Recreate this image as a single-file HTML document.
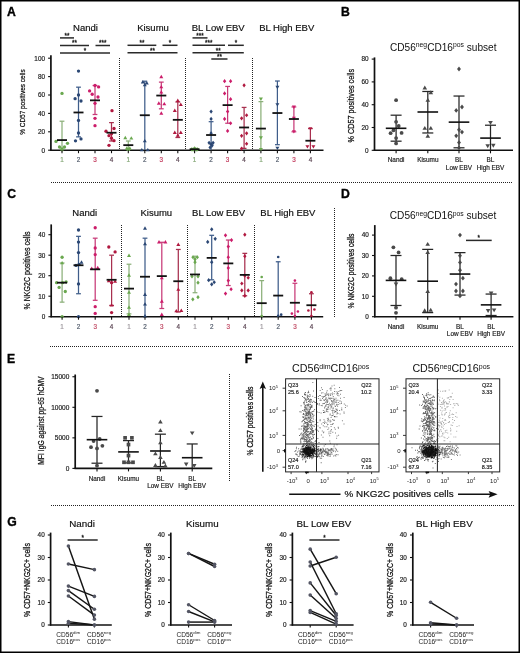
<!DOCTYPE html>
<html><head><meta charset="utf-8"><style>
html,body{margin:0;padding:0;background:#fff;}
svg{display:block;will-change:transform;}
</style></head><body>
<svg width="520" height="653" viewBox="0 0 520 653" font-family='"Liberation Sans", sans-serif'>
<rect x="0" y="0" width="520" height="653" fill="#fff"/>
<text x="7.00" y="15.70" font-size="12.2" text-anchor="start" font-weight="bold" fill="#000"  stroke="#000" stroke-width="0.35">A</text>
<text x="341.00" y="15.70" font-size="12.2" text-anchor="start" font-weight="bold" fill="#000"  stroke="#000" stroke-width="0.35">B</text>
<text x="7.20" y="197.80" font-size="12.2" text-anchor="start" font-weight="bold" fill="#000"  stroke="#000" stroke-width="0.35">C</text>
<text x="341.00" y="197.60" font-size="12.2" text-anchor="start" font-weight="bold" fill="#000"  stroke="#000" stroke-width="0.35">D</text>
<text x="7.10" y="362.60" font-size="12.2" text-anchor="start" font-weight="bold" fill="#000"  stroke="#000" stroke-width="0.35">E</text>
<text x="244.70" y="362.50" font-size="12.2" text-anchor="start" font-weight="bold" fill="#000"  stroke="#000" stroke-width="0.35">F</text>
<text x="7.20" y="526.00" font-size="12.2" text-anchor="start" font-weight="bold" fill="#000"  stroke="#000" stroke-width="0.35">G</text>
<line x1="50.90" y1="55.20" x2="50.90" y2="150.80" stroke="#111" stroke-width="1.7" />
<line x1="48.10" y1="150.20" x2="50.90" y2="150.20" stroke="#111" stroke-width="1.1" />
<text x="45.00" y="152.50" font-size="6.4" text-anchor="end" font-weight="normal" fill="#222" stroke="#222" stroke-width="0.18" >0</text>
<line x1="48.10" y1="131.80" x2="50.90" y2="131.80" stroke="#111" stroke-width="1.1" />
<text x="45.00" y="134.10" font-size="6.4" text-anchor="end" font-weight="normal" fill="#222" stroke="#222" stroke-width="0.18" >20</text>
<line x1="48.10" y1="113.40" x2="50.90" y2="113.40" stroke="#111" stroke-width="1.1" />
<text x="45.00" y="115.70" font-size="6.4" text-anchor="end" font-weight="normal" fill="#222" stroke="#222" stroke-width="0.18" >40</text>
<line x1="48.10" y1="95.00" x2="50.90" y2="95.00" stroke="#111" stroke-width="1.1" />
<text x="45.00" y="97.30" font-size="6.4" text-anchor="end" font-weight="normal" fill="#222" stroke="#222" stroke-width="0.18" >60</text>
<line x1="48.10" y1="76.60" x2="50.90" y2="76.60" stroke="#111" stroke-width="1.1" />
<text x="45.00" y="78.90" font-size="6.4" text-anchor="end" font-weight="normal" fill="#222" stroke="#222" stroke-width="0.18" >80</text>
<line x1="48.10" y1="58.20" x2="50.90" y2="58.20" stroke="#111" stroke-width="1.1" />
<text x="45.00" y="60.50" font-size="6.4" text-anchor="end" font-weight="normal" fill="#222" stroke="#222" stroke-width="0.18" >100</text>
<text x="25.10" y="102.00" font-size="7.9" text-anchor="middle" fill="#111" stroke="#111" stroke-width="0.25" transform="rotate(-90 25.10 102.00)" textLength="65.5" lengthAdjust="spacingAndGlyphs">% CD57 positives cells</text>
<line x1="50.20" y1="150.20" x2="323.50" y2="150.20" stroke="#111" stroke-width="1.6" />
<line x1="119.50" y1="57.50" x2="119.50" y2="150.20" stroke="#222" stroke-width="1" stroke-dasharray="1 1" shape-rendering="crispEdges"/>
<line x1="185.50" y1="57.50" x2="185.50" y2="150.20" stroke="#222" stroke-width="1" stroke-dasharray="1 1" shape-rendering="crispEdges"/>
<line x1="252.50" y1="57.50" x2="252.50" y2="150.20" stroke="#222" stroke-width="1" stroke-dasharray="1 1" shape-rendering="crispEdges"/>
<text x="85.50" y="30.70" font-size="9.5" text-anchor="middle" font-weight="normal" fill="#111" stroke="#111" stroke-width="0.18" >Nandi</text>
<text x="153.00" y="30.70" font-size="9.5" text-anchor="middle" font-weight="normal" fill="#111" stroke="#111" stroke-width="0.18" >Kisumu</text>
<text x="218.20" y="30.70" font-size="9.5" text-anchor="middle" font-weight="normal" fill="#111" stroke="#111" stroke-width="0.18" >BL Low EBV</text>
<text x="286.70" y="30.70" font-size="9.5" text-anchor="middle" font-weight="normal" fill="#111" stroke="#111" stroke-width="0.18" >BL High EBV</text>
<line x1="62.00" y1="121.22" x2="62.00" y2="150.20" stroke="#8cb07a" stroke-width="1.25" />
<line x1="59.60" y1="121.22" x2="64.40" y2="121.22" stroke="#8cb07a" stroke-width="1.25" />
<circle cx="62.00" cy="93.44" r="1.65" fill="#6aa84f"/>
<circle cx="56.00" cy="141.46" r="1.65" fill="#6aa84f"/>
<circle cx="67.50" cy="143.30" r="1.65" fill="#6aa84f"/>
<circle cx="59.50" cy="146.98" r="1.65" fill="#6aa84f"/>
<circle cx="62.00" cy="148.82" r="1.65" fill="#6aa84f"/>
<circle cx="64.50" cy="146.98" r="1.65" fill="#6aa84f"/>
<circle cx="62.00" cy="149.74" r="1.65" fill="#6aa84f"/>
<line x1="57.00" y1="140.08" x2="67.00" y2="140.08" stroke="#111" stroke-width="1.8" />
<line x1="62.00" y1="150.20" x2="62.00" y2="153.20" stroke="#111" stroke-width="1.1" />
<text x="62.00" y="161.80" font-size="6.3" text-anchor="middle" font-weight="normal" fill="#86a878" stroke="#86a878" stroke-width="0.18" >1</text>
<line x1="78.50" y1="87.18" x2="78.50" y2="136.86" stroke="#3f5d8a" stroke-width="1.25" />
<line x1="76.10" y1="87.18" x2="80.90" y2="87.18" stroke="#3f5d8a" stroke-width="1.25" />
<line x1="76.10" y1="136.86" x2="80.90" y2="136.86" stroke="#3f5d8a" stroke-width="1.25" />
<circle cx="78.50" cy="71.08" r="1.65" fill="#2b4774"/>
<circle cx="78.50" cy="95.00" r="1.65" fill="#2b4774"/>
<circle cx="75.10" cy="98.68" r="1.65" fill="#2b4774"/>
<circle cx="81.00" cy="100.98" r="1.65" fill="#2b4774"/>
<circle cx="78.50" cy="120.39" r="1.65" fill="#2b4774"/>
<circle cx="78.50" cy="133.00" r="1.65" fill="#2b4774"/>
<circle cx="75.50" cy="140.82" r="1.65" fill="#2b4774"/>
<circle cx="81.00" cy="138.88" r="1.65" fill="#2b4774"/>
<line x1="73.50" y1="112.48" x2="83.50" y2="112.48" stroke="#111" stroke-width="1.8" />
<line x1="78.50" y1="150.20" x2="78.50" y2="153.20" stroke="#111" stroke-width="1.1" />
<text x="78.50" y="161.80" font-size="6.3" text-anchor="middle" font-weight="normal" fill="#4e5868" stroke="#4e5868" stroke-width="0.18" >2</text>
<line x1="95.00" y1="85.52" x2="95.00" y2="114.50" stroke="#c83a78" stroke-width="1.25" />
<line x1="92.60" y1="85.52" x2="97.40" y2="85.52" stroke="#c83a78" stroke-width="1.25" />
<line x1="92.60" y1="114.50" x2="97.40" y2="114.50" stroke="#c83a78" stroke-width="1.25" />
<circle cx="89.60" cy="90.95" r="1.65" fill="#cc1d6a"/>
<circle cx="95.00" cy="85.52" r="1.65" fill="#cc1d6a"/>
<circle cx="98.60" cy="86.90" r="1.65" fill="#cc1d6a"/>
<circle cx="92.20" cy="94.26" r="1.65" fill="#cc1d6a"/>
<circle cx="98.00" cy="97.02" r="1.65" fill="#cc1d6a"/>
<circle cx="95.00" cy="103.28" r="1.65" fill="#cc1d6a"/>
<circle cx="95.00" cy="118.37" r="1.65" fill="#cc1d6a"/>
<circle cx="95.00" cy="125.64" r="1.65" fill="#cc1d6a"/>
<line x1="90.00" y1="100.34" x2="100.00" y2="100.34" stroke="#111" stroke-width="1.8" />
<line x1="95.00" y1="150.20" x2="95.00" y2="153.20" stroke="#111" stroke-width="1.1" />
<text x="95.00" y="161.80" font-size="6.3" text-anchor="middle" font-weight="normal" fill="#c23a5c" stroke="#c23a5c" stroke-width="0.18" >3</text>
<line x1="111.50" y1="122.60" x2="111.50" y2="141.00" stroke="#a8304f" stroke-width="1.25" />
<line x1="109.10" y1="122.60" x2="113.90" y2="122.60" stroke="#a8304f" stroke-width="1.25" />
<line x1="109.10" y1="141.00" x2="113.90" y2="141.00" stroke="#a8304f" stroke-width="1.25" />
<circle cx="112.00" cy="110.64" r="1.65" fill="#b0183f"/>
<circle cx="106.00" cy="131.25" r="1.65" fill="#b0183f"/>
<circle cx="114.00" cy="128.49" r="1.65" fill="#b0183f"/>
<circle cx="109.00" cy="135.66" r="1.65" fill="#b0183f"/>
<circle cx="111.50" cy="133.64" r="1.65" fill="#b0183f"/>
<circle cx="114.00" cy="140.72" r="1.65" fill="#b0183f"/>
<circle cx="109.00" cy="145.32" r="1.65" fill="#b0183f"/>
<circle cx="111.50" cy="138.24" r="1.65" fill="#b0183f"/>
<line x1="106.50" y1="132.72" x2="116.50" y2="132.72" stroke="#111" stroke-width="1.8" />
<line x1="111.50" y1="150.20" x2="111.50" y2="153.20" stroke="#111" stroke-width="1.1" />
<text x="111.50" y="161.80" font-size="6.3" text-anchor="middle" font-weight="normal" fill="#5a4452" stroke="#5a4452" stroke-width="0.18" >4</text>
<line x1="128.30" y1="141.00" x2="128.30" y2="150.20" stroke="#8cb07a" stroke-width="1.25" />
<line x1="125.90" y1="141.00" x2="130.70" y2="141.00" stroke="#8cb07a" stroke-width="1.25" />
<path d="M125.30 135.74L127.30 139.14L123.30 139.14Z" fill="#6aa84f"/>
<path d="M131.30 136.20L133.30 139.60L129.30 139.60Z" fill="#6aa84f"/>
<path d="M126.80 146.32L128.80 149.72L124.80 149.72Z" fill="#6aa84f"/>
<path d="M129.80 146.32L131.80 149.72L127.80 149.72Z" fill="#6aa84f"/>
<path d="M128.30 147.70L130.30 151.10L126.30 151.10Z" fill="#6aa84f"/>
<line x1="123.30" y1="145.14" x2="133.30" y2="145.14" stroke="#111" stroke-width="1.8" />
<line x1="128.30" y1="150.20" x2="128.30" y2="153.20" stroke="#111" stroke-width="1.1" />
<text x="128.30" y="161.80" font-size="6.3" text-anchor="middle" font-weight="normal" fill="#86a878" stroke="#86a878" stroke-width="0.18" >1</text>
<line x1="144.80" y1="81.20" x2="144.80" y2="150.20" stroke="#3f5d8a" stroke-width="1.25" />
<line x1="142.40" y1="81.20" x2="147.20" y2="81.20" stroke="#3f5d8a" stroke-width="1.25" />
<path d="M142.80 80.08L144.80 83.48L140.80 83.48Z" fill="#2b4774"/>
<path d="M146.80 81.00L148.80 84.40L144.80 84.40Z" fill="#2b4774"/>
<path d="M144.80 82.84L146.80 86.24L142.80 86.24Z" fill="#2b4774"/>
<path d="M144.80 138.96L146.80 142.36L142.80 142.36Z" fill="#2b4774"/>
<path d="M141.80 147.88L143.80 151.28L139.80 151.28Z" fill="#2b4774"/>
<path d="M147.80 147.88L149.80 151.28L145.80 151.28Z" fill="#2b4774"/>
<line x1="139.80" y1="115.24" x2="149.80" y2="115.24" stroke="#111" stroke-width="1.8" />
<line x1="144.80" y1="150.20" x2="144.80" y2="153.20" stroke="#111" stroke-width="1.1" />
<text x="144.80" y="161.80" font-size="6.3" text-anchor="middle" font-weight="normal" fill="#4e5868" stroke="#4e5868" stroke-width="0.18" >2</text>
<line x1="161.30" y1="82.12" x2="161.30" y2="108.80" stroke="#c83a78" stroke-width="1.25" />
<line x1="158.90" y1="82.12" x2="163.70" y2="82.12" stroke="#c83a78" stroke-width="1.25" />
<line x1="158.90" y1="108.80" x2="163.70" y2="108.80" stroke="#c83a78" stroke-width="1.25" />
<path d="M161.30 74.84L163.30 78.24L159.30 78.24Z" fill="#cc1d6a"/>
<path d="M161.30 84.96L163.30 88.36L159.30 88.36Z" fill="#cc1d6a"/>
<path d="M161.30 90.20L163.30 93.60L159.30 93.60Z" fill="#cc1d6a"/>
<path d="M158.80 101.24L160.80 104.64L156.80 104.64Z" fill="#cc1d6a"/>
<path d="M164.30 101.88L166.30 105.28L162.30 105.28Z" fill="#cc1d6a"/>
<path d="M161.30 111.36L163.30 114.76L159.30 114.76Z" fill="#cc1d6a"/>
<line x1="156.30" y1="95.55" x2="166.30" y2="95.55" stroke="#111" stroke-width="1.8" />
<line x1="161.30" y1="150.20" x2="161.30" y2="153.20" stroke="#111" stroke-width="1.1" />
<text x="161.30" y="161.80" font-size="6.3" text-anchor="middle" font-weight="normal" fill="#c23a5c" stroke="#c23a5c" stroke-width="0.18" >3</text>
<line x1="177.80" y1="101.99" x2="177.80" y2="137.50" stroke="#a8304f" stroke-width="1.25" />
<line x1="175.40" y1="101.99" x2="180.20" y2="101.99" stroke="#a8304f" stroke-width="1.25" />
<line x1="175.40" y1="137.50" x2="180.20" y2="137.50" stroke="#a8304f" stroke-width="1.25" />
<path d="M177.80 98.48L179.80 101.88L175.80 101.88Z" fill="#b0183f"/>
<path d="M180.80 102.62L182.80 106.02L178.80 106.02Z" fill="#b0183f"/>
<path d="M174.80 108.60L176.80 112.00L172.80 112.00Z" fill="#b0183f"/>
<path d="M174.80 130.50L176.80 133.90L172.80 133.90Z" fill="#b0183f"/>
<path d="M180.80 130.50L182.80 133.90L178.80 133.90Z" fill="#b0183f"/>
<path d="M177.80 133.44L179.80 136.84L175.80 136.84Z" fill="#b0183f"/>
<line x1="172.80" y1="119.84" x2="182.80" y2="119.84" stroke="#111" stroke-width="1.8" />
<line x1="177.80" y1="150.20" x2="177.80" y2="153.20" stroke="#111" stroke-width="1.1" />
<text x="177.80" y="161.80" font-size="6.3" text-anchor="middle" font-weight="normal" fill="#5a4452" stroke="#5a4452" stroke-width="0.18" >4</text>
<line x1="194.60" y1="148.36" x2="194.60" y2="150.20" stroke="#8cb07a" stroke-width="1.25" />
<line x1="192.20" y1="148.36" x2="197.00" y2="148.36" stroke="#8cb07a" stroke-width="1.25" />
<path d="M191.60 147.18L193.28 149.28L191.60 151.38L189.92 149.28Z" fill="#6aa84f"/>
<path d="M194.60 147.18L196.28 149.28L194.60 151.38L192.92 149.28Z" fill="#6aa84f"/>
<path d="M197.60 147.18L199.28 149.28L197.60 151.38L195.92 149.28Z" fill="#6aa84f"/>
<path d="M193.10 147.64L194.78 149.74L193.10 151.84L191.42 149.74Z" fill="#6aa84f"/>
<path d="M196.10 147.64L197.78 149.74L196.10 151.84L194.42 149.74Z" fill="#6aa84f"/>
<path d="M194.60 146.26L196.28 148.36L194.60 150.46L192.92 148.36Z" fill="#6aa84f"/>
<line x1="189.60" y1="149.28" x2="199.60" y2="149.28" stroke="#111" stroke-width="1.8" />
<line x1="194.60" y1="150.20" x2="194.60" y2="153.20" stroke="#111" stroke-width="1.1" />
<text x="194.60" y="161.80" font-size="6.3" text-anchor="middle" font-weight="normal" fill="#86a878" stroke="#86a878" stroke-width="0.18" >1</text>
<line x1="211.10" y1="121.68" x2="211.10" y2="150.20" stroke="#3f5d8a" stroke-width="1.25" />
<line x1="208.70" y1="121.68" x2="213.50" y2="121.68" stroke="#3f5d8a" stroke-width="1.25" />
<path d="M211.10 109.46L212.78 111.56L211.10 113.66L209.42 111.56Z" fill="#2b4774"/>
<path d="M211.10 116.82L212.78 118.92L211.10 121.02L209.42 118.92Z" fill="#2b4774"/>
<path d="M211.10 131.26L212.78 133.36L211.10 135.46L209.42 133.36Z" fill="#2b4774"/>
<path d="M209.10 140.74L210.78 142.84L209.10 144.94L207.42 142.84Z" fill="#2b4774"/>
<path d="M213.10 140.74L214.78 142.84L213.10 144.94L211.42 142.84Z" fill="#2b4774"/>
<path d="M211.10 142.12L212.78 144.22L211.10 146.32L209.42 144.22Z" fill="#2b4774"/>
<path d="M210.10 145.34L211.78 147.44L210.10 149.54L208.42 147.44Z" fill="#2b4774"/>
<path d="M212.10 143.50L213.78 145.60L212.10 147.70L210.42 145.60Z" fill="#2b4774"/>
<line x1="206.10" y1="135.02" x2="216.10" y2="135.02" stroke="#111" stroke-width="1.8" />
<line x1="211.10" y1="150.20" x2="211.10" y2="153.20" stroke="#111" stroke-width="1.1" />
<text x="211.10" y="161.80" font-size="6.3" text-anchor="middle" font-weight="normal" fill="#4e5868" stroke="#4e5868" stroke-width="0.18" >2</text>
<line x1="227.60" y1="86.44" x2="227.60" y2="123.24" stroke="#c83a78" stroke-width="1.25" />
<line x1="225.20" y1="86.44" x2="230.00" y2="86.44" stroke="#c83a78" stroke-width="1.25" />
<line x1="225.20" y1="123.24" x2="230.00" y2="123.24" stroke="#c83a78" stroke-width="1.25" />
<path d="M224.60 79.10L226.28 81.20L224.60 83.30L222.92 81.20Z" fill="#cc1d6a"/>
<path d="M230.60 79.10L232.28 81.20L230.60 83.30L228.92 81.20Z" fill="#cc1d6a"/>
<path d="M224.60 91.34L226.28 93.44L224.60 95.54L222.92 93.44Z" fill="#cc1d6a"/>
<path d="M230.60 97.04L232.28 99.14L230.60 101.24L228.92 99.14Z" fill="#cc1d6a"/>
<path d="M227.60 109.46L229.28 111.56L227.60 113.66L225.92 111.56Z" fill="#cc1d6a"/>
<path d="M224.60 116.82L226.28 118.92L224.60 121.02L222.92 118.92Z" fill="#cc1d6a"/>
<path d="M230.60 121.14L232.28 123.24L230.60 125.34L228.92 123.24Z" fill="#cc1d6a"/>
<path d="M227.60 128.78L229.28 130.88L227.60 132.98L225.92 130.88Z" fill="#cc1d6a"/>
<line x1="222.60" y1="105.12" x2="232.60" y2="105.12" stroke="#111" stroke-width="1.8" />
<line x1="227.60" y1="150.20" x2="227.60" y2="153.20" stroke="#111" stroke-width="1.1" />
<text x="227.60" y="161.80" font-size="6.3" text-anchor="middle" font-weight="normal" fill="#c23a5c" stroke="#c23a5c" stroke-width="0.18" >3</text>
<line x1="244.10" y1="107.42" x2="244.10" y2="148.36" stroke="#a8304f" stroke-width="1.25" />
<line x1="241.70" y1="107.42" x2="246.50" y2="107.42" stroke="#a8304f" stroke-width="1.25" />
<line x1="241.70" y1="148.36" x2="246.50" y2="148.36" stroke="#a8304f" stroke-width="1.25" />
<path d="M244.10 83.24L245.78 85.34L244.10 87.44L242.42 85.34Z" fill="#b0183f"/>
<path d="M241.60 116.27L243.28 118.37L241.60 120.47L239.92 118.37Z" fill="#b0183f"/>
<path d="M246.60 113.14L248.28 115.24L246.60 117.34L244.92 115.24Z" fill="#b0183f"/>
<path d="M241.60 133.75L243.28 135.85L241.60 137.95L239.92 135.85Z" fill="#b0183f"/>
<path d="M246.60 131.26L248.28 133.36L246.60 135.46L244.92 133.36Z" fill="#b0183f"/>
<path d="M246.60 141.66L248.28 143.76L246.60 145.86L244.92 143.76Z" fill="#b0183f"/>
<path d="M241.60 146.44L243.28 148.54L241.60 150.64L239.92 148.54Z" fill="#b0183f"/>
<line x1="239.10" y1="127.48" x2="249.10" y2="127.48" stroke="#111" stroke-width="1.8" />
<line x1="244.10" y1="150.20" x2="244.10" y2="153.20" stroke="#111" stroke-width="1.1" />
<text x="244.10" y="161.80" font-size="6.3" text-anchor="middle" font-weight="normal" fill="#5a4452" stroke="#5a4452" stroke-width="0.18" >4</text>
<line x1="260.90" y1="101.62" x2="260.90" y2="150.20" stroke="#8cb07a" stroke-width="1.25" />
<line x1="258.50" y1="101.62" x2="263.30" y2="101.62" stroke="#8cb07a" stroke-width="1.25" />
<path d="M260.90 101.00L262.90 97.60L258.90 97.60Z" fill="#6aa84f"/>
<path d="M260.90 139.64L262.90 136.24L258.90 136.24Z" fill="#6aa84f"/>
<path d="M260.90 151.50L262.90 148.10L258.90 148.10Z" fill="#6aa84f"/>
<line x1="255.90" y1="128.58" x2="265.90" y2="128.58" stroke="#111" stroke-width="1.8" />
<line x1="260.90" y1="150.20" x2="260.90" y2="153.20" stroke="#111" stroke-width="1.1" />
<text x="260.90" y="161.80" font-size="6.3" text-anchor="middle" font-weight="normal" fill="#86a878" stroke="#86a878" stroke-width="0.18" >1</text>
<line x1="277.40" y1="81.02" x2="277.40" y2="144.68" stroke="#3f5d8a" stroke-width="1.25" />
<line x1="275.00" y1="81.02" x2="279.80" y2="81.02" stroke="#3f5d8a" stroke-width="1.25" />
<line x1="275.00" y1="144.68" x2="279.80" y2="144.68" stroke="#3f5d8a" stroke-width="1.25" />
<path d="M277.40 89.13L279.40 85.73L275.40 85.73Z" fill="#2b4774"/>
<path d="M277.40 106.61L279.40 103.21L275.40 103.21Z" fill="#2b4774"/>
<path d="M277.40 150.03L279.40 146.63L275.40 146.63Z" fill="#2b4774"/>
<line x1="272.40" y1="113.03" x2="282.40" y2="113.03" stroke="#111" stroke-width="1.8" />
<line x1="277.40" y1="150.20" x2="277.40" y2="153.20" stroke="#111" stroke-width="1.1" />
<text x="277.40" y="161.80" font-size="6.3" text-anchor="middle" font-weight="normal" fill="#4e5868" stroke="#4e5868" stroke-width="0.18" >2</text>
<line x1="293.90" y1="106.96" x2="293.90" y2="131.80" stroke="#c83a78" stroke-width="1.25" />
<line x1="291.50" y1="106.96" x2="296.30" y2="106.96" stroke="#c83a78" stroke-width="1.25" />
<line x1="291.50" y1="131.80" x2="296.30" y2="131.80" stroke="#c83a78" stroke-width="1.25" />
<path d="M293.90 109.00L295.90 105.60L291.90 105.60Z" fill="#cc1d6a"/>
<path d="M293.90 120.04L295.90 116.64L291.90 116.64Z" fill="#cc1d6a"/>
<path d="M293.90 133.56L295.90 130.16L291.90 130.16Z" fill="#cc1d6a"/>
<line x1="288.90" y1="119.01" x2="298.90" y2="119.01" stroke="#111" stroke-width="1.8" />
<line x1="293.90" y1="150.20" x2="293.90" y2="153.20" stroke="#111" stroke-width="1.1" />
<text x="293.90" y="161.80" font-size="6.3" text-anchor="middle" font-weight="normal" fill="#c23a5c" stroke="#c23a5c" stroke-width="0.18" >3</text>
<line x1="310.40" y1="128.58" x2="310.40" y2="150.20" stroke="#a8304f" stroke-width="1.25" />
<line x1="308.00" y1="128.58" x2="312.80" y2="128.58" stroke="#a8304f" stroke-width="1.25" />
<path d="M310.40 130.62L312.40 127.22L308.40 127.22Z" fill="#b0183f"/>
<path d="M307.40 148.56L309.40 145.16L305.40 145.16Z" fill="#b0183f"/>
<path d="M313.40 148.56L315.40 145.16L311.40 145.16Z" fill="#b0183f"/>
<line x1="305.40" y1="140.72" x2="315.40" y2="140.72" stroke="#111" stroke-width="1.8" />
<line x1="310.40" y1="150.20" x2="310.40" y2="153.20" stroke="#111" stroke-width="1.1" />
<text x="310.40" y="161.80" font-size="6.3" text-anchor="middle" font-weight="normal" fill="#5a4452" stroke="#5a4452" stroke-width="0.18" >4</text>
<line x1="60.00" y1="37.90" x2="74.00" y2="37.90" stroke="#2a2a2a" stroke-width="1.5" />
<text x="67.00" y="37.80" font-size="6.3" text-anchor="middle" font-weight="normal" fill="#1a1a1a"  stroke="#1a1a1a" stroke-width="0.3">**</text>
<line x1="60.00" y1="45.50" x2="89.00" y2="45.50" stroke="#2a2a2a" stroke-width="1.5" />
<text x="74.50" y="45.40" font-size="6.3" text-anchor="middle" font-weight="normal" fill="#1a1a1a"  stroke="#1a1a1a" stroke-width="0.3">**</text>
<line x1="95.50" y1="45.50" x2="110.00" y2="45.50" stroke="#2a2a2a" stroke-width="1.5" />
<text x="102.75" y="45.40" font-size="6.3" text-anchor="middle" font-weight="normal" fill="#1a1a1a"  stroke="#1a1a1a" stroke-width="0.3">***</text>
<line x1="60.00" y1="53.00" x2="110.00" y2="53.00" stroke="#2a2a2a" stroke-width="1.5" />
<text x="85.00" y="52.90" font-size="6.3" text-anchor="middle" font-weight="normal" fill="#1a1a1a"  stroke="#1a1a1a" stroke-width="0.3">*</text>
<line x1="127.50" y1="45.30" x2="156.30" y2="45.30" stroke="#2a2a2a" stroke-width="1.5" />
<text x="141.90" y="45.20" font-size="6.3" text-anchor="middle" font-weight="normal" fill="#1a1a1a"  stroke="#1a1a1a" stroke-width="0.3">**</text>
<line x1="162.50" y1="45.30" x2="177.50" y2="45.30" stroke="#2a2a2a" stroke-width="1.5" />
<text x="170.00" y="45.20" font-size="6.3" text-anchor="middle" font-weight="normal" fill="#1a1a1a"  stroke="#1a1a1a" stroke-width="0.3">*</text>
<line x1="127.50" y1="52.80" x2="177.50" y2="52.80" stroke="#2a2a2a" stroke-width="1.5" />
<text x="152.50" y="52.70" font-size="6.3" text-anchor="middle" font-weight="normal" fill="#1a1a1a"  stroke="#1a1a1a" stroke-width="0.3">**</text>
<line x1="192.50" y1="37.90" x2="207.50" y2="37.90" stroke="#2a2a2a" stroke-width="1.5" />
<text x="200.00" y="37.80" font-size="6.3" text-anchor="middle" font-weight="normal" fill="#1a1a1a"  stroke="#1a1a1a" stroke-width="0.3">***</text>
<line x1="192.50" y1="45.30" x2="225.00" y2="45.30" stroke="#2a2a2a" stroke-width="1.5" />
<text x="208.75" y="45.20" font-size="6.3" text-anchor="middle" font-weight="normal" fill="#1a1a1a"  stroke="#1a1a1a" stroke-width="0.3">***</text>
<line x1="228.00" y1="45.30" x2="243.80" y2="45.30" stroke="#2a2a2a" stroke-width="1.5" />
<text x="235.90" y="45.20" font-size="6.3" text-anchor="middle" font-weight="normal" fill="#1a1a1a"  stroke="#1a1a1a" stroke-width="0.3">*</text>
<line x1="192.50" y1="52.80" x2="243.80" y2="52.80" stroke="#2a2a2a" stroke-width="1.5" />
<text x="218.15" y="52.70" font-size="6.3" text-anchor="middle" font-weight="normal" fill="#1a1a1a"  stroke="#1a1a1a" stroke-width="0.3">**</text>
<line x1="211.30" y1="59.00" x2="227.50" y2="59.00" stroke="#2a2a2a" stroke-width="1.5" />
<text x="219.40" y="58.90" font-size="6.3" text-anchor="middle" font-weight="normal" fill="#1a1a1a"  stroke="#1a1a1a" stroke-width="0.3">**</text>
<line x1="51.00" y1="182.50" x2="513.00" y2="182.50" stroke="#222" stroke-width="1" stroke-dasharray="1 1" shape-rendering="crispEdges"/>
<line x1="50.00" y1="346.50" x2="514.00" y2="346.50" stroke="#222" stroke-width="1" stroke-dasharray="1 1" shape-rendering="crispEdges"/>
<line x1="51.00" y1="505.50" x2="514.00" y2="505.50" stroke="#222" stroke-width="1" stroke-dasharray="1 1" shape-rendering="crispEdges"/>
<line x1="334.50" y1="208.00" x2="334.50" y2="317.50" stroke="#222" stroke-width="1" stroke-dasharray="1 1" shape-rendering="crispEdges"/>
<line x1="229.50" y1="374.00" x2="229.50" y2="482.00" stroke="#222" stroke-width="1" stroke-dasharray="1 1" shape-rendering="crispEdges"/>
<line x1="374.50" y1="57.40" x2="374.50" y2="150.90" stroke="#111" stroke-width="1.7" />
<line x1="371.70" y1="150.30" x2="374.50" y2="150.30" stroke="#111" stroke-width="1.1" />
<text x="368.60" y="152.60" font-size="6.4" text-anchor="end" font-weight="normal" fill="#222" stroke="#222" stroke-width="0.18" >0</text>
<line x1="371.70" y1="127.50" x2="374.50" y2="127.50" stroke="#111" stroke-width="1.1" />
<text x="368.60" y="129.80" font-size="6.4" text-anchor="end" font-weight="normal" fill="#222" stroke="#222" stroke-width="0.18" >20</text>
<line x1="371.70" y1="104.70" x2="374.50" y2="104.70" stroke="#111" stroke-width="1.1" />
<text x="368.60" y="107.00" font-size="6.4" text-anchor="end" font-weight="normal" fill="#222" stroke="#222" stroke-width="0.18" >40</text>
<line x1="371.70" y1="81.90" x2="374.50" y2="81.90" stroke="#111" stroke-width="1.1" />
<text x="368.60" y="84.20" font-size="6.4" text-anchor="end" font-weight="normal" fill="#222" stroke="#222" stroke-width="0.18" >60</text>
<line x1="371.70" y1="59.10" x2="374.50" y2="59.10" stroke="#111" stroke-width="1.1" />
<text x="368.60" y="61.40" font-size="6.4" text-anchor="end" font-weight="normal" fill="#222" stroke="#222" stroke-width="0.18" >80</text>
<text x="354.20" y="105.70" font-size="8.4" text-anchor="middle" fill="#111" stroke="#111" stroke-width="0.25" transform="rotate(-90 354.20 105.70)" textLength="73.4" lengthAdjust="spacingAndGlyphs">% CD57 positives cells</text>
<line x1="373.80" y1="150.30" x2="513.00" y2="150.30" stroke="#111" stroke-width="1.6" />
<text x="390.00" y="50.50" font-size="10.1" fill="#111">CD56<tspan font-size="6.8" dy="-3.2">neg</tspan><tspan dy="3.2">CD16</tspan><tspan font-size="6.8" dy="-3.2">pos</tspan><tspan dy="3.2"> subset</tspan></text>
<line x1="396.10" y1="115.19" x2="396.10" y2="141.18" stroke="#262626" stroke-width="1.25" />
<line x1="390.60" y1="115.19" x2="401.60" y2="115.19" stroke="#262626" stroke-width="1.25" />
<line x1="390.60" y1="141.18" x2="401.60" y2="141.18" stroke="#262626" stroke-width="1.25" />
<circle cx="396.10" cy="100.14" r="1.90" fill="#4a4a4a"/>
<circle cx="396.10" cy="121.80" r="1.90" fill="#4a4a4a"/>
<circle cx="398.70" cy="126.02" r="1.90" fill="#4a4a4a"/>
<circle cx="393.50" cy="130.24" r="1.90" fill="#4a4a4a"/>
<circle cx="390.60" cy="133.20" r="1.90" fill="#4a4a4a"/>
<circle cx="401.60" cy="132.97" r="1.90" fill="#4a4a4a"/>
<circle cx="396.10" cy="138.10" r="1.90" fill="#4a4a4a"/>
<circle cx="396.10" cy="143.46" r="1.90" fill="#4a4a4a"/>
<line x1="385.80" y1="128.30" x2="406.40" y2="128.30" stroke="#111" stroke-width="1.6" />
<line x1="396.10" y1="150.30" x2="396.10" y2="153.30" stroke="#111" stroke-width="1.1" />
<line x1="427.80" y1="91.48" x2="427.80" y2="132.97" stroke="#262626" stroke-width="1.25" />
<line x1="422.30" y1="91.48" x2="433.30" y2="91.48" stroke="#262626" stroke-width="1.25" />
<line x1="422.30" y1="132.97" x2="433.30" y2="132.97" stroke="#262626" stroke-width="1.25" />
<path d="M424.80 85.60L427.10 89.51L422.50 89.51Z" fill="#4a4a4a"/>
<path d="M430.80 90.27L433.10 94.18L428.50 94.18Z" fill="#4a4a4a"/>
<path d="M427.80 97.79L430.10 101.70L425.50 101.70Z" fill="#4a4a4a"/>
<path d="M424.80 125.95L427.10 129.86L422.50 129.86Z" fill="#4a4a4a"/>
<path d="M430.80 125.95L433.10 129.86L428.50 129.86Z" fill="#4a4a4a"/>
<path d="M427.80 133.82L430.10 137.73L425.50 137.73Z" fill="#4a4a4a"/>
<line x1="417.50" y1="112.00" x2="438.10" y2="112.00" stroke="#111" stroke-width="1.6" />
<line x1="427.80" y1="150.30" x2="427.80" y2="153.30" stroke="#111" stroke-width="1.1" />
<line x1="459.00" y1="96.04" x2="459.00" y2="147.79" stroke="#262626" stroke-width="1.25" />
<line x1="453.50" y1="96.04" x2="464.50" y2="96.04" stroke="#262626" stroke-width="1.25" />
<line x1="453.50" y1="147.79" x2="464.50" y2="147.79" stroke="#262626" stroke-width="1.25" />
<path d="M459.00 66.60L460.93 69.02L459.00 71.43L457.07 69.02Z" fill="#4a4a4a"/>
<path d="M462.00 104.57L463.93 106.98L462.00 109.40L460.07 106.98Z" fill="#4a4a4a"/>
<path d="M456.20 107.98L458.13 110.40L456.20 112.82L454.27 110.40Z" fill="#4a4a4a"/>
<path d="M459.00 127.36L460.93 129.78L459.00 132.19L457.07 129.78Z" fill="#4a4a4a"/>
<path d="M462.00 129.65L463.93 132.06L462.00 134.47L460.07 132.06Z" fill="#4a4a4a"/>
<path d="M456.20 133.41L458.13 135.82L456.20 138.24L454.27 135.82Z" fill="#4a4a4a"/>
<path d="M459.00 140.13L460.93 142.55L459.00 144.96L457.07 142.55Z" fill="#4a4a4a"/>
<path d="M459.00 145.38L460.93 147.79L459.00 150.21L457.07 147.79Z" fill="#4a4a4a"/>
<line x1="448.70" y1="122.14" x2="469.30" y2="122.14" stroke="#111" stroke-width="1.6" />
<line x1="459.00" y1="150.30" x2="459.00" y2="153.30" stroke="#111" stroke-width="1.1" />
<line x1="490.50" y1="125.22" x2="490.50" y2="150.30" stroke="#262626" stroke-width="1.25" />
<line x1="485.00" y1="125.22" x2="496.00" y2="125.22" stroke="#262626" stroke-width="1.25" />
<path d="M490.50 124.94L492.80 121.03L488.20 121.03Z" fill="#4a4a4a"/>
<path d="M487.70 148.20L490.00 144.29L485.40 144.29Z" fill="#4a4a4a"/>
<path d="M493.30 147.74L495.60 143.83L491.00 143.83Z" fill="#4a4a4a"/>
<line x1="480.20" y1="138.10" x2="500.80" y2="138.10" stroke="#111" stroke-width="1.6" />
<line x1="490.50" y1="150.30" x2="490.50" y2="153.30" stroke="#111" stroke-width="1.1" />
<text x="396.10" y="162.00" font-size="6.4" text-anchor="middle" font-weight="normal" fill="#222" stroke="#222" stroke-width="0.18" >Nandi</text>
<text x="427.80" y="162.00" font-size="6.4" text-anchor="middle" font-weight="normal" fill="#222" stroke="#222" stroke-width="0.18" >Kisumu</text>
<text x="459.00" y="162.00" font-size="6.4" text-anchor="middle" font-weight="normal" fill="#222" stroke="#222" stroke-width="0.18" >BL</text>
<text x="459.00" y="169.60" font-size="6.4" text-anchor="middle" font-weight="normal" fill="#222" stroke="#222" stroke-width="0.18" >Low EBV</text>
<text x="490.50" y="162.00" font-size="6.4" text-anchor="middle" font-weight="normal" fill="#222" stroke="#222" stroke-width="0.18" >BL</text>
<text x="490.50" y="169.60" font-size="6.4" text-anchor="middle" font-weight="normal" fill="#222" stroke="#222" stroke-width="0.18" >High EBV</text>
<line x1="51.20" y1="224.40" x2="51.20" y2="317.30" stroke="#111" stroke-width="1.7" />
<line x1="48.40" y1="316.70" x2="51.20" y2="316.70" stroke="#111" stroke-width="1.1" />
<text x="45.30" y="319.00" font-size="6.4" text-anchor="end" font-weight="normal" fill="#222" stroke="#222" stroke-width="0.18" >0</text>
<line x1="48.40" y1="296.20" x2="51.20" y2="296.20" stroke="#111" stroke-width="1.1" />
<text x="45.30" y="298.50" font-size="6.4" text-anchor="end" font-weight="normal" fill="#222" stroke="#222" stroke-width="0.18" >10</text>
<line x1="48.40" y1="275.70" x2="51.20" y2="275.70" stroke="#111" stroke-width="1.1" />
<text x="45.30" y="278.00" font-size="6.4" text-anchor="end" font-weight="normal" fill="#222" stroke="#222" stroke-width="0.18" >20</text>
<line x1="48.40" y1="255.20" x2="51.20" y2="255.20" stroke="#111" stroke-width="1.1" />
<text x="45.30" y="257.50" font-size="6.4" text-anchor="end" font-weight="normal" fill="#222" stroke="#222" stroke-width="0.18" >30</text>
<line x1="48.40" y1="234.70" x2="51.20" y2="234.70" stroke="#111" stroke-width="1.1" />
<text x="45.30" y="237.00" font-size="6.4" text-anchor="end" font-weight="normal" fill="#222" stroke="#222" stroke-width="0.18" >40</text>
<text x="29.60" y="270.50" font-size="8.4" text-anchor="middle" fill="#111" stroke="#111" stroke-width="0.25" transform="rotate(-90 29.60 270.50)" textLength="78" lengthAdjust="spacingAndGlyphs">% NKG2C positives cells</text>
<line x1="50.50" y1="316.70" x2="323.20" y2="316.70" stroke="#111" stroke-width="1.6" />
<line x1="121.50" y1="225.00" x2="121.50" y2="316.70" stroke="#222" stroke-width="1" stroke-dasharray="1 1" shape-rendering="crispEdges"/>
<line x1="187.50" y1="225.00" x2="187.50" y2="316.70" stroke="#222" stroke-width="1" stroke-dasharray="1 1" shape-rendering="crispEdges"/>
<line x1="254.50" y1="225.00" x2="254.50" y2="316.70" stroke="#222" stroke-width="1" stroke-dasharray="1 1" shape-rendering="crispEdges"/>
<text x="84.75" y="215.80" font-size="9.5" text-anchor="middle" font-weight="normal" fill="#111" stroke="#111" stroke-width="0.18" >Nandi</text>
<text x="156.30" y="215.80" font-size="9.5" text-anchor="middle" font-weight="normal" fill="#111" stroke="#111" stroke-width="0.18" >Kisumu</text>
<text x="218.60" y="215.80" font-size="9.5" text-anchor="middle" font-weight="normal" fill="#111" stroke="#111" stroke-width="0.18" >BL Low EBV</text>
<text x="287.90" y="215.80" font-size="9.5" text-anchor="middle" font-weight="normal" fill="#111" stroke="#111" stroke-width="0.18" >BL High EBV</text>
<line x1="62.10" y1="262.99" x2="62.10" y2="302.14" stroke="#8cb07a" stroke-width="1.25" />
<line x1="59.70" y1="262.99" x2="64.50" y2="262.99" stroke="#8cb07a" stroke-width="1.25" />
<line x1="59.70" y1="302.14" x2="64.50" y2="302.14" stroke="#8cb07a" stroke-width="1.25" />
<circle cx="62.10" cy="257.25" r="1.65" fill="#6aa84f"/>
<path d="M62.10 260.95L64.10 264.35L60.10 264.35Z" fill="#6aa84f"/>
<circle cx="56.60" cy="282.67" r="1.65" fill="#6aa84f"/>
<circle cx="62.60" cy="282.67" r="1.65" fill="#6aa84f"/>
<circle cx="66.10" cy="281.85" r="1.65" fill="#6aa84f"/>
<circle cx="59.10" cy="287.38" r="1.65" fill="#6aa84f"/>
<circle cx="65.30" cy="291.49" r="1.65" fill="#6aa84f"/>
<circle cx="62.10" cy="316.70" r="1.65" fill="#6aa84f"/>
<line x1="57.10" y1="282.67" x2="67.10" y2="282.67" stroke="#111" stroke-width="1.8" />
<line x1="62.10" y1="316.70" x2="62.10" y2="319.70" stroke="#111" stroke-width="1.1" />
<text x="62.10" y="328.80" font-size="6.3" text-anchor="middle" font-weight="normal" fill="#a09aa0" stroke="#a09aa0" stroke-width="0.18" >1</text>
<line x1="78.50" y1="236.34" x2="78.50" y2="293.74" stroke="#3f5d8a" stroke-width="1.25" />
<line x1="76.10" y1="236.34" x2="80.90" y2="236.34" stroke="#3f5d8a" stroke-width="1.25" />
<line x1="76.10" y1="293.74" x2="80.90" y2="293.74" stroke="#3f5d8a" stroke-width="1.25" />
<circle cx="78.50" cy="229.99" r="1.65" fill="#2b4774"/>
<circle cx="78.50" cy="242.08" r="1.65" fill="#2b4774"/>
<circle cx="78.50" cy="252.53" r="1.65" fill="#2b4774"/>
<circle cx="76.00" cy="265.45" r="1.65" fill="#2b4774"/>
<path d="M81.50 260.33L83.50 263.74L79.50 263.74Z" fill="#2b4774"/>
<circle cx="79.00" cy="264.43" r="1.65" fill="#2b4774"/>
<circle cx="78.50" cy="283.90" r="1.65" fill="#2b4774"/>
<circle cx="78.50" cy="316.70" r="1.65" fill="#2b4774"/>
<line x1="73.50" y1="265.25" x2="83.50" y2="265.25" stroke="#111" stroke-width="1.8" />
<line x1="78.50" y1="316.70" x2="78.50" y2="319.70" stroke="#111" stroke-width="1.1" />
<text x="78.50" y="328.80" font-size="6.3" text-anchor="middle" font-weight="normal" fill="#4e5868" stroke="#4e5868" stroke-width="0.18" >2</text>
<line x1="95.20" y1="238.19" x2="95.20" y2="300.30" stroke="#c83a78" stroke-width="1.25" />
<line x1="92.80" y1="238.19" x2="97.60" y2="238.19" stroke="#c83a78" stroke-width="1.25" />
<line x1="92.80" y1="300.30" x2="97.60" y2="300.30" stroke="#c83a78" stroke-width="1.25" />
<circle cx="95.20" cy="227.73" r="1.65" fill="#cc1d6a"/>
<circle cx="95.20" cy="248.02" r="1.65" fill="#cc1d6a"/>
<circle cx="95.20" cy="254.58" r="1.65" fill="#cc1d6a"/>
<path d="M91.70 266.48L93.70 269.88L89.70 269.88Z" fill="#cc1d6a"/>
<path d="M97.70 265.87L99.70 269.27L95.70 269.27Z" fill="#cc1d6a"/>
<circle cx="95.20" cy="306.65" r="1.65" fill="#cc1d6a"/>
<circle cx="95.20" cy="313.42" r="1.65" fill="#cc1d6a"/>
<line x1="90.20" y1="269.34" x2="100.20" y2="269.34" stroke="#111" stroke-width="1.8" />
<line x1="95.20" y1="316.70" x2="95.20" y2="319.70" stroke="#111" stroke-width="1.1" />
<text x="95.20" y="328.80" font-size="6.3" text-anchor="middle" font-weight="normal" fill="#c04a64" stroke="#c04a64" stroke-width="0.18" >3</text>
<line x1="111.60" y1="255.20" x2="111.60" y2="305.43" stroke="#a8304f" stroke-width="1.25" />
<line x1="109.20" y1="255.20" x2="114.00" y2="255.20" stroke="#a8304f" stroke-width="1.25" />
<line x1="109.20" y1="305.43" x2="114.00" y2="305.43" stroke="#a8304f" stroke-width="1.25" />
<circle cx="108.80" cy="247.00" r="1.65" fill="#b0183f"/>
<circle cx="115.10" cy="251.92" r="1.65" fill="#b0183f"/>
<path d="M108.80 278.78L110.80 282.19L106.80 282.19Z" fill="#b0183f"/>
<path d="M115.10 279.40L117.10 282.80L113.10 282.80Z" fill="#b0183f"/>
<circle cx="111.60" cy="282.67" r="1.65" fill="#b0183f"/>
<path d="M111.60 303.18L113.60 306.58L109.60 306.58Z" fill="#b0183f"/>
<circle cx="111.60" cy="312.60" r="1.65" fill="#b0183f"/>
<line x1="106.60" y1="279.80" x2="116.60" y2="279.80" stroke="#111" stroke-width="1.8" />
<line x1="111.60" y1="316.70" x2="111.60" y2="319.70" stroke="#111" stroke-width="1.1" />
<text x="111.60" y="328.80" font-size="6.3" text-anchor="middle" font-weight="normal" fill="#5a4452" stroke="#5a4452" stroke-width="0.18" >4</text>
<line x1="129.00" y1="264.22" x2="129.00" y2="313.83" stroke="#8cb07a" stroke-width="1.25" />
<line x1="126.60" y1="264.22" x2="131.40" y2="264.22" stroke="#8cb07a" stroke-width="1.25" />
<line x1="126.60" y1="313.83" x2="131.40" y2="313.83" stroke="#8cb07a" stroke-width="1.25" />
<path d="M129.00 253.57L131.00 256.97L127.00 256.97Z" fill="#6aa84f"/>
<path d="M129.00 273.25L131.00 276.65L127.00 276.65Z" fill="#6aa84f"/>
<path d="M129.00 290.47L131.00 293.87L127.00 293.87Z" fill="#6aa84f"/>
<path d="M129.00 305.43L131.00 308.83L127.00 308.83Z" fill="#6aa84f"/>
<path d="M129.00 312.61L131.00 316.01L127.00 316.01Z" fill="#6aa84f"/>
<line x1="124.00" y1="288.62" x2="134.00" y2="288.62" stroke="#111" stroke-width="1.8" />
<line x1="129.00" y1="316.70" x2="129.00" y2="319.70" stroke="#111" stroke-width="1.1" />
<text x="129.00" y="328.80" font-size="6.3" text-anchor="middle" font-weight="normal" fill="#a09aa0" stroke="#a09aa0" stroke-width="0.18" >1</text>
<line x1="145.00" y1="238.19" x2="145.00" y2="316.70" stroke="#3f5d8a" stroke-width="1.25" />
<line x1="142.60" y1="238.19" x2="147.40" y2="238.19" stroke="#3f5d8a" stroke-width="1.25" />
<path d="M145.00 226.31L147.00 229.71L143.00 229.71Z" fill="#2b4774"/>
<path d="M145.00 241.89L147.00 245.29L143.00 245.29Z" fill="#2b4774"/>
<path d="M145.00 292.52L147.00 295.92L143.00 295.92Z" fill="#2b4774"/>
<path d="M145.00 302.15L147.00 305.56L143.00 305.56Z" fill="#2b4774"/>
<path d="M145.00 314.04L147.00 317.44L143.00 317.44Z" fill="#2b4774"/>
<line x1="140.00" y1="276.73" x2="150.00" y2="276.73" stroke="#111" stroke-width="1.8" />
<line x1="145.00" y1="316.70" x2="145.00" y2="319.70" stroke="#111" stroke-width="1.1" />
<text x="145.00" y="328.80" font-size="6.3" text-anchor="middle" font-weight="normal" fill="#4e5868" stroke="#4e5868" stroke-width="0.18" >2</text>
<line x1="161.80" y1="242.28" x2="161.80" y2="308.50" stroke="#c83a78" stroke-width="1.25" />
<line x1="159.40" y1="242.28" x2="164.20" y2="242.28" stroke="#c83a78" stroke-width="1.25" />
<line x1="159.40" y1="308.50" x2="164.20" y2="308.50" stroke="#c83a78" stroke-width="1.25" />
<path d="M159.00 240.04L161.00 243.44L157.00 243.44Z" fill="#cc1d6a"/>
<path d="M165.40 240.04L167.40 243.44L163.40 243.44Z" fill="#cc1d6a"/>
<path d="M161.80 275.91L163.80 279.31L159.80 279.31Z" fill="#cc1d6a"/>
<path d="M161.80 299.28L163.80 302.69L159.80 302.69Z" fill="#cc1d6a"/>
<path d="M161.80 312.61L163.80 316.01L159.80 316.01Z" fill="#cc1d6a"/>
<line x1="156.80" y1="276.11" x2="166.80" y2="276.11" stroke="#111" stroke-width="1.8" />
<line x1="161.80" y1="316.70" x2="161.80" y2="319.70" stroke="#111" stroke-width="1.1" />
<text x="161.80" y="328.80" font-size="6.3" text-anchor="middle" font-weight="normal" fill="#c04a64" stroke="#c04a64" stroke-width="0.18" >3</text>
<line x1="178.30" y1="249.46" x2="178.30" y2="311.99" stroke="#a8304f" stroke-width="1.25" />
<line x1="175.90" y1="249.46" x2="180.70" y2="249.46" stroke="#a8304f" stroke-width="1.25" />
<line x1="175.90" y1="311.99" x2="180.70" y2="311.99" stroke="#a8304f" stroke-width="1.25" />
<path d="M178.30 242.50L180.30 245.90L176.30 245.90Z" fill="#b0183f"/>
<path d="M178.30 287.39L180.30 290.80L176.30 290.80Z" fill="#b0183f"/>
<path d="M176.30 308.92L178.30 312.32L174.30 312.32Z" fill="#b0183f"/>
<path d="M181.30 308.51L183.30 311.91L179.30 311.91Z" fill="#b0183f"/>
<line x1="173.30" y1="281.24" x2="183.30" y2="281.24" stroke="#111" stroke-width="1.8" />
<line x1="178.30" y1="316.70" x2="178.30" y2="319.70" stroke="#111" stroke-width="1.1" />
<text x="178.30" y="328.80" font-size="6.3" text-anchor="middle" font-weight="normal" fill="#5a4452" stroke="#5a4452" stroke-width="0.18" >4</text>
<line x1="195.00" y1="256.23" x2="195.00" y2="292.71" stroke="#8cb07a" stroke-width="1.25" />
<line x1="192.60" y1="256.23" x2="197.40" y2="256.23" stroke="#8cb07a" stroke-width="1.25" />
<line x1="192.60" y1="292.71" x2="197.40" y2="292.71" stroke="#8cb07a" stroke-width="1.25" />
<path d="M193.00 255.15L194.68 257.25L193.00 259.35L191.32 257.25Z" fill="#6aa84f"/>
<path d="M197.30 255.15L198.98 257.25L197.30 259.35L195.62 257.25Z" fill="#6aa84f"/>
<path d="M195.00 257.20L196.68 259.30L195.00 261.40L193.32 259.30Z" fill="#6aa84f"/>
<path d="M195.00 260.07L196.68 262.17L195.00 264.27L193.32 262.17Z" fill="#6aa84f"/>
<path d="M192.00 274.42L193.68 276.52L192.00 278.62L190.32 276.52Z" fill="#6aa84f"/>
<path d="M198.00 274.42L199.68 276.52L198.00 278.62L196.32 276.52Z" fill="#6aa84f"/>
<path d="M198.00 280.57L199.68 282.67L198.00 284.77L196.32 282.67Z" fill="#6aa84f"/>
<path d="M192.80 297.17L194.48 299.27L192.80 301.38L191.12 299.27Z" fill="#6aa84f"/>
<path d="M198.00 295.12L199.68 297.22L198.00 299.32L196.32 297.22Z" fill="#6aa84f"/>
<line x1="190.00" y1="274.47" x2="200.00" y2="274.47" stroke="#111" stroke-width="1.8" />
<line x1="195.00" y1="316.70" x2="195.00" y2="319.70" stroke="#111" stroke-width="1.1" />
<text x="195.00" y="328.80" font-size="6.3" text-anchor="middle" font-weight="normal" fill="#a09aa0" stroke="#a09aa0" stroke-width="0.18" >1</text>
<line x1="211.70" y1="235.31" x2="211.70" y2="279.80" stroke="#3f5d8a" stroke-width="1.25" />
<line x1="209.30" y1="235.31" x2="214.10" y2="235.31" stroke="#3f5d8a" stroke-width="1.25" />
<line x1="209.30" y1="279.80" x2="214.10" y2="279.80" stroke="#3f5d8a" stroke-width="1.25" />
<path d="M211.70 227.27L213.38 229.37L211.70 231.47L210.02 229.37Z" fill="#2b4774"/>
<path d="M207.70 239.78L209.38 241.88L207.70 243.97L206.02 241.88Z" fill="#2b4774"/>
<path d="M215.20 236.70L216.88 238.80L215.20 240.90L213.52 238.80Z" fill="#2b4774"/>
<path d="M211.70 260.07L213.38 262.17L211.70 264.27L210.02 262.17Z" fill="#2b4774"/>
<path d="M208.70 278.11L210.38 280.21L208.70 282.31L207.02 280.21Z" fill="#2b4774"/>
<path d="M214.20 280.16L215.88 282.26L214.20 284.36L212.52 282.26Z" fill="#2b4774"/>
<path d="M211.70 282.21L213.38 284.31L211.70 286.41L210.02 284.31Z" fill="#2b4774"/>
<line x1="206.70" y1="257.87" x2="216.70" y2="257.87" stroke="#111" stroke-width="1.8" />
<line x1="211.70" y1="316.70" x2="211.70" y2="319.70" stroke="#111" stroke-width="1.1" />
<text x="211.70" y="328.80" font-size="6.3" text-anchor="middle" font-weight="normal" fill="#4e5868" stroke="#4e5868" stroke-width="0.18" >2</text>
<line x1="228.30" y1="240.03" x2="228.30" y2="285.54" stroke="#c83a78" stroke-width="1.25" />
<line x1="225.90" y1="240.03" x2="230.70" y2="240.03" stroke="#c83a78" stroke-width="1.25" />
<line x1="225.90" y1="285.54" x2="230.70" y2="285.54" stroke="#c83a78" stroke-width="1.25" />
<path d="M225.50 233.22L227.18 235.31L225.50 237.41L223.82 235.31Z" fill="#cc1d6a"/>
<path d="M231.50 237.93L233.18 240.03L231.50 242.13L229.82 240.03Z" fill="#cc1d6a"/>
<path d="M228.30 244.49L229.98 246.59L228.30 248.69L226.62 246.59Z" fill="#cc1d6a"/>
<path d="M228.30 255.15L229.98 257.25L228.30 259.35L226.62 257.25Z" fill="#cc1d6a"/>
<path d="M228.30 265.81L229.98 267.91L228.30 270.01L226.62 267.91Z" fill="#cc1d6a"/>
<path d="M228.30 278.52L229.98 280.62L228.30 282.72L226.62 280.62Z" fill="#cc1d6a"/>
<path d="M231.10 287.13L232.78 289.23L231.10 291.33L229.42 289.23Z" fill="#cc1d6a"/>
<path d="M225.50 291.43L227.18 293.53L225.50 295.63L223.82 293.53Z" fill="#cc1d6a"/>
<line x1="223.30" y1="263.40" x2="233.30" y2="263.40" stroke="#111" stroke-width="1.8" />
<line x1="228.30" y1="316.70" x2="228.30" y2="319.70" stroke="#111" stroke-width="1.1" />
<text x="228.30" y="328.80" font-size="6.3" text-anchor="middle" font-weight="normal" fill="#c04a64" stroke="#c04a64" stroke-width="0.18" >3</text>
<line x1="244.80" y1="253.35" x2="244.80" y2="295.79" stroke="#a8304f" stroke-width="1.25" />
<line x1="242.40" y1="253.35" x2="247.20" y2="253.35" stroke="#a8304f" stroke-width="1.25" />
<line x1="242.40" y1="295.79" x2="247.20" y2="295.79" stroke="#a8304f" stroke-width="1.25" />
<path d="M244.80 232.60L246.48 234.70L244.80 236.80L243.12 234.70Z" fill="#b0183f"/>
<path d="M244.80 254.13L246.48 256.23L244.80 258.33L243.12 256.23Z" fill="#b0183f"/>
<path d="M244.80 273.60L246.48 275.70L244.80 277.80L243.12 275.70Z" fill="#b0183f"/>
<path d="M248.20 275.65L249.88 277.75L248.20 279.85L246.52 277.75Z" fill="#b0183f"/>
<path d="M241.80 281.39L243.48 283.49L241.80 285.59L240.12 283.49Z" fill="#b0183f"/>
<path d="M241.80 288.36L243.48 290.46L241.80 292.56L240.12 290.46Z" fill="#b0183f"/>
<path d="M248.20 288.36L249.88 290.46L248.20 292.56L246.52 290.46Z" fill="#b0183f"/>
<path d="M244.80 293.69L246.48 295.79L244.80 297.89L243.12 295.79Z" fill="#b0183f"/>
<line x1="239.80" y1="274.88" x2="249.80" y2="274.88" stroke="#111" stroke-width="1.8" />
<line x1="244.80" y1="316.70" x2="244.80" y2="319.70" stroke="#111" stroke-width="1.1" />
<text x="244.80" y="328.80" font-size="6.3" text-anchor="middle" font-weight="normal" fill="#5a4452" stroke="#5a4452" stroke-width="0.18" >4</text>
<line x1="261.70" y1="280.62" x2="261.70" y2="316.70" stroke="#8cb07a" stroke-width="1.25" />
<line x1="259.30" y1="280.62" x2="264.10" y2="280.62" stroke="#8cb07a" stroke-width="1.25" />
<circle cx="261.70" cy="276.93" r="1.30" fill="#6aa84f"/>
<circle cx="261.70" cy="316.08" r="1.30" fill="#6aa84f"/>
<line x1="256.70" y1="303.17" x2="266.70" y2="303.17" stroke="#111" stroke-width="1.8" />
<line x1="261.70" y1="316.70" x2="261.70" y2="319.70" stroke="#111" stroke-width="1.1" />
<text x="261.70" y="328.80" font-size="6.3" text-anchor="middle" font-weight="normal" fill="#a09aa0" stroke="#a09aa0" stroke-width="0.18" >1</text>
<line x1="278.20" y1="261.76" x2="278.20" y2="316.70" stroke="#3f5d8a" stroke-width="1.25" />
<line x1="275.80" y1="261.76" x2="280.60" y2="261.76" stroke="#3f5d8a" stroke-width="1.25" />
<circle cx="278.20" cy="257.04" r="1.30" fill="#2b4774"/>
<circle cx="278.20" cy="315.68" r="1.30" fill="#2b4774"/>
<circle cx="281.20" cy="314.65" r="1.30" fill="#2b4774"/>
<line x1="273.20" y1="295.58" x2="283.20" y2="295.58" stroke="#111" stroke-width="1.8" />
<line x1="278.20" y1="316.70" x2="278.20" y2="319.70" stroke="#111" stroke-width="1.1" />
<text x="278.20" y="328.80" font-size="6.3" text-anchor="middle" font-weight="normal" fill="#4e5868" stroke="#4e5868" stroke-width="0.18" >2</text>
<line x1="294.90" y1="283.28" x2="294.90" y2="316.70" stroke="#c83a78" stroke-width="1.25" />
<line x1="292.50" y1="283.28" x2="297.30" y2="283.28" stroke="#c83a78" stroke-width="1.25" />
<circle cx="294.90" cy="280.62" r="1.30" fill="#cc1d6a"/>
<circle cx="291.90" cy="313.62" r="1.30" fill="#cc1d6a"/>
<circle cx="297.90" cy="311.57" r="1.30" fill="#cc1d6a"/>
<circle cx="294.90" cy="316.08" r="1.30" fill="#cc1d6a"/>
<line x1="289.90" y1="302.76" x2="299.90" y2="302.76" stroke="#111" stroke-width="1.8" />
<line x1="294.90" y1="316.70" x2="294.90" y2="319.70" stroke="#111" stroke-width="1.1" />
<text x="294.90" y="328.80" font-size="6.3" text-anchor="middle" font-weight="normal" fill="#c04a64" stroke="#c04a64" stroke-width="0.18" >3</text>
<line x1="311.40" y1="293.74" x2="311.40" y2="316.70" stroke="#a8304f" stroke-width="1.25" />
<line x1="309.00" y1="293.74" x2="313.80" y2="293.74" stroke="#a8304f" stroke-width="1.25" />
<circle cx="311.40" cy="292.31" r="1.30" fill="#b0183f"/>
<circle cx="308.40" cy="310.55" r="1.30" fill="#b0183f"/>
<circle cx="314.40" cy="309.52" r="1.30" fill="#b0183f"/>
<circle cx="311.40" cy="316.08" r="1.30" fill="#b0183f"/>
<line x1="306.40" y1="305.22" x2="316.40" y2="305.22" stroke="#111" stroke-width="1.8" />
<line x1="311.40" y1="316.70" x2="311.40" y2="319.70" stroke="#111" stroke-width="1.1" />
<text x="311.40" y="328.80" font-size="6.3" text-anchor="middle" font-weight="normal" fill="#5a4452" stroke="#5a4452" stroke-width="0.18" >4</text>
<line x1="374.80" y1="225.10" x2="374.80" y2="317.30" stroke="#111" stroke-width="1.7" />
<line x1="372.00" y1="316.70" x2="374.80" y2="316.70" stroke="#111" stroke-width="1.1" />
<text x="368.90" y="319.00" font-size="6.4" text-anchor="end" font-weight="normal" fill="#222" stroke="#222" stroke-width="0.18" >0</text>
<line x1="372.00" y1="296.30" x2="374.80" y2="296.30" stroke="#111" stroke-width="1.1" />
<text x="368.90" y="298.60" font-size="6.4" text-anchor="end" font-weight="normal" fill="#222" stroke="#222" stroke-width="0.18" >10</text>
<line x1="372.00" y1="275.90" x2="374.80" y2="275.90" stroke="#111" stroke-width="1.1" />
<text x="368.90" y="278.20" font-size="6.4" text-anchor="end" font-weight="normal" fill="#222" stroke="#222" stroke-width="0.18" >20</text>
<line x1="372.00" y1="255.50" x2="374.80" y2="255.50" stroke="#111" stroke-width="1.1" />
<text x="368.90" y="257.80" font-size="6.4" text-anchor="end" font-weight="normal" fill="#222" stroke="#222" stroke-width="0.18" >30</text>
<line x1="372.00" y1="235.10" x2="374.80" y2="235.10" stroke="#111" stroke-width="1.1" />
<text x="368.90" y="237.40" font-size="6.4" text-anchor="end" font-weight="normal" fill="#222" stroke="#222" stroke-width="0.18" >40</text>
<text x="353.80" y="271.00" font-size="8.4" text-anchor="middle" fill="#111" stroke="#111" stroke-width="0.25" transform="rotate(-90 353.80 271.00)" textLength="75" lengthAdjust="spacingAndGlyphs">% NKG2C positives cells</text>
<line x1="374.00" y1="316.70" x2="513.40" y2="316.70" stroke="#111" stroke-width="1.6" />
<text x="389.80" y="218.80" font-size="10.1" fill="#111">CD56<tspan font-size="6.8" dy="-3.2">neg</tspan><tspan dy="3.2">CD16</tspan><tspan font-size="6.8" dy="-3.2">pos</tspan><tspan dy="3.2"> subset</tspan></text>
<line x1="396.00" y1="255.50" x2="396.00" y2="305.48" stroke="#262626" stroke-width="1.25" />
<line x1="390.50" y1="255.50" x2="401.50" y2="255.50" stroke="#262626" stroke-width="1.25" />
<line x1="390.50" y1="305.48" x2="401.50" y2="305.48" stroke="#262626" stroke-width="1.25" />
<circle cx="393.40" cy="247.34" r="1.90" fill="#4a4a4a"/>
<circle cx="398.60" cy="252.44" r="1.90" fill="#4a4a4a"/>
<circle cx="390.40" cy="278.14" r="1.90" fill="#4a4a4a"/>
<circle cx="401.70" cy="279.16" r="1.90" fill="#4a4a4a"/>
<path d="M396.00 286.41L398.30 282.50L393.70 282.50Z" fill="#4a4a4a"/>
<circle cx="396.00" cy="307.72" r="1.90" fill="#4a4a4a"/>
<circle cx="396.00" cy="312.82" r="1.90" fill="#4a4a4a"/>
<line x1="385.70" y1="280.39" x2="406.30" y2="280.39" stroke="#111" stroke-width="1.6" />
<line x1="396.00" y1="316.70" x2="396.00" y2="319.70" stroke="#111" stroke-width="1.1" />
<line x1="427.70" y1="249.38" x2="427.70" y2="312.62" stroke="#262626" stroke-width="1.25" />
<line x1="422.20" y1="249.38" x2="433.20" y2="249.38" stroke="#262626" stroke-width="1.25" />
<line x1="422.20" y1="312.62" x2="433.20" y2="312.62" stroke="#262626" stroke-width="1.25" />
<path d="M427.70 241.93L430.00 245.84L425.40 245.84Z" fill="#4a4a4a"/>
<path d="M427.70 250.09L430.00 254.00L425.40 254.00Z" fill="#4a4a4a"/>
<path d="M427.70 289.06L430.00 292.97L425.40 292.97Z" fill="#4a4a4a"/>
<path d="M424.70 308.23L427.00 312.14L422.40 312.14Z" fill="#4a4a4a"/>
<path d="M430.70 307.83L433.00 311.74L428.40 311.74Z" fill="#4a4a4a"/>
<line x1="417.40" y1="281.20" x2="438.00" y2="281.20" stroke="#111" stroke-width="1.6" />
<line x1="427.70" y1="316.70" x2="427.70" y2="319.70" stroke="#111" stroke-width="1.1" />
<line x1="460.00" y1="252.64" x2="460.00" y2="295.08" stroke="#262626" stroke-width="1.25" />
<line x1="454.50" y1="252.64" x2="465.50" y2="252.64" stroke="#262626" stroke-width="1.25" />
<line x1="454.50" y1="295.08" x2="465.50" y2="295.08" stroke="#262626" stroke-width="1.25" />
<path d="M460.00 232.69L461.93 235.10L460.00 237.51L458.07 235.10Z" fill="#4a4a4a"/>
<path d="M460.00 253.29L461.93 255.70L460.00 258.12L458.07 255.70Z" fill="#4a4a4a"/>
<path d="M460.00 260.02L461.93 262.44L460.00 264.85L458.07 262.44Z" fill="#4a4a4a"/>
<path d="M460.00 267.77L461.93 270.19L460.00 272.60L458.07 270.19Z" fill="#4a4a4a"/>
<path d="M462.90 275.73L464.83 278.14L462.90 280.56L460.97 278.14Z" fill="#4a4a4a"/>
<path d="M456.00 281.64L457.93 284.06L456.00 286.48L454.07 284.06Z" fill="#4a4a4a"/>
<path d="M456.00 288.58L457.93 291.00L456.00 293.41L454.07 291.00Z" fill="#4a4a4a"/>
<path d="M462.90 288.58L464.83 291.00L462.90 293.41L460.97 291.00Z" fill="#4a4a4a"/>
<path d="M460.00 293.48L461.93 295.89L460.00 298.31L458.07 295.89Z" fill="#4a4a4a"/>
<line x1="449.70" y1="274.06" x2="470.30" y2="274.06" stroke="#111" stroke-width="1.6" />
<line x1="460.00" y1="316.70" x2="460.00" y2="319.70" stroke="#111" stroke-width="1.1" />
<line x1="491.10" y1="294.06" x2="491.10" y2="315.48" stroke="#262626" stroke-width="1.25" />
<line x1="485.60" y1="294.06" x2="496.60" y2="294.06" stroke="#262626" stroke-width="1.25" />
<line x1="485.60" y1="315.48" x2="496.60" y2="315.48" stroke="#262626" stroke-width="1.25" />
<path d="M491.10 295.38L493.40 291.47L488.80 291.47Z" fill="#4a4a4a"/>
<path d="M488.10 312.93L490.40 309.02L485.80 309.02Z" fill="#4a4a4a"/>
<path d="M494.10 312.31L496.40 308.40L491.80 308.40Z" fill="#4a4a4a"/>
<line x1="480.80" y1="304.87" x2="501.40" y2="304.87" stroke="#111" stroke-width="1.6" />
<line x1="491.10" y1="316.70" x2="491.10" y2="319.70" stroke="#111" stroke-width="1.1" />
<line x1="466.00" y1="240.40" x2="491.70" y2="240.40" stroke="#2a2a2a" stroke-width="1.5" />
<text x="478.85" y="240.30" font-size="6.3" text-anchor="middle" font-weight="normal" fill="#1a1a1a"  stroke="#1a1a1a" stroke-width="0.3">*</text>
<text x="396.00" y="328.50" font-size="6.4" text-anchor="middle" font-weight="normal" fill="#222" stroke="#222" stroke-width="0.18" >Nandi</text>
<text x="427.70" y="328.50" font-size="6.4" text-anchor="middle" font-weight="normal" fill="#222" stroke="#222" stroke-width="0.18" >Kisumu</text>
<text x="460.00" y="328.50" font-size="6.4" text-anchor="middle" font-weight="normal" fill="#222" stroke="#222" stroke-width="0.18" >BL</text>
<text x="460.00" y="336.10" font-size="6.4" text-anchor="middle" font-weight="normal" fill="#222" stroke="#222" stroke-width="0.18" >Low EBV</text>
<text x="491.10" y="328.50" font-size="6.4" text-anchor="middle" font-weight="normal" fill="#222" stroke="#222" stroke-width="0.18" >BL</text>
<text x="491.10" y="336.10" font-size="6.4" text-anchor="middle" font-weight="normal" fill="#222" stroke="#222" stroke-width="0.18" >High EBV</text>
<line x1="75.20" y1="374.50" x2="75.20" y2="469.00" stroke="#111" stroke-width="1.7" />
<line x1="72.40" y1="468.40" x2="75.20" y2="468.40" stroke="#111" stroke-width="1.1" />
<text x="69.30" y="470.74" font-size="6.5" text-anchor="end" font-weight="normal" fill="#222" stroke="#222" stroke-width="0.18" >0</text>
<line x1="72.40" y1="437.85" x2="75.20" y2="437.85" stroke="#111" stroke-width="1.1" />
<text x="69.30" y="440.19" font-size="6.5" text-anchor="end" font-weight="normal" fill="#222" stroke="#222" stroke-width="0.18" >5000</text>
<line x1="72.40" y1="407.30" x2="75.20" y2="407.30" stroke="#111" stroke-width="1.1" />
<text x="69.30" y="409.64" font-size="6.5" text-anchor="end" font-weight="normal" fill="#222" stroke="#222" stroke-width="0.18" >10000</text>
<line x1="72.40" y1="376.75" x2="75.20" y2="376.75" stroke="#111" stroke-width="1.1" />
<text x="69.30" y="379.09" font-size="6.5" text-anchor="end" font-weight="normal" fill="#222" stroke="#222" stroke-width="0.18" >15000</text>
<text x="44.40" y="420.60" font-size="8.4" text-anchor="middle" fill="#111" stroke="#111" stroke-width="0.25" transform="rotate(-90 44.40 420.60)" textLength="88.5" lengthAdjust="spacingAndGlyphs">MFI IgG against pp-65 hCMV</text>
<line x1="74.50" y1="468.40" x2="212.30" y2="468.40" stroke="#111" stroke-width="1.6" />
<line x1="97.00" y1="416.46" x2="97.00" y2="463.21" stroke="#262626" stroke-width="1.25" />
<line x1="91.50" y1="416.46" x2="102.50" y2="416.46" stroke="#262626" stroke-width="1.25" />
<line x1="91.50" y1="463.21" x2="102.50" y2="463.21" stroke="#262626" stroke-width="1.25" />
<circle cx="97.00" cy="390.80" r="1.90" fill="#4a4a4a"/>
<circle cx="93.60" cy="441.09" r="1.90" fill="#4a4a4a"/>
<circle cx="99.70" cy="439.01" r="1.90" fill="#4a4a4a"/>
<circle cx="91.00" cy="447.20" r="1.90" fill="#4a4a4a"/>
<circle cx="97.00" cy="448.42" r="1.90" fill="#4a4a4a"/>
<circle cx="102.40" cy="445.79" r="1.90" fill="#4a4a4a"/>
<circle cx="97.00" cy="465.65" r="1.90" fill="#4a4a4a"/>
<line x1="86.70" y1="439.68" x2="107.30" y2="439.68" stroke="#111" stroke-width="1.6" />
<line x1="97.00" y1="468.40" x2="97.00" y2="471.40" stroke="#111" stroke-width="1.1" />
<line x1="128.50" y1="440.60" x2="128.50" y2="462.90" stroke="#262626" stroke-width="1.25" />
<line x1="123.00" y1="440.60" x2="134.00" y2="440.60" stroke="#262626" stroke-width="1.25" />
<line x1="123.00" y1="462.90" x2="134.00" y2="462.90" stroke="#262626" stroke-width="1.25" />
<rect x="123.26" y="436.01" width="3.68" height="3.68" fill="#4a4a4a"/>
<rect x="130.06" y="436.01" width="3.68" height="3.68" fill="#4a4a4a"/>
<rect x="126.66" y="442.73" width="3.68" height="3.68" fill="#4a4a4a"/>
<rect x="126.66" y="453.73" width="3.68" height="3.68" fill="#4a4a4a"/>
<rect x="122.16" y="460.45" width="3.68" height="3.68" fill="#4a4a4a"/>
<rect x="126.66" y="460.45" width="3.68" height="3.68" fill="#4a4a4a"/>
<rect x="131.16" y="460.45" width="3.68" height="3.68" fill="#4a4a4a"/>
<line x1="118.20" y1="451.90" x2="138.80" y2="451.90" stroke="#111" stroke-width="1.6" />
<line x1="128.50" y1="468.40" x2="128.50" y2="471.40" stroke="#111" stroke-width="1.1" />
<line x1="160.40" y1="434.18" x2="160.40" y2="466.57" stroke="#262626" stroke-width="1.25" />
<line x1="154.90" y1="434.18" x2="165.90" y2="434.18" stroke="#262626" stroke-width="1.25" />
<line x1="154.90" y1="466.57" x2="165.90" y2="466.57" stroke="#262626" stroke-width="1.25" />
<path d="M160.40 419.62L162.70 423.53L158.10 423.53Z" fill="#4a4a4a"/>
<path d="M160.40 428.17L162.70 432.08L158.10 432.08Z" fill="#4a4a4a"/>
<path d="M160.40 440.39L162.70 444.30L158.10 444.30Z" fill="#4a4a4a"/>
<path d="M155.40 451.39L157.70 455.30L153.10 455.30Z" fill="#4a4a4a"/>
<path d="M160.40 455.06L162.70 458.97L158.10 458.97Z" fill="#4a4a4a"/>
<path d="M163.90 459.94L166.20 463.85L161.60 463.85Z" fill="#4a4a4a"/>
<path d="M155.40 463.00L157.70 466.91L153.10 466.91Z" fill="#4a4a4a"/>
<path d="M165.40 463.61L167.70 467.52L163.10 467.52Z" fill="#4a4a4a"/>
<line x1="150.10" y1="450.99" x2="170.70" y2="450.99" stroke="#111" stroke-width="1.6" />
<line x1="160.40" y1="468.40" x2="160.40" y2="471.40" stroke="#111" stroke-width="1.1" />
<line x1="192.20" y1="443.96" x2="192.20" y2="468.40" stroke="#262626" stroke-width="1.25" />
<line x1="186.70" y1="443.96" x2="197.70" y2="443.96" stroke="#262626" stroke-width="1.25" />
<path d="M192.20 435.31L194.50 431.40L189.90 431.40Z" fill="#4a4a4a"/>
<path d="M186.20 466.47L188.50 462.56L183.90 462.56Z" fill="#4a4a4a"/>
<path d="M194.20 468.00L196.50 464.09L191.90 464.09Z" fill="#4a4a4a"/>
<line x1="181.90" y1="457.71" x2="202.50" y2="457.71" stroke="#111" stroke-width="1.6" />
<line x1="192.20" y1="468.40" x2="192.20" y2="471.40" stroke="#111" stroke-width="1.1" />
<text x="97.00" y="480.50" font-size="6.4" text-anchor="middle" font-weight="normal" fill="#222" stroke="#222" stroke-width="0.18" >Nandi</text>
<text x="128.50" y="480.50" font-size="6.4" text-anchor="middle" font-weight="normal" fill="#222" stroke="#222" stroke-width="0.18" >Kisumu</text>
<text x="160.40" y="480.50" font-size="6.4" text-anchor="middle" font-weight="normal" fill="#222" stroke="#222" stroke-width="0.18" >BL</text>
<text x="160.40" y="488.10" font-size="6.4" text-anchor="middle" font-weight="normal" fill="#222" stroke="#222" stroke-width="0.18" >Low EBV</text>
<text x="192.20" y="480.50" font-size="6.4" text-anchor="middle" font-weight="normal" fill="#222" stroke="#222" stroke-width="0.18" >BL</text>
<text x="192.20" y="488.10" font-size="6.4" text-anchor="middle" font-weight="normal" fill="#222" stroke="#222" stroke-width="0.18" >High EBV</text>
<text x="292.00" y="372.30" font-size="10.7" fill="#111">CD56<tspan font-size="7" dy="-3.4">dim</tspan><tspan dy="3.4">CD16</tspan><tspan font-size="7" dy="-3.4">pos</tspan></text>
<text x="412.40" y="372.30" font-size="10.7" fill="#111">CD56<tspan font-size="7" dy="-3.4">neg</tspan><tspan dy="3.4">CD16</tspan><tspan font-size="7" dy="-3.4">pos</tspan></text>
<clipPath id="cp1"><rect x="285.6" y="378.8" width="93.39999999999998" height="93.09999999999997"/></clipPath>
<path clip-path="url(#cp1)" fill="#000" fill-opacity="0.85" d="M308.0 450.8h1.0v1.0h-1.0zM308.9 452.4h1.0v1.0h-1.0zM307.2 451.0h1.0v1.0h-1.0zM305.4 448.7h1.0v1.0h-1.0zM306.7 450.9h1.0v1.0h-1.0zM305.1 451.2h1.0v1.0h-1.0zM308.2 453.2h1.0v1.0h-1.0zM311.9 449.1h1.0v1.0h-1.0zM306.6 451.0h1.0v1.0h-1.0zM306.2 447.3h1.0v1.0h-1.0zM309.4 452.5h1.0v1.0h-1.0zM309.0 448.7h1.0v1.0h-1.0zM308.3 447.1h1.0v1.0h-1.0zM305.3 451.0h1.0v1.0h-1.0zM307.9 453.5h1.0v1.0h-1.0zM310.0 447.7h1.0v1.0h-1.0zM304.1 448.7h1.0v1.0h-1.0zM306.7 449.5h1.0v1.0h-1.0zM302.5 448.6h1.0v1.0h-1.0zM304.3 451.9h1.0v1.0h-1.0zM302.7 449.3h1.0v1.0h-1.0zM307.3 449.5h1.0v1.0h-1.0zM304.3 452.4h1.0v1.0h-1.0zM308.8 449.4h1.0v1.0h-1.0zM308.5 452.1h1.0v1.0h-1.0zM307.5 449.0h1.0v1.0h-1.0zM300.7 448.4h1.0v1.0h-1.0zM306.4 447.1h1.0v1.0h-1.0zM307.9 455.2h1.0v1.0h-1.0zM308.3 450.4h1.0v1.0h-1.0zM303.6 451.6h1.0v1.0h-1.0zM306.6 451.0h1.0v1.0h-1.0zM305.2 451.5h1.0v1.0h-1.0zM305.7 451.2h1.0v1.0h-1.0zM311.1 455.3h1.0v1.0h-1.0zM305.7 448.8h1.0v1.0h-1.0zM307.9 447.7h1.0v1.0h-1.0zM310.6 448.9h1.0v1.0h-1.0zM306.3 448.2h1.0v1.0h-1.0zM307.7 452.7h1.0v1.0h-1.0zM308.3 452.9h1.0v1.0h-1.0zM308.2 449.0h1.0v1.0h-1.0zM304.4 448.0h1.0v1.0h-1.0zM308.2 450.3h1.0v1.0h-1.0zM311.9 454.2h1.0v1.0h-1.0zM303.5 444.9h1.0v1.0h-1.0zM310.5 452.3h1.0v1.0h-1.0zM308.3 448.7h1.0v1.0h-1.0zM306.1 453.4h1.0v1.0h-1.0zM313.8 448.7h1.0v1.0h-1.0zM310.2 450.5h1.0v1.0h-1.0zM304.5 447.8h1.0v1.0h-1.0zM308.2 449.0h1.0v1.0h-1.0zM309.7 454.1h1.0v1.0h-1.0zM307.5 452.9h1.0v1.0h-1.0zM310.0 450.2h1.0v1.0h-1.0zM307.8 449.2h1.0v1.0h-1.0zM309.9 446.9h1.0v1.0h-1.0zM312.2 450.2h1.0v1.0h-1.0zM306.0 451.0h1.0v1.0h-1.0zM308.6 450.9h1.0v1.0h-1.0zM306.7 450.9h1.0v1.0h-1.0zM308.4 448.6h1.0v1.0h-1.0zM304.6 451.0h1.0v1.0h-1.0zM306.3 451.0h1.0v1.0h-1.0zM307.4 453.9h1.0v1.0h-1.0zM310.6 455.2h1.0v1.0h-1.0zM311.3 450.8h1.0v1.0h-1.0zM304.2 449.4h1.0v1.0h-1.0zM305.7 451.0h1.0v1.0h-1.0zM309.9 449.8h1.0v1.0h-1.0zM302.2 449.5h1.0v1.0h-1.0zM306.7 451.0h1.0v1.0h-1.0zM307.7 448.8h1.0v1.0h-1.0zM311.6 452.4h1.0v1.0h-1.0zM310.0 450.9h1.0v1.0h-1.0zM307.1 451.7h1.0v1.0h-1.0zM306.9 450.7h1.0v1.0h-1.0zM307.3 449.5h1.0v1.0h-1.0zM312.4 449.0h1.0v1.0h-1.0zM306.8 450.6h1.0v1.0h-1.0zM307.1 449.9h1.0v1.0h-1.0zM309.0 451.6h1.0v1.0h-1.0zM307.6 451.1h1.0v1.0h-1.0zM307.4 448.1h1.0v1.0h-1.0zM304.8 451.2h1.0v1.0h-1.0zM308.0 448.1h1.0v1.0h-1.0zM306.7 449.7h1.0v1.0h-1.0zM311.4 450.5h1.0v1.0h-1.0zM309.9 446.5h1.0v1.0h-1.0zM307.9 451.3h1.0v1.0h-1.0zM309.9 451.4h1.0v1.0h-1.0zM307.0 450.8h1.0v1.0h-1.0zM311.1 450.2h1.0v1.0h-1.0zM308.0 450.3h1.0v1.0h-1.0zM309.7 449.0h1.0v1.0h-1.0zM304.3 450.5h1.0v1.0h-1.0zM309.0 449.9h1.0v1.0h-1.0zM303.1 451.3h1.0v1.0h-1.0zM302.1 448.5h1.0v1.0h-1.0zM307.1 451.6h1.0v1.0h-1.0zM305.4 451.4h1.0v1.0h-1.0zM308.5 450.8h1.0v1.0h-1.0zM314.5 450.1h1.0v1.0h-1.0zM305.6 452.3h1.0v1.0h-1.0zM306.2 447.4h1.0v1.0h-1.0zM308.6 452.1h1.0v1.0h-1.0zM309.4 451.6h1.0v1.0h-1.0zM307.5 451.7h1.0v1.0h-1.0zM307.4 451.9h1.0v1.0h-1.0zM310.0 449.7h1.0v1.0h-1.0zM309.5 450.5h1.0v1.0h-1.0zM305.0 452.5h1.0v1.0h-1.0zM307.8 452.0h1.0v1.0h-1.0zM308.1 451.6h1.0v1.0h-1.0zM304.9 447.8h1.0v1.0h-1.0zM308.8 452.3h1.0v1.0h-1.0zM305.5 453.7h1.0v1.0h-1.0zM310.8 453.3h1.0v1.0h-1.0zM308.6 451.6h1.0v1.0h-1.0zM308.3 447.7h1.0v1.0h-1.0zM306.3 453.2h1.0v1.0h-1.0zM307.7 450.8h1.0v1.0h-1.0zM302.2 445.5h1.0v1.0h-1.0zM304.7 451.9h1.0v1.0h-1.0zM309.1 447.8h1.0v1.0h-1.0zM301.8 448.2h1.0v1.0h-1.0zM310.5 449.7h1.0v1.0h-1.0zM302.9 453.9h1.0v1.0h-1.0zM310.2 450.3h1.0v1.0h-1.0zM305.5 451.7h1.0v1.0h-1.0zM310.3 454.9h1.0v1.0h-1.0zM308.4 454.6h1.0v1.0h-1.0zM303.5 450.9h1.0v1.0h-1.0zM311.6 450.6h1.0v1.0h-1.0zM312.2 448.3h1.0v1.0h-1.0zM307.8 449.6h1.0v1.0h-1.0zM307.2 452.0h1.0v1.0h-1.0zM307.5 452.0h1.0v1.0h-1.0zM305.2 451.3h1.0v1.0h-1.0zM311.2 453.3h1.0v1.0h-1.0zM306.4 449.4h1.0v1.0h-1.0zM307.9 451.0h1.0v1.0h-1.0zM305.7 452.7h1.0v1.0h-1.0zM306.2 452.4h1.0v1.0h-1.0zM304.3 453.5h1.0v1.0h-1.0zM311.6 452.0h1.0v1.0h-1.0zM307.6 450.4h1.0v1.0h-1.0zM310.8 451.9h1.0v1.0h-1.0zM308.0 448.9h1.0v1.0h-1.0zM306.0 447.5h1.0v1.0h-1.0zM307.1 452.4h1.0v1.0h-1.0zM306.4 451.0h1.0v1.0h-1.0zM308.0 451.8h1.0v1.0h-1.0zM306.9 447.4h1.0v1.0h-1.0zM307.1 450.3h1.0v1.0h-1.0zM304.0 449.8h1.0v1.0h-1.0zM305.7 449.2h1.0v1.0h-1.0zM312.8 446.1h1.0v1.0h-1.0zM306.1 450.4h1.0v1.0h-1.0zM304.9 453.1h1.0v1.0h-1.0zM309.0 451.9h1.0v1.0h-1.0zM312.1 449.8h1.0v1.0h-1.0zM303.8 451.1h1.0v1.0h-1.0zM307.4 452.8h1.0v1.0h-1.0zM306.2 445.0h1.0v1.0h-1.0zM302.9 450.8h1.0v1.0h-1.0zM310.1 452.3h1.0v1.0h-1.0zM307.9 452.6h1.0v1.0h-1.0zM308.2 454.8h1.0v1.0h-1.0zM305.8 453.6h1.0v1.0h-1.0zM309.3 451.8h1.0v1.0h-1.0zM306.4 451.8h1.0v1.0h-1.0zM307.6 452.8h1.0v1.0h-1.0zM304.8 449.9h1.0v1.0h-1.0zM304.5 451.0h1.0v1.0h-1.0zM311.9 453.1h1.0v1.0h-1.0zM306.5 455.4h1.0v1.0h-1.0zM308.8 450.7h1.0v1.0h-1.0zM307.9 451.0h1.0v1.0h-1.0zM306.7 451.5h1.0v1.0h-1.0zM306.5 454.1h1.0v1.0h-1.0zM309.8 451.0h1.0v1.0h-1.0zM307.1 454.3h1.0v1.0h-1.0zM307.6 449.0h1.0v1.0h-1.0zM308.1 450.7h1.0v1.0h-1.0zM311.4 450.7h1.0v1.0h-1.0zM310.0 452.8h1.0v1.0h-1.0zM309.1 453.4h1.0v1.0h-1.0zM306.4 447.8h1.0v1.0h-1.0zM304.0 449.1h1.0v1.0h-1.0zM310.8 451.8h1.0v1.0h-1.0zM310.8 449.7h1.0v1.0h-1.0zM307.6 447.8h1.0v1.0h-1.0zM309.6 453.4h1.0v1.0h-1.0zM310.3 452.2h1.0v1.0h-1.0zM310.4 452.2h1.0v1.0h-1.0zM310.7 450.1h1.0v1.0h-1.0zM306.7 453.4h1.0v1.0h-1.0zM312.4 450.6h1.0v1.0h-1.0zM304.4 453.5h1.0v1.0h-1.0zM310.5 449.1h1.0v1.0h-1.0zM309.4 449.2h1.0v1.0h-1.0zM310.5 451.6h1.0v1.0h-1.0zM313.4 449.6h1.0v1.0h-1.0zM312.3 452.6h1.0v1.0h-1.0zM304.7 451.7h1.0v1.0h-1.0zM303.1 449.1h1.0v1.0h-1.0zM310.4 451.3h1.0v1.0h-1.0zM305.1 450.3h1.0v1.0h-1.0zM308.0 453.1h1.0v1.0h-1.0zM310.4 449.7h1.0v1.0h-1.0zM303.2 450.1h1.0v1.0h-1.0zM301.9 453.8h1.0v1.0h-1.0zM308.8 456.0h1.0v1.0h-1.0zM308.1 455.5h1.0v1.0h-1.0zM307.3 451.2h1.0v1.0h-1.0zM308.1 451.6h1.0v1.0h-1.0zM305.5 454.5h1.0v1.0h-1.0zM303.6 450.8h1.0v1.0h-1.0zM307.5 449.0h1.0v1.0h-1.0zM305.2 451.4h1.0v1.0h-1.0zM303.2 452.1h1.0v1.0h-1.0zM309.5 449.3h1.0v1.0h-1.0zM307.8 447.5h1.0v1.0h-1.0zM309.2 447.9h1.0v1.0h-1.0zM305.1 452.6h1.0v1.0h-1.0zM306.1 449.4h1.0v1.0h-1.0zM305.1 450.8h1.0v1.0h-1.0zM305.4 451.6h1.0v1.0h-1.0zM308.6 452.5h1.0v1.0h-1.0zM305.7 450.4h1.0v1.0h-1.0zM309.0 452.2h1.0v1.0h-1.0zM309.0 449.1h1.0v1.0h-1.0zM313.9 450.3h1.0v1.0h-1.0zM304.0 448.8h1.0v1.0h-1.0zM310.6 453.6h1.0v1.0h-1.0zM307.7 451.0h1.0v1.0h-1.0zM308.0 449.5h1.0v1.0h-1.0zM303.8 450.3h1.0v1.0h-1.0zM306.7 450.6h1.0v1.0h-1.0zM310.2 452.6h1.0v1.0h-1.0zM307.8 447.6h1.0v1.0h-1.0zM308.2 448.8h1.0v1.0h-1.0zM307.2 450.3h1.0v1.0h-1.0zM311.3 456.7h1.0v1.0h-1.0zM307.9 453.2h1.0v1.0h-1.0zM301.6 450.9h1.0v1.0h-1.0zM306.0 452.7h1.0v1.0h-1.0zM302.3 455.6h1.0v1.0h-1.0zM298.6 450.6h1.0v1.0h-1.0zM306.5 450.3h1.0v1.0h-1.0zM311.9 453.8h1.0v1.0h-1.0zM308.1 452.2h1.0v1.0h-1.0zM304.6 452.6h1.0v1.0h-1.0zM305.3 450.0h1.0v1.0h-1.0zM311.3 455.3h1.0v1.0h-1.0zM308.5 454.9h1.0v1.0h-1.0zM308.1 452.3h1.0v1.0h-1.0zM307.8 452.6h1.0v1.0h-1.0zM308.1 446.6h1.0v1.0h-1.0zM310.3 452.5h1.0v1.0h-1.0zM309.6 450.7h1.0v1.0h-1.0zM308.6 452.1h1.0v1.0h-1.0zM305.0 452.6h1.0v1.0h-1.0zM309.5 450.3h1.0v1.0h-1.0zM306.0 447.4h1.0v1.0h-1.0zM311.2 451.9h1.0v1.0h-1.0zM304.3 449.5h1.0v1.0h-1.0zM307.6 450.4h1.0v1.0h-1.0zM308.0 449.8h1.0v1.0h-1.0zM304.2 450.3h1.0v1.0h-1.0zM313.0 446.0h1.0v1.0h-1.0zM312.2 453.8h1.0v1.0h-1.0zM306.7 451.7h1.0v1.0h-1.0zM310.2 453.5h1.0v1.0h-1.0zM309.1 455.5h1.0v1.0h-1.0zM300.4 451.1h1.0v1.0h-1.0zM308.7 447.1h1.0v1.0h-1.0zM307.8 449.1h1.0v1.0h-1.0zM308.2 448.4h1.0v1.0h-1.0zM304.9 450.0h1.0v1.0h-1.0zM307.2 451.3h1.0v1.0h-1.0zM307.5 446.7h1.0v1.0h-1.0zM311.4 451.9h1.0v1.0h-1.0zM309.0 447.8h1.0v1.0h-1.0zM308.0 451.8h1.0v1.0h-1.0zM312.4 450.9h1.0v1.0h-1.0zM306.4 450.4h1.0v1.0h-1.0zM306.9 450.9h1.0v1.0h-1.0zM302.7 449.9h1.0v1.0h-1.0zM312.6 449.8h1.0v1.0h-1.0zM310.8 447.4h1.0v1.0h-1.0zM310.7 451.0h1.0v1.0h-1.0zM309.9 455.2h1.0v1.0h-1.0zM308.3 455.5h1.0v1.0h-1.0zM308.6 454.0h1.0v1.0h-1.0zM307.3 452.7h1.0v1.0h-1.0zM307.4 449.6h1.0v1.0h-1.0zM308.2 454.3h1.0v1.0h-1.0zM312.4 451.0h1.0v1.0h-1.0zM309.6 450.9h1.0v1.0h-1.0zM307.8 450.5h1.0v1.0h-1.0zM306.3 451.3h1.0v1.0h-1.0zM306.2 450.1h1.0v1.0h-1.0zM312.6 450.9h1.0v1.0h-1.0zM309.5 448.7h1.0v1.0h-1.0zM308.2 450.3h1.0v1.0h-1.0zM307.0 456.1h1.0v1.0h-1.0zM304.8 450.9h1.0v1.0h-1.0zM307.8 450.6h1.0v1.0h-1.0zM310.5 452.3h1.0v1.0h-1.0zM306.9 452.7h1.0v1.0h-1.0zM307.3 448.6h1.0v1.0h-1.0zM307.4 450.6h1.0v1.0h-1.0zM308.3 453.1h1.0v1.0h-1.0zM303.4 451.7h1.0v1.0h-1.0zM307.3 451.4h1.0v1.0h-1.0zM305.5 454.5h1.0v1.0h-1.0zM310.6 449.6h1.0v1.0h-1.0zM305.8 451.3h1.0v1.0h-1.0zM309.7 450.0h1.0v1.0h-1.0zM312.4 454.4h1.0v1.0h-1.0zM307.1 446.8h1.0v1.0h-1.0zM306.3 449.6h1.0v1.0h-1.0zM308.6 449.9h1.0v1.0h-1.0zM308.0 452.6h1.0v1.0h-1.0zM305.1 452.4h1.0v1.0h-1.0zM309.3 454.2h1.0v1.0h-1.0zM313.8 447.6h1.0v1.0h-1.0zM307.3 452.8h1.0v1.0h-1.0zM307.4 450.5h1.0v1.0h-1.0zM305.0 449.6h1.0v1.0h-1.0zM308.9 452.3h1.0v1.0h-1.0zM304.4 449.1h1.0v1.0h-1.0zM304.8 446.5h1.0v1.0h-1.0zM311.7 450.3h1.0v1.0h-1.0zM305.4 447.8h1.0v1.0h-1.0zM311.1 449.7h1.0v1.0h-1.0zM312.4 451.9h1.0v1.0h-1.0zM308.8 451.8h1.0v1.0h-1.0zM309.6 454.6h1.0v1.0h-1.0zM313.7 450.7h1.0v1.0h-1.0zM307.4 447.7h1.0v1.0h-1.0zM306.3 449.4h1.0v1.0h-1.0zM304.1 449.1h1.0v1.0h-1.0zM308.1 448.4h1.0v1.0h-1.0zM312.3 452.1h1.0v1.0h-1.0zM310.8 449.7h1.0v1.0h-1.0zM305.3 446.7h1.0v1.0h-1.0zM305.5 452.6h1.0v1.0h-1.0zM306.5 450.9h1.0v1.0h-1.0zM308.8 451.9h1.0v1.0h-1.0zM307.4 451.3h1.0v1.0h-1.0zM308.6 452.5h1.0v1.0h-1.0zM308.9 451.2h1.0v1.0h-1.0zM307.1 453.8h1.0v1.0h-1.0zM307.9 452.0h1.0v1.0h-1.0zM308.6 452.0h1.0v1.0h-1.0zM307.8 452.0h1.0v1.0h-1.0zM309.5 447.9h1.0v1.0h-1.0zM313.4 450.7h1.0v1.0h-1.0zM309.7 450.5h1.0v1.0h-1.0zM308.2 451.6h1.0v1.0h-1.0zM303.1 448.1h1.0v1.0h-1.0zM309.1 454.7h1.0v1.0h-1.0zM302.4 451.3h1.0v1.0h-1.0zM303.9 448.4h1.0v1.0h-1.0zM310.5 447.3h1.0v1.0h-1.0zM310.0 450.5h1.0v1.0h-1.0zM307.6 450.9h1.0v1.0h-1.0zM303.0 449.5h1.0v1.0h-1.0zM306.9 451.3h1.0v1.0h-1.0zM306.0 449.7h1.0v1.0h-1.0zM309.8 452.3h1.0v1.0h-1.0zM314.5 449.5h1.0v1.0h-1.0zM308.6 451.0h1.0v1.0h-1.0zM305.7 453.3h1.0v1.0h-1.0zM304.6 456.8h1.0v1.0h-1.0zM307.8 448.9h1.0v1.0h-1.0zM307.5 450.1h1.0v1.0h-1.0zM304.7 449.3h1.0v1.0h-1.0zM308.3 452.8h1.0v1.0h-1.0zM304.7 448.6h1.0v1.0h-1.0zM311.2 450.0h1.0v1.0h-1.0zM311.1 451.0h1.0v1.0h-1.0zM311.1 448.9h1.0v1.0h-1.0zM306.6 449.0h1.0v1.0h-1.0zM309.5 450.1h1.0v1.0h-1.0zM307.6 446.5h1.0v1.0h-1.0zM306.9 447.9h1.0v1.0h-1.0zM307.0 450.2h1.0v1.0h-1.0zM304.2 451.4h1.0v1.0h-1.0zM303.8 450.7h1.0v1.0h-1.0zM310.3 447.2h1.0v1.0h-1.0zM307.4 450.1h1.0v1.0h-1.0zM308.6 452.9h1.0v1.0h-1.0zM310.9 452.3h1.0v1.0h-1.0zM303.0 450.9h1.0v1.0h-1.0zM305.7 449.1h1.0v1.0h-1.0zM308.5 452.5h1.0v1.0h-1.0zM309.1 449.8h1.0v1.0h-1.0zM306.9 448.5h1.0v1.0h-1.0zM311.0 449.3h1.0v1.0h-1.0zM308.6 454.3h1.0v1.0h-1.0zM304.5 451.6h1.0v1.0h-1.0zM305.3 453.7h1.0v1.0h-1.0zM310.3 450.0h1.0v1.0h-1.0zM309.3 453.2h1.0v1.0h-1.0zM302.5 449.8h1.0v1.0h-1.0zM311.9 450.8h1.0v1.0h-1.0zM309.7 456.6h1.0v1.0h-1.0zM311.9 452.8h1.0v1.0h-1.0zM306.9 450.0h1.0v1.0h-1.0zM307.1 450.9h1.0v1.0h-1.0zM304.7 451.8h1.0v1.0h-1.0zM315.4 453.8h1.0v1.0h-1.0zM307.5 450.0h1.0v1.0h-1.0zM312.6 447.3h1.0v1.0h-1.0zM306.1 450.5h1.0v1.0h-1.0zM308.5 451.1h1.0v1.0h-1.0zM303.2 451.3h1.0v1.0h-1.0zM306.9 454.0h1.0v1.0h-1.0zM310.9 451.8h1.0v1.0h-1.0zM304.4 452.9h1.0v1.0h-1.0zM311.1 448.7h1.0v1.0h-1.0zM309.0 453.0h1.0v1.0h-1.0zM305.0 455.7h1.0v1.0h-1.0zM306.5 452.8h1.0v1.0h-1.0zM306.7 451.7h1.0v1.0h-1.0zM307.9 451.4h1.0v1.0h-1.0zM306.4 455.0h1.0v1.0h-1.0zM305.6 449.1h1.0v1.0h-1.0zM307.1 450.9h1.0v1.0h-1.0zM305.0 452.1h1.0v1.0h-1.0zM304.3 452.7h1.0v1.0h-1.0zM307.9 450.1h1.0v1.0h-1.0zM310.6 451.8h1.0v1.0h-1.0zM303.6 450.5h1.0v1.0h-1.0zM308.0 451.4h1.0v1.0h-1.0zM306.1 450.8h1.0v1.0h-1.0zM305.2 448.6h1.0v1.0h-1.0zM310.5 451.1h1.0v1.0h-1.0zM306.5 453.0h1.0v1.0h-1.0zM312.3 449.0h1.0v1.0h-1.0zM305.7 450.6h1.0v1.0h-1.0zM309.1 452.6h1.0v1.0h-1.0zM307.3 448.7h1.0v1.0h-1.0zM305.8 451.5h1.0v1.0h-1.0zM309.7 448.8h1.0v1.0h-1.0z"/>
<path clip-path="url(#cp1)" fill="#000" fill-opacity="0.6" d="M313.6 451.2h1.0v1.0h-1.0zM320.0 450.6h1.0v1.0h-1.0zM318.4 454.5h1.0v1.0h-1.0zM306.3 447.7h1.0v1.0h-1.0zM311.5 456.7h1.0v1.0h-1.0zM308.2 451.8h1.0v1.0h-1.0zM308.1 448.9h1.0v1.0h-1.0zM315.9 449.9h1.0v1.0h-1.0zM300.4 449.2h1.0v1.0h-1.0zM313.2 452.3h1.0v1.0h-1.0zM307.2 449.0h1.0v1.0h-1.0zM315.1 455.9h1.0v1.0h-1.0zM308.5 448.8h1.0v1.0h-1.0zM303.9 443.3h1.0v1.0h-1.0zM309.0 449.0h1.0v1.0h-1.0zM311.5 444.3h1.0v1.0h-1.0zM307.7 451.6h1.0v1.0h-1.0zM310.1 455.6h1.0v1.0h-1.0zM304.7 454.1h1.0v1.0h-1.0zM296.0 446.8h1.0v1.0h-1.0zM312.4 448.9h1.0v1.0h-1.0zM311.3 458.3h1.0v1.0h-1.0zM308.3 452.9h1.0v1.0h-1.0zM307.9 451.7h1.0v1.0h-1.0zM313.1 455.6h1.0v1.0h-1.0zM305.0 460.8h1.0v1.0h-1.0zM303.7 456.5h1.0v1.0h-1.0zM306.5 452.2h1.0v1.0h-1.0zM313.9 453.0h1.0v1.0h-1.0zM300.0 454.0h1.0v1.0h-1.0zM313.9 449.4h1.0v1.0h-1.0zM304.0 447.8h1.0v1.0h-1.0zM301.6 451.9h1.0v1.0h-1.0zM314.3 448.2h1.0v1.0h-1.0zM307.0 451.5h1.0v1.0h-1.0zM300.5 452.1h1.0v1.0h-1.0zM305.6 460.4h1.0v1.0h-1.0zM312.5 448.6h1.0v1.0h-1.0zM313.9 451.2h1.0v1.0h-1.0zM305.2 451.1h1.0v1.0h-1.0zM309.7 453.3h1.0v1.0h-1.0zM311.4 455.6h1.0v1.0h-1.0zM304.0 449.9h1.0v1.0h-1.0zM309.4 448.7h1.0v1.0h-1.0zM307.3 445.6h1.0v1.0h-1.0zM304.6 448.3h1.0v1.0h-1.0zM304.8 453.7h1.0v1.0h-1.0zM307.9 451.9h1.0v1.0h-1.0zM307.7 447.9h1.0v1.0h-1.0zM304.4 450.3h1.0v1.0h-1.0zM305.2 451.8h1.0v1.0h-1.0zM313.5 453.6h1.0v1.0h-1.0zM308.7 449.5h1.0v1.0h-1.0zM312.3 450.8h1.0v1.0h-1.0zM314.0 445.0h1.0v1.0h-1.0zM310.7 447.4h1.0v1.0h-1.0zM319.8 457.7h1.0v1.0h-1.0zM303.0 443.6h1.0v1.0h-1.0zM311.9 450.5h1.0v1.0h-1.0zM305.8 452.5h1.0v1.0h-1.0zM317.5 450.3h1.0v1.0h-1.0zM316.7 448.7h1.0v1.0h-1.0zM296.9 451.5h1.0v1.0h-1.0zM302.3 451.7h1.0v1.0h-1.0zM311.1 451.4h1.0v1.0h-1.0zM311.8 444.8h1.0v1.0h-1.0zM311.5 451.2h1.0v1.0h-1.0zM307.1 448.5h1.0v1.0h-1.0zM310.0 449.7h1.0v1.0h-1.0zM311.0 452.5h1.0v1.0h-1.0zM307.1 454.1h1.0v1.0h-1.0zM313.0 455.0h1.0v1.0h-1.0zM295.3 449.9h1.0v1.0h-1.0zM310.9 455.1h1.0v1.0h-1.0zM301.9 456.0h1.0v1.0h-1.0zM312.7 455.9h1.0v1.0h-1.0zM306.3 456.8h1.0v1.0h-1.0zM302.7 451.2h1.0v1.0h-1.0zM309.5 451.1h1.0v1.0h-1.0zM302.6 454.8h1.0v1.0h-1.0zM302.6 446.6h1.0v1.0h-1.0zM299.0 452.5h1.0v1.0h-1.0zM307.4 449.7h1.0v1.0h-1.0zM310.2 450.3h1.0v1.0h-1.0zM313.0 445.3h1.0v1.0h-1.0zM306.7 448.4h1.0v1.0h-1.0zM313.2 451.6h1.0v1.0h-1.0zM307.6 455.0h1.0v1.0h-1.0zM307.0 455.4h1.0v1.0h-1.0zM310.6 451.4h1.0v1.0h-1.0zM313.2 451.0h1.0v1.0h-1.0zM305.7 448.6h1.0v1.0h-1.0zM306.2 453.2h1.0v1.0h-1.0zM306.6 450.8h1.0v1.0h-1.0zM307.9 453.9h1.0v1.0h-1.0zM302.6 458.2h1.0v1.0h-1.0zM313.1 451.6h1.0v1.0h-1.0zM305.3 446.2h1.0v1.0h-1.0zM310.0 448.5h1.0v1.0h-1.0zM303.0 446.3h1.0v1.0h-1.0zM309.4 447.3h1.0v1.0h-1.0zM309.6 456.5h1.0v1.0h-1.0zM305.2 452.5h1.0v1.0h-1.0zM318.4 446.1h1.0v1.0h-1.0zM309.5 454.1h1.0v1.0h-1.0zM317.1 456.4h1.0v1.0h-1.0zM312.7 450.4h1.0v1.0h-1.0zM303.9 449.2h1.0v1.0h-1.0zM305.4 450.5h1.0v1.0h-1.0zM309.9 452.8h1.0v1.0h-1.0zM307.8 454.1h1.0v1.0h-1.0zM307.8 456.1h1.0v1.0h-1.0zM306.0 456.2h1.0v1.0h-1.0zM297.7 456.1h1.0v1.0h-1.0zM306.3 456.7h1.0v1.0h-1.0zM295.5 454.1h1.0v1.0h-1.0zM309.5 446.0h1.0v1.0h-1.0zM303.6 451.2h1.0v1.0h-1.0zM303.6 452.9h1.0v1.0h-1.0zM306.3 450.3h1.0v1.0h-1.0zM309.0 455.1h1.0v1.0h-1.0zM299.8 450.4h1.0v1.0h-1.0zM298.1 448.3h1.0v1.0h-1.0zM301.7 457.0h1.0v1.0h-1.0zM296.5 454.2h1.0v1.0h-1.0zM302.3 452.5h1.0v1.0h-1.0zM316.1 455.1h1.0v1.0h-1.0zM301.8 455.6h1.0v1.0h-1.0zM311.0 453.0h1.0v1.0h-1.0zM300.1 442.6h1.0v1.0h-1.0zM309.1 449.2h1.0v1.0h-1.0zM305.8 450.0h1.0v1.0h-1.0zM307.2 448.1h1.0v1.0h-1.0zM310.6 452.4h1.0v1.0h-1.0zM317.0 456.1h1.0v1.0h-1.0zM308.6 449.9h1.0v1.0h-1.0zM308.2 447.5h1.0v1.0h-1.0zM302.2 459.2h1.0v1.0h-1.0zM310.7 450.0h1.0v1.0h-1.0zM306.2 447.1h1.0v1.0h-1.0zM312.0 452.6h1.0v1.0h-1.0zM307.3 453.3h1.0v1.0h-1.0zM316.9 449.1h1.0v1.0h-1.0zM296.8 454.6h1.0v1.0h-1.0zM305.9 449.9h1.0v1.0h-1.0zM312.3 448.3h1.0v1.0h-1.0zM305.6 452.4h1.0v1.0h-1.0zM303.2 454.6h1.0v1.0h-1.0zM306.1 449.4h1.0v1.0h-1.0zM300.0 452.9h1.0v1.0h-1.0zM308.1 451.4h1.0v1.0h-1.0zM320.7 462.2h1.0v1.0h-1.0zM313.7 449.1h1.0v1.0h-1.0zM301.5 456.8h1.0v1.0h-1.0zM302.8 451.5h1.0v1.0h-1.0zM305.3 451.2h1.0v1.0h-1.0zM312.9 454.4h1.0v1.0h-1.0zM303.1 455.0h1.0v1.0h-1.0zM303.8 456.4h1.0v1.0h-1.0zM312.3 452.9h1.0v1.0h-1.0zM312.2 449.5h1.0v1.0h-1.0zM305.5 449.7h1.0v1.0h-1.0zM301.5 453.6h1.0v1.0h-1.0zM299.1 453.8h1.0v1.0h-1.0zM303.7 456.9h1.0v1.0h-1.0zM295.5 453.2h1.0v1.0h-1.0zM311.5 455.6h1.0v1.0h-1.0zM304.1 457.3h1.0v1.0h-1.0zM310.1 452.3h1.0v1.0h-1.0zM317.6 446.2h1.0v1.0h-1.0zM313.8 447.3h1.0v1.0h-1.0zM301.3 446.4h1.0v1.0h-1.0zM312.2 457.6h1.0v1.0h-1.0zM313.8 448.6h1.0v1.0h-1.0zM303.5 456.3h1.0v1.0h-1.0zM302.4 453.9h1.0v1.0h-1.0zM306.9 458.0h1.0v1.0h-1.0zM298.9 455.4h1.0v1.0h-1.0zM315.4 451.3h1.0v1.0h-1.0zM294.5 451.0h1.0v1.0h-1.0zM301.5 452.0h1.0v1.0h-1.0zM306.0 452.3h1.0v1.0h-1.0zM306.3 449.7h1.0v1.0h-1.0zM308.4 451.6h1.0v1.0h-1.0zM309.0 457.7h1.0v1.0h-1.0zM306.3 445.4h1.0v1.0h-1.0zM313.6 452.7h1.0v1.0h-1.0zM295.9 448.3h1.0v1.0h-1.0zM307.5 452.4h1.0v1.0h-1.0zM303.6 454.8h1.0v1.0h-1.0zM308.2 451.5h1.0v1.0h-1.0zM308.7 454.6h1.0v1.0h-1.0zM302.6 445.8h1.0v1.0h-1.0zM304.0 455.8h1.0v1.0h-1.0zM311.8 449.5h1.0v1.0h-1.0zM309.4 454.0h1.0v1.0h-1.0zM303.8 452.4h1.0v1.0h-1.0zM318.5 442.1h1.0v1.0h-1.0zM320.0 448.9h1.0v1.0h-1.0zM299.6 452.5h1.0v1.0h-1.0zM309.1 457.4h1.0v1.0h-1.0zM321.0 452.8h1.0v1.0h-1.0zM311.7 452.7h1.0v1.0h-1.0zM308.7 446.5h1.0v1.0h-1.0zM306.4 457.0h1.0v1.0h-1.0zM304.6 458.4h1.0v1.0h-1.0zM306.4 451.8h1.0v1.0h-1.0zM304.5 450.9h1.0v1.0h-1.0zM311.5 445.7h1.0v1.0h-1.0zM305.3 455.0h1.0v1.0h-1.0zM305.1 461.7h1.0v1.0h-1.0zM301.0 454.4h1.0v1.0h-1.0zM307.2 456.4h1.0v1.0h-1.0zM302.7 453.7h1.0v1.0h-1.0zM306.5 448.1h1.0v1.0h-1.0zM313.1 456.6h1.0v1.0h-1.0zM309.5 447.1h1.0v1.0h-1.0zM310.2 450.9h1.0v1.0h-1.0zM309.4 452.7h1.0v1.0h-1.0zM307.8 455.0h1.0v1.0h-1.0z"/>
<path clip-path="url(#cp1)" fill="#000" fill-opacity="0.6" d="M308.8 444.1h1.0v1.0h-1.0zM308.7 409.2h1.0v1.0h-1.0zM305.1 429.5h1.0v1.0h-1.0zM303.4 396.9h1.0v1.0h-1.0zM307.7 428.3h1.0v1.0h-1.0zM305.2 418.0h1.0v1.0h-1.0zM303.3 438.8h1.0v1.0h-1.0zM303.4 438.0h1.0v1.0h-1.0zM305.9 414.1h1.0v1.0h-1.0zM301.6 436.9h1.0v1.0h-1.0zM303.2 423.5h1.0v1.0h-1.0zM302.3 416.2h1.0v1.0h-1.0zM308.1 404.7h1.0v1.0h-1.0zM308.8 412.7h1.0v1.0h-1.0zM313.9 425.7h1.0v1.0h-1.0zM302.7 413.9h1.0v1.0h-1.0zM305.3 394.6h1.0v1.0h-1.0zM310.4 425.1h1.0v1.0h-1.0zM306.8 396.1h1.0v1.0h-1.0zM306.5 428.1h1.0v1.0h-1.0zM313.0 431.6h1.0v1.0h-1.0zM306.4 413.3h1.0v1.0h-1.0zM303.8 434.6h1.0v1.0h-1.0zM303.3 425.3h1.0v1.0h-1.0zM308.6 420.5h1.0v1.0h-1.0zM308.5 408.8h1.0v1.0h-1.0zM303.1 416.9h1.0v1.0h-1.0zM304.3 426.1h1.0v1.0h-1.0zM309.2 401.4h1.0v1.0h-1.0zM309.3 418.4h1.0v1.0h-1.0zM305.4 410.2h1.0v1.0h-1.0zM309.5 432.6h1.0v1.0h-1.0zM309.3 437.5h1.0v1.0h-1.0zM301.8 437.4h1.0v1.0h-1.0zM306.5 429.8h1.0v1.0h-1.0zM308.8 411.6h1.0v1.0h-1.0zM305.7 400.0h1.0v1.0h-1.0zM300.7 428.6h1.0v1.0h-1.0zM306.6 419.6h1.0v1.0h-1.0zM309.9 398.8h1.0v1.0h-1.0zM312.6 442.2h1.0v1.0h-1.0zM300.5 441.4h1.0v1.0h-1.0zM315.9 440.4h1.0v1.0h-1.0zM303.9 397.5h1.0v1.0h-1.0zM310.6 412.2h1.0v1.0h-1.0zM311.4 404.8h1.0v1.0h-1.0zM310.6 400.7h1.0v1.0h-1.0zM308.0 440.9h1.0v1.0h-1.0zM303.8 403.7h1.0v1.0h-1.0zM309.5 433.8h1.0v1.0h-1.0zM305.2 411.0h1.0v1.0h-1.0zM299.4 411.3h1.0v1.0h-1.0zM316.6 429.8h1.0v1.0h-1.0zM309.8 395.4h1.0v1.0h-1.0zM313.3 410.5h1.0v1.0h-1.0zM304.6 439.1h1.0v1.0h-1.0zM312.2 424.8h1.0v1.0h-1.0zM312.6 415.4h1.0v1.0h-1.0zM312.5 442.4h1.0v1.0h-1.0zM307.4 446.3h1.0v1.0h-1.0zM303.7 403.2h1.0v1.0h-1.0zM306.9 431.2h1.0v1.0h-1.0zM300.5 433.3h1.0v1.0h-1.0zM302.1 425.4h1.0v1.0h-1.0zM307.8 417.0h1.0v1.0h-1.0zM304.3 425.6h1.0v1.0h-1.0zM307.0 435.2h1.0v1.0h-1.0zM307.2 412.8h1.0v1.0h-1.0zM313.7 433.7h1.0v1.0h-1.0zM311.7 428.5h1.0v1.0h-1.0zM307.4 441.5h1.0v1.0h-1.0zM311.4 439.0h1.0v1.0h-1.0zM305.0 434.3h1.0v1.0h-1.0zM306.4 398.5h1.0v1.0h-1.0zM310.4 415.7h1.0v1.0h-1.0zM303.5 437.5h1.0v1.0h-1.0zM306.6 425.9h1.0v1.0h-1.0zM303.3 419.4h1.0v1.0h-1.0zM307.9 397.9h1.0v1.0h-1.0zM312.7 434.6h1.0v1.0h-1.0zM305.1 411.1h1.0v1.0h-1.0zM308.2 440.1h1.0v1.0h-1.0zM304.6 416.3h1.0v1.0h-1.0zM303.8 409.3h1.0v1.0h-1.0zM303.5 410.7h1.0v1.0h-1.0zM312.2 420.7h1.0v1.0h-1.0zM315.1 440.3h1.0v1.0h-1.0zM309.0 399.4h1.0v1.0h-1.0zM305.2 418.0h1.0v1.0h-1.0zM309.8 428.5h1.0v1.0h-1.0zM306.4 411.8h1.0v1.0h-1.0zM310.1 412.2h1.0v1.0h-1.0zM308.4 436.9h1.0v1.0h-1.0zM308.4 404.6h1.0v1.0h-1.0zM309.4 399.9h1.0v1.0h-1.0zM305.6 433.2h1.0v1.0h-1.0zM306.2 441.6h1.0v1.0h-1.0zM302.0 396.1h1.0v1.0h-1.0zM306.1 440.2h1.0v1.0h-1.0zM302.9 429.7h1.0v1.0h-1.0zM307.0 433.9h1.0v1.0h-1.0zM304.4 430.3h1.0v1.0h-1.0zM307.8 399.3h1.0v1.0h-1.0zM309.0 406.6h1.0v1.0h-1.0zM303.0 430.7h1.0v1.0h-1.0zM304.9 394.6h1.0v1.0h-1.0zM304.5 423.0h1.0v1.0h-1.0zM309.9 413.5h1.0v1.0h-1.0zM313.0 444.0h1.0v1.0h-1.0zM310.2 399.1h1.0v1.0h-1.0zM306.4 433.7h1.0v1.0h-1.0zM312.2 432.0h1.0v1.0h-1.0zM302.7 443.7h1.0v1.0h-1.0zM312.3 430.4h1.0v1.0h-1.0zM305.4 432.5h1.0v1.0h-1.0zM298.6 428.6h1.0v1.0h-1.0zM316.0 424.3h1.0v1.0h-1.0zM312.5 416.5h1.0v1.0h-1.0zM304.2 392.8h1.0v1.0h-1.0zM308.0 435.8h1.0v1.0h-1.0zM306.8 438.7h1.0v1.0h-1.0zM307.8 414.2h1.0v1.0h-1.0zM302.8 435.8h1.0v1.0h-1.0zM305.3 427.4h1.0v1.0h-1.0zM309.0 444.7h1.0v1.0h-1.0zM308.2 425.3h1.0v1.0h-1.0zM311.3 442.1h1.0v1.0h-1.0zM307.8 423.2h1.0v1.0h-1.0zM315.0 440.6h1.0v1.0h-1.0zM305.2 410.9h1.0v1.0h-1.0zM308.3 424.0h1.0v1.0h-1.0zM301.4 421.2h1.0v1.0h-1.0zM303.5 428.8h1.0v1.0h-1.0zM311.8 431.5h1.0v1.0h-1.0zM304.5 426.9h1.0v1.0h-1.0zM309.2 410.8h1.0v1.0h-1.0zM307.3 398.8h1.0v1.0h-1.0zM304.2 406.8h1.0v1.0h-1.0zM306.4 413.1h1.0v1.0h-1.0zM305.9 440.1h1.0v1.0h-1.0zM305.9 440.9h1.0v1.0h-1.0zM309.9 408.2h1.0v1.0h-1.0zM309.6 443.2h1.0v1.0h-1.0zM305.7 413.2h1.0v1.0h-1.0zM304.6 408.9h1.0v1.0h-1.0zM308.4 400.9h1.0v1.0h-1.0zM307.2 428.6h1.0v1.0h-1.0zM310.8 417.4h1.0v1.0h-1.0zM316.0 434.7h1.0v1.0h-1.0zM310.2 422.1h1.0v1.0h-1.0zM307.4 407.4h1.0v1.0h-1.0zM306.9 444.6h1.0v1.0h-1.0zM304.8 435.9h1.0v1.0h-1.0zM304.6 427.1h1.0v1.0h-1.0zM304.3 406.3h1.0v1.0h-1.0zM306.2 415.3h1.0v1.0h-1.0zM306.1 412.5h1.0v1.0h-1.0zM309.9 432.6h1.0v1.0h-1.0zM306.2 425.8h1.0v1.0h-1.0zM306.9 441.2h1.0v1.0h-1.0zM303.6 426.0h1.0v1.0h-1.0zM312.8 400.8h1.0v1.0h-1.0zM309.1 413.8h1.0v1.0h-1.0zM313.2 430.3h1.0v1.0h-1.0zM310.1 436.6h1.0v1.0h-1.0zM312.3 413.7h1.0v1.0h-1.0zM306.7 413.4h1.0v1.0h-1.0zM309.8 401.8h1.0v1.0h-1.0zM316.2 438.1h1.0v1.0h-1.0zM303.6 437.9h1.0v1.0h-1.0zM311.3 430.1h1.0v1.0h-1.0zM312.9 437.1h1.0v1.0h-1.0zM308.8 412.0h1.0v1.0h-1.0zM309.9 414.4h1.0v1.0h-1.0zM311.6 431.7h1.0v1.0h-1.0zM305.4 417.3h1.0v1.0h-1.0zM308.8 417.6h1.0v1.0h-1.0zM304.7 427.4h1.0v1.0h-1.0zM305.3 437.1h1.0v1.0h-1.0zM305.5 408.2h1.0v1.0h-1.0zM307.0 394.8h1.0v1.0h-1.0zM308.0 390.7h1.0v1.0h-1.0zM309.0 440.2h1.0v1.0h-1.0zM302.9 420.0h1.0v1.0h-1.0zM314.0 401.5h1.0v1.0h-1.0zM311.3 442.2h1.0v1.0h-1.0zM309.9 403.9h1.0v1.0h-1.0zM306.3 440.6h1.0v1.0h-1.0zM307.2 405.1h1.0v1.0h-1.0zM309.3 416.6h1.0v1.0h-1.0zM308.8 410.4h1.0v1.0h-1.0zM302.0 420.4h1.0v1.0h-1.0zM309.9 430.9h1.0v1.0h-1.0zM317.1 403.7h1.0v1.0h-1.0zM301.4 432.6h1.0v1.0h-1.0zM310.8 423.4h1.0v1.0h-1.0zM308.7 437.3h1.0v1.0h-1.0zM307.1 423.6h1.0v1.0h-1.0zM312.0 427.7h1.0v1.0h-1.0zM303.6 413.7h1.0v1.0h-1.0zM308.0 437.4h1.0v1.0h-1.0zM312.3 435.8h1.0v1.0h-1.0zM306.9 397.0h1.0v1.0h-1.0zM306.1 404.6h1.0v1.0h-1.0zM307.9 403.6h1.0v1.0h-1.0zM306.0 422.1h1.0v1.0h-1.0zM312.6 430.0h1.0v1.0h-1.0zM304.5 407.6h1.0v1.0h-1.0zM310.4 428.3h1.0v1.0h-1.0zM303.4 440.8h1.0v1.0h-1.0zM309.7 403.9h1.0v1.0h-1.0zM307.2 426.0h1.0v1.0h-1.0zM299.0 434.9h1.0v1.0h-1.0zM307.5 425.9h1.0v1.0h-1.0zM304.0 394.0h1.0v1.0h-1.0zM306.0 435.0h1.0v1.0h-1.0zM312.6 425.4h1.0v1.0h-1.0zM303.8 441.3h1.0v1.0h-1.0zM304.0 439.4h1.0v1.0h-1.0zM312.2 444.8h1.0v1.0h-1.0zM307.9 401.1h1.0v1.0h-1.0zM312.6 438.0h1.0v1.0h-1.0zM308.6 437.5h1.0v1.0h-1.0zM304.6 427.3h1.0v1.0h-1.0zM307.3 434.2h1.0v1.0h-1.0zM311.5 411.2h1.0v1.0h-1.0zM310.6 406.5h1.0v1.0h-1.0zM307.5 415.6h1.0v1.0h-1.0zM307.7 412.0h1.0v1.0h-1.0zM307.1 429.0h1.0v1.0h-1.0zM305.6 429.1h1.0v1.0h-1.0zM313.9 433.9h1.0v1.0h-1.0zM307.5 404.8h1.0v1.0h-1.0zM303.8 418.5h1.0v1.0h-1.0zM305.9 444.9h1.0v1.0h-1.0zM309.9 440.3h1.0v1.0h-1.0zM309.6 408.7h1.0v1.0h-1.0zM307.0 421.9h1.0v1.0h-1.0zM305.3 434.3h1.0v1.0h-1.0zM307.6 412.5h1.0v1.0h-1.0zM302.0 438.6h1.0v1.0h-1.0zM303.2 427.3h1.0v1.0h-1.0zM310.1 407.3h1.0v1.0h-1.0zM305.9 418.2h1.0v1.0h-1.0zM308.7 433.4h1.0v1.0h-1.0zM311.5 433.7h1.0v1.0h-1.0zM309.6 419.9h1.0v1.0h-1.0zM307.6 442.6h1.0v1.0h-1.0zM314.5 441.2h1.0v1.0h-1.0zM309.7 441.9h1.0v1.0h-1.0zM306.3 431.0h1.0v1.0h-1.0zM309.9 406.8h1.0v1.0h-1.0zM308.8 433.0h1.0v1.0h-1.0zM304.7 405.0h1.0v1.0h-1.0zM307.7 434.1h1.0v1.0h-1.0zM307.0 424.0h1.0v1.0h-1.0zM301.0 425.8h1.0v1.0h-1.0zM306.9 443.9h1.0v1.0h-1.0zM306.6 429.6h1.0v1.0h-1.0zM306.1 439.6h1.0v1.0h-1.0zM302.1 410.0h1.0v1.0h-1.0zM306.3 411.7h1.0v1.0h-1.0zM307.4 392.3h1.0v1.0h-1.0zM307.8 431.2h1.0v1.0h-1.0zM303.8 410.2h1.0v1.0h-1.0zM309.6 414.9h1.0v1.0h-1.0zM303.5 436.5h1.0v1.0h-1.0zM306.8 426.7h1.0v1.0h-1.0zM311.8 401.9h1.0v1.0h-1.0zM305.2 440.4h1.0v1.0h-1.0zM305.8 406.7h1.0v1.0h-1.0zM311.0 423.5h1.0v1.0h-1.0zM306.2 418.5h1.0v1.0h-1.0zM306.5 436.7h1.0v1.0h-1.0zM308.2 392.0h1.0v1.0h-1.0zM311.0 399.2h1.0v1.0h-1.0zM300.3 434.2h1.0v1.0h-1.0zM304.8 398.6h1.0v1.0h-1.0zM304.2 439.1h1.0v1.0h-1.0zM303.9 427.7h1.0v1.0h-1.0zM304.7 426.5h1.0v1.0h-1.0zM304.7 414.8h1.0v1.0h-1.0zM308.5 435.2h1.0v1.0h-1.0zM304.6 417.7h1.0v1.0h-1.0zM307.9 421.3h1.0v1.0h-1.0zM308.8 439.0h1.0v1.0h-1.0zM305.1 412.4h1.0v1.0h-1.0zM307.9 444.7h1.0v1.0h-1.0zM312.9 418.6h1.0v1.0h-1.0zM308.6 443.4h1.0v1.0h-1.0zM305.4 399.1h1.0v1.0h-1.0zM307.3 431.7h1.0v1.0h-1.0zM304.5 421.7h1.0v1.0h-1.0zM308.4 443.1h1.0v1.0h-1.0zM310.3 445.0h1.0v1.0h-1.0zM304.8 415.1h1.0v1.0h-1.0zM306.8 412.4h1.0v1.0h-1.0zM311.1 438.1h1.0v1.0h-1.0zM305.9 401.4h1.0v1.0h-1.0zM308.1 395.4h1.0v1.0h-1.0zM304.2 421.0h1.0v1.0h-1.0zM304.8 406.7h1.0v1.0h-1.0zM305.8 422.1h1.0v1.0h-1.0zM314.5 397.1h1.0v1.0h-1.0zM306.2 427.2h1.0v1.0h-1.0zM305.8 426.0h1.0v1.0h-1.0zM305.7 414.3h1.0v1.0h-1.0zM307.0 409.4h1.0v1.0h-1.0zM309.6 431.0h1.0v1.0h-1.0zM308.1 416.8h1.0v1.0h-1.0zM314.1 408.9h1.0v1.0h-1.0zM308.2 427.7h1.0v1.0h-1.0zM312.1 433.8h1.0v1.0h-1.0zM308.4 437.4h1.0v1.0h-1.0zM309.4 394.0h1.0v1.0h-1.0zM302.9 437.5h1.0v1.0h-1.0zM307.1 424.4h1.0v1.0h-1.0zM307.3 415.0h1.0v1.0h-1.0zM306.7 425.3h1.0v1.0h-1.0zM300.6 405.2h1.0v1.0h-1.0zM310.3 424.6h1.0v1.0h-1.0zM306.3 437.6h1.0v1.0h-1.0zM306.1 415.1h1.0v1.0h-1.0zM306.7 420.3h1.0v1.0h-1.0zM306.8 428.8h1.0v1.0h-1.0zM308.8 421.8h1.0v1.0h-1.0zM303.4 432.8h1.0v1.0h-1.0zM304.5 397.7h1.0v1.0h-1.0zM308.4 417.6h1.0v1.0h-1.0zM308.0 411.1h1.0v1.0h-1.0zM306.3 408.8h1.0v1.0h-1.0zM305.7 433.0h1.0v1.0h-1.0zM304.8 404.8h1.0v1.0h-1.0zM307.3 425.4h1.0v1.0h-1.0zM311.3 406.2h1.0v1.0h-1.0zM304.1 429.0h1.0v1.0h-1.0zM312.4 410.9h1.0v1.0h-1.0zM310.2 428.7h1.0v1.0h-1.0zM306.1 404.4h1.0v1.0h-1.0zM310.0 408.4h1.0v1.0h-1.0zM302.8 413.7h1.0v1.0h-1.0zM302.0 434.3h1.0v1.0h-1.0zM303.4 423.5h1.0v1.0h-1.0zM306.2 409.1h1.0v1.0h-1.0zM306.5 443.1h1.0v1.0h-1.0zM305.9 412.5h1.0v1.0h-1.0zM307.8 427.8h1.0v1.0h-1.0zM300.7 437.8h1.0v1.0h-1.0zM309.1 441.3h1.0v1.0h-1.0zM303.0 402.2h1.0v1.0h-1.0zM305.4 442.9h1.0v1.0h-1.0zM306.2 423.8h1.0v1.0h-1.0zM303.8 432.8h1.0v1.0h-1.0zM303.1 428.0h1.0v1.0h-1.0zM304.3 438.5h1.0v1.0h-1.0zM307.5 405.8h1.0v1.0h-1.0zM309.4 421.3h1.0v1.0h-1.0zM309.3 443.6h1.0v1.0h-1.0zM304.3 409.1h1.0v1.0h-1.0zM305.0 422.0h1.0v1.0h-1.0zM304.6 394.4h1.0v1.0h-1.0zM308.9 443.2h1.0v1.0h-1.0zM301.0 437.9h1.0v1.0h-1.0zM311.5 412.9h1.0v1.0h-1.0zM305.9 440.5h1.0v1.0h-1.0zM305.0 427.3h1.0v1.0h-1.0zM308.6 441.0h1.0v1.0h-1.0zM310.8 445.5h1.0v1.0h-1.0zM308.6 421.3h1.0v1.0h-1.0zM310.9 423.9h1.0v1.0h-1.0zM307.9 412.3h1.0v1.0h-1.0zM311.4 431.0h1.0v1.0h-1.0zM311.5 405.4h1.0v1.0h-1.0zM307.2 440.8h1.0v1.0h-1.0zM312.1 430.0h1.0v1.0h-1.0zM308.0 413.7h1.0v1.0h-1.0zM307.8 418.4h1.0v1.0h-1.0zM304.6 427.4h1.0v1.0h-1.0zM306.6 417.6h1.0v1.0h-1.0zM310.0 421.6h1.0v1.0h-1.0zM303.3 434.7h1.0v1.0h-1.0zM309.6 439.0h1.0v1.0h-1.0zM308.6 409.9h1.0v1.0h-1.0zM308.4 421.2h1.0v1.0h-1.0zM300.4 439.2h1.0v1.0h-1.0zM307.2 404.1h1.0v1.0h-1.0zM309.6 403.7h1.0v1.0h-1.0zM305.1 405.3h1.0v1.0h-1.0zM307.8 412.7h1.0v1.0h-1.0zM299.9 440.4h1.0v1.0h-1.0zM309.6 424.5h1.0v1.0h-1.0zM305.4 438.9h1.0v1.0h-1.0zM310.3 414.7h1.0v1.0h-1.0zM301.6 435.6h1.0v1.0h-1.0zM309.7 412.2h1.0v1.0h-1.0zM306.7 436.2h1.0v1.0h-1.0zM310.1 419.7h1.0v1.0h-1.0zM304.5 419.0h1.0v1.0h-1.0zM305.5 425.7h1.0v1.0h-1.0zM314.7 424.1h1.0v1.0h-1.0zM304.8 394.1h1.0v1.0h-1.0zM305.2 432.0h1.0v1.0h-1.0zM306.6 422.4h1.0v1.0h-1.0zM304.2 400.4h1.0v1.0h-1.0zM311.3 417.7h1.0v1.0h-1.0zM313.0 390.4h1.0v1.0h-1.0zM305.2 399.2h1.0v1.0h-1.0zM302.0 446.3h1.0v1.0h-1.0zM311.3 421.7h1.0v1.0h-1.0zM311.0 432.7h1.0v1.0h-1.0zM310.1 418.8h1.0v1.0h-1.0zM311.2 426.8h1.0v1.0h-1.0zM304.7 430.8h1.0v1.0h-1.0zM307.0 441.2h1.0v1.0h-1.0zM303.1 416.6h1.0v1.0h-1.0zM303.0 412.9h1.0v1.0h-1.0zM310.6 405.4h1.0v1.0h-1.0zM305.3 444.3h1.0v1.0h-1.0zM314.8 442.9h1.0v1.0h-1.0zM307.7 411.0h1.0v1.0h-1.0zM305.5 430.9h1.0v1.0h-1.0zM310.1 416.7h1.0v1.0h-1.0zM313.3 421.3h1.0v1.0h-1.0zM309.1 426.8h1.0v1.0h-1.0zM303.6 401.7h1.0v1.0h-1.0zM308.7 433.2h1.0v1.0h-1.0zM311.9 413.9h1.0v1.0h-1.0zM305.9 430.1h1.0v1.0h-1.0zM305.0 392.1h1.0v1.0h-1.0zM310.8 441.2h1.0v1.0h-1.0zM307.9 423.3h1.0v1.0h-1.0zM304.0 421.3h1.0v1.0h-1.0zM306.3 441.9h1.0v1.0h-1.0zM305.1 422.6h1.0v1.0h-1.0zM308.4 445.8h1.0v1.0h-1.0zM307.9 431.1h1.0v1.0h-1.0zM311.2 428.9h1.0v1.0h-1.0zM309.8 432.1h1.0v1.0h-1.0zM302.5 416.7h1.0v1.0h-1.0zM308.8 440.8h1.0v1.0h-1.0zM310.4 427.9h1.0v1.0h-1.0zM309.0 421.7h1.0v1.0h-1.0zM310.8 426.2h1.0v1.0h-1.0zM305.7 407.9h1.0v1.0h-1.0zM304.5 426.0h1.0v1.0h-1.0zM310.5 425.5h1.0v1.0h-1.0zM304.1 397.6h1.0v1.0h-1.0zM300.6 411.4h1.0v1.0h-1.0zM310.8 443.7h1.0v1.0h-1.0zM305.2 441.0h1.0v1.0h-1.0zM306.5 438.2h1.0v1.0h-1.0zM303.0 433.4h1.0v1.0h-1.0zM303.3 435.5h1.0v1.0h-1.0zM303.8 428.0h1.0v1.0h-1.0zM306.3 402.1h1.0v1.0h-1.0zM308.7 396.2h1.0v1.0h-1.0zM300.1 438.7h1.0v1.0h-1.0zM309.9 433.1h1.0v1.0h-1.0zM303.7 401.9h1.0v1.0h-1.0zM304.1 432.1h1.0v1.0h-1.0z"/>
<path clip-path="url(#cp1)" fill="#000" fill-opacity="0.5" d="M328.2 393.6h1.0v1.0h-1.0zM321.0 387.3h1.0v1.0h-1.0zM326.5 393.4h1.0v1.0h-1.0zM334.3 388.2h1.0v1.0h-1.0zM339.2 390.5h1.0v1.0h-1.0zM326.0 410.6h1.0v1.0h-1.0zM324.1 399.9h1.0v1.0h-1.0zM339.4 403.2h1.0v1.0h-1.0zM324.3 410.8h1.0v1.0h-1.0zM343.5 411.6h1.0v1.0h-1.0zM330.3 397.5h1.0v1.0h-1.0zM324.3 412.1h1.0v1.0h-1.0zM336.4 404.6h1.0v1.0h-1.0zM341.0 401.5h1.0v1.0h-1.0zM320.7 405.0h1.0v1.0h-1.0zM340.1 390.1h1.0v1.0h-1.0zM328.2 395.2h1.0v1.0h-1.0zM339.7 400.6h1.0v1.0h-1.0zM327.5 406.4h1.0v1.0h-1.0zM319.7 398.5h1.0v1.0h-1.0zM333.3 400.5h1.0v1.0h-1.0zM336.0 409.3h1.0v1.0h-1.0zM343.6 412.8h1.0v1.0h-1.0zM341.2 407.6h1.0v1.0h-1.0zM334.5 411.6h1.0v1.0h-1.0zM328.5 398.3h1.0v1.0h-1.0zM326.6 399.0h1.0v1.0h-1.0zM328.1 404.0h1.0v1.0h-1.0zM324.6 399.1h1.0v1.0h-1.0zM328.2 397.4h1.0v1.0h-1.0zM313.5 414.7h1.0v1.0h-1.0zM331.2 399.9h1.0v1.0h-1.0zM329.8 393.8h1.0v1.0h-1.0zM346.7 405.4h1.0v1.0h-1.0zM334.9 416.2h1.0v1.0h-1.0zM326.9 402.1h1.0v1.0h-1.0zM333.7 411.4h1.0v1.0h-1.0zM322.0 398.0h1.0v1.0h-1.0zM326.1 397.6h1.0v1.0h-1.0zM317.9 396.0h1.0v1.0h-1.0zM339.3 400.4h1.0v1.0h-1.0zM333.9 416.2h1.0v1.0h-1.0zM322.4 392.3h1.0v1.0h-1.0zM329.6 414.6h1.0v1.0h-1.0zM336.2 393.4h1.0v1.0h-1.0zM333.2 399.6h1.0v1.0h-1.0zM332.5 408.2h1.0v1.0h-1.0zM324.4 406.5h1.0v1.0h-1.0zM325.9 403.8h1.0v1.0h-1.0zM330.6 388.3h1.0v1.0h-1.0zM336.0 404.4h1.0v1.0h-1.0zM324.6 393.3h1.0v1.0h-1.0zM322.7 422.1h1.0v1.0h-1.0zM337.4 399.8h1.0v1.0h-1.0zM324.0 403.0h1.0v1.0h-1.0zM337.0 392.3h1.0v1.0h-1.0zM331.6 397.7h1.0v1.0h-1.0zM335.7 391.2h1.0v1.0h-1.0zM341.3 409.4h1.0v1.0h-1.0zM334.5 399.4h1.0v1.0h-1.0zM335.0 406.0h1.0v1.0h-1.0zM324.0 396.0h1.0v1.0h-1.0zM325.5 397.5h1.0v1.0h-1.0zM334.2 411.8h1.0v1.0h-1.0zM340.0 393.7h1.0v1.0h-1.0zM339.0 387.1h1.0v1.0h-1.0zM345.1 404.7h1.0v1.0h-1.0zM332.0 392.4h1.0v1.0h-1.0zM331.3 398.0h1.0v1.0h-1.0zM336.5 408.8h1.0v1.0h-1.0zM330.1 395.0h1.0v1.0h-1.0zM329.6 408.5h1.0v1.0h-1.0zM323.2 396.1h1.0v1.0h-1.0zM336.4 413.4h1.0v1.0h-1.0zM323.0 412.1h1.0v1.0h-1.0zM333.3 397.7h1.0v1.0h-1.0zM320.8 399.8h1.0v1.0h-1.0zM337.1 394.8h1.0v1.0h-1.0zM323.3 403.1h1.0v1.0h-1.0zM335.5 410.7h1.0v1.0h-1.0zM319.7 389.9h1.0v1.0h-1.0zM327.1 408.8h1.0v1.0h-1.0zM337.7 390.9h1.0v1.0h-1.0zM324.8 394.6h1.0v1.0h-1.0zM330.4 387.2h1.0v1.0h-1.0zM326.9 418.3h1.0v1.0h-1.0zM315.0 402.0h1.0v1.0h-1.0zM332.0 403.5h1.0v1.0h-1.0zM332.8 396.1h1.0v1.0h-1.0zM322.8 410.0h1.0v1.0h-1.0zM333.7 384.7h1.0v1.0h-1.0zM324.8 401.7h1.0v1.0h-1.0zM323.5 419.2h1.0v1.0h-1.0zM330.0 398.4h1.0v1.0h-1.0zM325.6 401.6h1.0v1.0h-1.0zM344.9 406.9h1.0v1.0h-1.0zM319.9 395.0h1.0v1.0h-1.0zM334.8 401.7h1.0v1.0h-1.0zM336.4 409.2h1.0v1.0h-1.0zM317.1 403.1h1.0v1.0h-1.0zM318.7 404.5h1.0v1.0h-1.0zM333.7 398.7h1.0v1.0h-1.0zM326.9 404.0h1.0v1.0h-1.0zM332.5 401.9h1.0v1.0h-1.0zM337.4 413.1h1.0v1.0h-1.0zM327.6 407.3h1.0v1.0h-1.0zM323.1 399.6h1.0v1.0h-1.0zM312.3 381.9h1.0v1.0h-1.0zM331.3 407.2h1.0v1.0h-1.0zM324.0 407.5h1.0v1.0h-1.0zM332.0 394.2h1.0v1.0h-1.0zM331.5 385.5h1.0v1.0h-1.0zM321.0 392.4h1.0v1.0h-1.0zM341.2 408.9h1.0v1.0h-1.0zM337.0 393.0h1.0v1.0h-1.0zM335.5 397.8h1.0v1.0h-1.0zM322.3 403.3h1.0v1.0h-1.0zM327.4 411.3h1.0v1.0h-1.0zM326.4 401.4h1.0v1.0h-1.0zM327.3 400.7h1.0v1.0h-1.0zM322.7 397.1h1.0v1.0h-1.0zM332.8 414.5h1.0v1.0h-1.0zM331.5 410.0h1.0v1.0h-1.0zM332.4 400.7h1.0v1.0h-1.0zM326.7 390.3h1.0v1.0h-1.0zM338.4 395.2h1.0v1.0h-1.0zM331.2 406.1h1.0v1.0h-1.0zM312.2 395.7h1.0v1.0h-1.0zM325.8 408.6h1.0v1.0h-1.0zM329.6 404.4h1.0v1.0h-1.0zM336.3 403.8h1.0v1.0h-1.0zM328.0 406.7h1.0v1.0h-1.0zM328.4 405.5h1.0v1.0h-1.0zM325.7 394.7h1.0v1.0h-1.0zM334.3 398.9h1.0v1.0h-1.0zM327.1 420.2h1.0v1.0h-1.0zM326.1 391.8h1.0v1.0h-1.0zM325.2 397.7h1.0v1.0h-1.0zM333.6 410.0h1.0v1.0h-1.0zM326.5 400.2h1.0v1.0h-1.0zM319.1 395.0h1.0v1.0h-1.0zM334.0 390.9h1.0v1.0h-1.0zM325.4 405.8h1.0v1.0h-1.0zM332.3 409.7h1.0v1.0h-1.0zM332.4 412.7h1.0v1.0h-1.0zM337.8 401.9h1.0v1.0h-1.0zM336.8 409.9h1.0v1.0h-1.0zM326.3 393.2h1.0v1.0h-1.0zM328.9 402.8h1.0v1.0h-1.0zM321.6 396.1h1.0v1.0h-1.0zM340.9 402.9h1.0v1.0h-1.0zM332.9 407.5h1.0v1.0h-1.0zM339.1 410.1h1.0v1.0h-1.0zM327.9 393.6h1.0v1.0h-1.0zM316.7 411.6h1.0v1.0h-1.0zM340.0 397.7h1.0v1.0h-1.0zM330.6 393.3h1.0v1.0h-1.0zM330.9 400.1h1.0v1.0h-1.0zM330.4 389.8h1.0v1.0h-1.0zM334.2 401.5h1.0v1.0h-1.0zM333.5 403.8h1.0v1.0h-1.0zM319.7 399.9h1.0v1.0h-1.0zM337.1 405.8h1.0v1.0h-1.0zM326.6 399.0h1.0v1.0h-1.0zM327.0 401.5h1.0v1.0h-1.0zM341.2 390.0h1.0v1.0h-1.0zM336.0 401.8h1.0v1.0h-1.0zM327.8 394.7h1.0v1.0h-1.0zM317.9 397.9h1.0v1.0h-1.0zM331.1 400.8h1.0v1.0h-1.0zM333.5 403.0h1.0v1.0h-1.0zM329.5 388.3h1.0v1.0h-1.0zM321.9 389.0h1.0v1.0h-1.0zM324.9 399.1h1.0v1.0h-1.0zM321.8 405.3h1.0v1.0h-1.0zM331.4 404.4h1.0v1.0h-1.0zM335.3 408.6h1.0v1.0h-1.0zM336.7 411.9h1.0v1.0h-1.0zM325.2 405.5h1.0v1.0h-1.0zM331.5 401.3h1.0v1.0h-1.0zM333.6 393.2h1.0v1.0h-1.0zM326.7 393.9h1.0v1.0h-1.0zM329.0 397.8h1.0v1.0h-1.0zM343.8 403.6h1.0v1.0h-1.0zM331.3 403.3h1.0v1.0h-1.0zM335.7 401.5h1.0v1.0h-1.0zM327.2 400.3h1.0v1.0h-1.0zM330.3 406.5h1.0v1.0h-1.0zM318.9 403.2h1.0v1.0h-1.0zM329.8 403.9h1.0v1.0h-1.0zM337.7 404.0h1.0v1.0h-1.0zM343.6 397.1h1.0v1.0h-1.0zM337.8 393.3h1.0v1.0h-1.0zM334.5 405.4h1.0v1.0h-1.0zM330.3 404.8h1.0v1.0h-1.0zM326.1 399.7h1.0v1.0h-1.0zM329.0 398.2h1.0v1.0h-1.0zM334.0 419.7h1.0v1.0h-1.0zM324.9 395.4h1.0v1.0h-1.0zM336.1 399.8h1.0v1.0h-1.0z"/>
<path clip-path="url(#cp1)" fill="#000" fill-opacity="0.5" d="M327.4 428.9h1.0v1.0h-1.0zM317.4 438.1h1.0v1.0h-1.0zM326.3 426.2h1.0v1.0h-1.0zM338.1 434.7h1.0v1.0h-1.0zM332.0 411.6h1.0v1.0h-1.0zM329.9 430.5h1.0v1.0h-1.0zM329.6 421.6h1.0v1.0h-1.0zM326.3 422.4h1.0v1.0h-1.0zM332.2 423.6h1.0v1.0h-1.0zM324.4 426.3h1.0v1.0h-1.0zM322.5 436.8h1.0v1.0h-1.0zM326.2 408.7h1.0v1.0h-1.0zM331.8 423.9h1.0v1.0h-1.0zM327.8 417.8h1.0v1.0h-1.0zM330.2 432.8h1.0v1.0h-1.0zM311.3 420.1h1.0v1.0h-1.0zM333.9 427.2h1.0v1.0h-1.0zM341.9 420.3h1.0v1.0h-1.0zM334.8 428.8h1.0v1.0h-1.0zM323.3 431.6h1.0v1.0h-1.0zM319.6 420.3h1.0v1.0h-1.0zM327.4 423.9h1.0v1.0h-1.0zM318.6 412.1h1.0v1.0h-1.0zM330.6 425.9h1.0v1.0h-1.0zM321.8 430.4h1.0v1.0h-1.0zM332.2 419.1h1.0v1.0h-1.0zM335.0 432.5h1.0v1.0h-1.0zM311.3 406.9h1.0v1.0h-1.0zM327.5 408.7h1.0v1.0h-1.0zM320.6 412.4h1.0v1.0h-1.0zM315.6 419.6h1.0v1.0h-1.0zM321.2 423.6h1.0v1.0h-1.0zM324.0 422.9h1.0v1.0h-1.0zM332.7 423.0h1.0v1.0h-1.0zM314.9 429.3h1.0v1.0h-1.0zM332.9 419.7h1.0v1.0h-1.0zM339.6 413.4h1.0v1.0h-1.0zM329.7 413.5h1.0v1.0h-1.0zM329.3 440.4h1.0v1.0h-1.0zM325.4 404.7h1.0v1.0h-1.0zM317.3 422.1h1.0v1.0h-1.0zM329.2 435.2h1.0v1.0h-1.0zM328.2 427.4h1.0v1.0h-1.0zM330.6 416.9h1.0v1.0h-1.0zM343.5 423.5h1.0v1.0h-1.0zM330.6 430.4h1.0v1.0h-1.0zM328.5 433.2h1.0v1.0h-1.0zM336.4 416.3h1.0v1.0h-1.0zM316.1 429.6h1.0v1.0h-1.0zM317.5 425.5h1.0v1.0h-1.0zM322.9 432.3h1.0v1.0h-1.0zM320.9 434.6h1.0v1.0h-1.0zM330.4 420.8h1.0v1.0h-1.0zM323.3 411.9h1.0v1.0h-1.0zM337.7 426.7h1.0v1.0h-1.0zM336.1 437.7h1.0v1.0h-1.0zM330.9 429.0h1.0v1.0h-1.0zM322.8 425.3h1.0v1.0h-1.0zM329.8 442.7h1.0v1.0h-1.0zM331.2 415.2h1.0v1.0h-1.0zM318.0 430.7h1.0v1.0h-1.0zM327.9 418.9h1.0v1.0h-1.0zM330.4 423.9h1.0v1.0h-1.0zM327.0 424.2h1.0v1.0h-1.0zM336.5 435.6h1.0v1.0h-1.0zM334.0 416.0h1.0v1.0h-1.0zM319.7 419.2h1.0v1.0h-1.0zM326.4 410.8h1.0v1.0h-1.0zM319.7 427.4h1.0v1.0h-1.0zM329.6 419.8h1.0v1.0h-1.0zM319.4 426.9h1.0v1.0h-1.0zM332.0 414.9h1.0v1.0h-1.0zM328.2 420.6h1.0v1.0h-1.0zM332.3 431.8h1.0v1.0h-1.0zM324.5 422.1h1.0v1.0h-1.0zM315.3 428.5h1.0v1.0h-1.0zM337.9 427.7h1.0v1.0h-1.0zM324.3 420.7h1.0v1.0h-1.0zM335.1 411.0h1.0v1.0h-1.0zM328.5 431.4h1.0v1.0h-1.0z"/>
<path clip-path="url(#cp1)" fill="#000" fill-opacity="0.55" d="M337.2 450.7h1.0v1.0h-1.0zM329.5 454.0h1.0v1.0h-1.0zM325.7 452.4h1.0v1.0h-1.0zM331.8 450.2h1.0v1.0h-1.0zM320.6 453.6h1.0v1.0h-1.0zM330.9 452.3h1.0v1.0h-1.0zM323.3 451.3h1.0v1.0h-1.0zM327.0 451.9h1.0v1.0h-1.0zM313.6 451.7h1.0v1.0h-1.0zM315.3 450.0h1.0v1.0h-1.0zM335.8 449.7h1.0v1.0h-1.0zM321.7 451.1h1.0v1.0h-1.0zM315.6 448.2h1.0v1.0h-1.0zM316.2 447.3h1.0v1.0h-1.0zM317.4 454.8h1.0v1.0h-1.0zM314.4 450.3h1.0v1.0h-1.0zM323.5 450.9h1.0v1.0h-1.0zM320.5 450.6h1.0v1.0h-1.0zM325.7 451.1h1.0v1.0h-1.0zM325.8 451.1h1.0v1.0h-1.0zM314.1 451.2h1.0v1.0h-1.0zM320.3 448.7h1.0v1.0h-1.0zM326.7 453.7h1.0v1.0h-1.0zM323.0 449.0h1.0v1.0h-1.0zM335.8 454.0h1.0v1.0h-1.0zM323.7 445.4h1.0v1.0h-1.0zM318.2 447.9h1.0v1.0h-1.0zM328.4 453.9h1.0v1.0h-1.0zM330.3 450.6h1.0v1.0h-1.0zM325.2 449.1h1.0v1.0h-1.0zM321.1 452.1h1.0v1.0h-1.0zM331.2 448.0h1.0v1.0h-1.0zM316.4 451.2h1.0v1.0h-1.0zM333.7 444.6h1.0v1.0h-1.0zM323.7 449.7h1.0v1.0h-1.0zM331.1 449.1h1.0v1.0h-1.0zM322.4 452.6h1.0v1.0h-1.0zM328.4 453.5h1.0v1.0h-1.0zM323.0 448.5h1.0v1.0h-1.0zM321.1 455.7h1.0v1.0h-1.0zM329.4 449.3h1.0v1.0h-1.0zM315.7 445.0h1.0v1.0h-1.0zM324.9 444.1h1.0v1.0h-1.0zM333.2 455.5h1.0v1.0h-1.0zM324.1 450.7h1.0v1.0h-1.0zM317.8 449.1h1.0v1.0h-1.0zM316.7 448.8h1.0v1.0h-1.0zM322.3 447.8h1.0v1.0h-1.0zM326.4 454.9h1.0v1.0h-1.0zM333.0 450.8h1.0v1.0h-1.0zM317.0 456.2h1.0v1.0h-1.0zM325.1 450.4h1.0v1.0h-1.0zM336.5 444.2h1.0v1.0h-1.0zM318.7 453.4h1.0v1.0h-1.0zM323.8 449.9h1.0v1.0h-1.0zM333.3 450.3h1.0v1.0h-1.0zM335.3 455.5h1.0v1.0h-1.0zM319.0 450.2h1.0v1.0h-1.0zM321.5 454.4h1.0v1.0h-1.0zM324.5 451.0h1.0v1.0h-1.0zM327.6 448.8h1.0v1.0h-1.0zM326.3 452.5h1.0v1.0h-1.0zM327.7 449.3h1.0v1.0h-1.0zM327.6 454.6h1.0v1.0h-1.0zM316.9 453.8h1.0v1.0h-1.0zM317.2 451.2h1.0v1.0h-1.0zM328.1 452.8h1.0v1.0h-1.0zM326.3 452.6h1.0v1.0h-1.0zM315.9 450.2h1.0v1.0h-1.0zM330.1 453.6h1.0v1.0h-1.0zM327.8 450.3h1.0v1.0h-1.0zM314.2 452.8h1.0v1.0h-1.0zM316.1 448.2h1.0v1.0h-1.0zM324.7 451.3h1.0v1.0h-1.0zM318.8 452.2h1.0v1.0h-1.0zM313.5 448.7h1.0v1.0h-1.0zM328.5 449.8h1.0v1.0h-1.0zM321.3 449.5h1.0v1.0h-1.0zM315.9 453.1h1.0v1.0h-1.0zM330.5 448.9h1.0v1.0h-1.0zM330.9 452.3h1.0v1.0h-1.0zM329.9 455.4h1.0v1.0h-1.0zM313.0 452.0h1.0v1.0h-1.0zM316.4 446.3h1.0v1.0h-1.0zM317.0 451.4h1.0v1.0h-1.0zM318.4 454.0h1.0v1.0h-1.0zM329.6 450.2h1.0v1.0h-1.0zM326.8 454.2h1.0v1.0h-1.0zM315.4 452.8h1.0v1.0h-1.0zM328.2 452.2h1.0v1.0h-1.0zM329.2 450.3h1.0v1.0h-1.0zM320.3 449.5h1.0v1.0h-1.0zM313.7 450.3h1.0v1.0h-1.0zM316.8 451.2h1.0v1.0h-1.0zM312.8 452.5h1.0v1.0h-1.0zM331.3 452.2h1.0v1.0h-1.0zM325.3 450.2h1.0v1.0h-1.0zM327.4 451.2h1.0v1.0h-1.0zM313.0 452.2h1.0v1.0h-1.0zM313.4 446.3h1.0v1.0h-1.0zM335.8 448.8h1.0v1.0h-1.0zM321.0 448.7h1.0v1.0h-1.0zM319.9 450.4h1.0v1.0h-1.0zM315.2 450.2h1.0v1.0h-1.0zM323.6 450.3h1.0v1.0h-1.0zM325.3 448.5h1.0v1.0h-1.0zM327.1 453.0h1.0v1.0h-1.0zM330.6 451.8h1.0v1.0h-1.0zM333.5 446.3h1.0v1.0h-1.0zM313.4 451.1h1.0v1.0h-1.0zM334.8 447.8h1.0v1.0h-1.0zM314.2 456.0h1.0v1.0h-1.0zM328.4 449.7h1.0v1.0h-1.0zM313.2 449.9h1.0v1.0h-1.0zM315.8 451.3h1.0v1.0h-1.0zM313.9 450.5h1.0v1.0h-1.0zM318.1 450.9h1.0v1.0h-1.0zM327.5 455.5h1.0v1.0h-1.0zM326.0 451.7h1.0v1.0h-1.0zM324.6 453.5h1.0v1.0h-1.0zM314.9 454.3h1.0v1.0h-1.0zM327.1 448.2h1.0v1.0h-1.0zM322.8 455.9h1.0v1.0h-1.0zM314.2 453.0h1.0v1.0h-1.0zM323.9 453.8h1.0v1.0h-1.0zM332.6 448.5h1.0v1.0h-1.0zM327.3 453.4h1.0v1.0h-1.0zM313.9 452.3h1.0v1.0h-1.0zM318.9 449.5h1.0v1.0h-1.0zM321.1 457.7h1.0v1.0h-1.0zM319.0 452.7h1.0v1.0h-1.0zM324.5 450.4h1.0v1.0h-1.0zM322.0 451.6h1.0v1.0h-1.0zM331.5 453.7h1.0v1.0h-1.0zM337.5 454.3h1.0v1.0h-1.0zM317.3 452.7h1.0v1.0h-1.0zM313.1 454.6h1.0v1.0h-1.0zM321.4 455.3h1.0v1.0h-1.0zM314.6 447.5h1.0v1.0h-1.0zM322.7 449.6h1.0v1.0h-1.0zM320.1 448.3h1.0v1.0h-1.0zM335.1 451.3h1.0v1.0h-1.0zM313.3 455.2h1.0v1.0h-1.0zM314.7 453.0h1.0v1.0h-1.0zM330.6 448.0h1.0v1.0h-1.0zM319.9 450.2h1.0v1.0h-1.0zM324.2 454.0h1.0v1.0h-1.0zM328.2 449.5h1.0v1.0h-1.0zM322.1 450.8h1.0v1.0h-1.0zM320.5 451.9h1.0v1.0h-1.0zM314.8 445.8h1.0v1.0h-1.0zM319.8 453.3h1.0v1.0h-1.0zM325.0 452.1h1.0v1.0h-1.0zM314.7 452.7h1.0v1.0h-1.0zM325.5 448.2h1.0v1.0h-1.0zM331.5 448.8h1.0v1.0h-1.0zM331.4 449.3h1.0v1.0h-1.0zM321.7 451.8h1.0v1.0h-1.0zM315.5 451.3h1.0v1.0h-1.0zM316.9 451.4h1.0v1.0h-1.0zM319.2 456.3h1.0v1.0h-1.0zM334.6 454.8h1.0v1.0h-1.0zM318.0 449.0h1.0v1.0h-1.0zM316.7 449.2h1.0v1.0h-1.0zM318.2 456.0h1.0v1.0h-1.0zM317.8 450.1h1.0v1.0h-1.0zM317.7 455.1h1.0v1.0h-1.0zM329.4 455.7h1.0v1.0h-1.0zM331.4 449.5h1.0v1.0h-1.0zM323.2 450.3h1.0v1.0h-1.0z"/>
<rect x="285.6" y="378.8" width="93.39999999999998" height="93.09999999999997" fill="none" stroke="#222" stroke-width="1"/>
<line x1="316.50" y1="378.80" x2="316.50" y2="471.90" stroke="#222" stroke-width="1" />
<line x1="285.60" y1="444.00" x2="379.00" y2="444.00" stroke="#222" stroke-width="1" />
<text x="288.00" y="387.00" font-size="5.5" text-anchor="start" font-weight="normal" fill="#222" stroke="#222" stroke-width="0.18" >Q23</text>
<text x="288.00" y="393.80" font-size="5.5" text-anchor="start" font-weight="normal" fill="#222" stroke="#222" stroke-width="0.18" >25.6</text>
<text x="371.70" y="387.00" font-size="5.5" text-anchor="end" font-weight="normal" fill="#222" stroke="#222" stroke-width="0.18" >Q22</text>
<text x="371.70" y="393.80" font-size="5.5" text-anchor="end" font-weight="normal" fill="#222" stroke="#222" stroke-width="0.18" >10.2</text>
<text x="288.00" y="462.00" font-size="5.5" text-anchor="start" font-weight="normal" fill="#222" stroke="#222" stroke-width="0.18" >Q24</text>
<text x="288.00" y="468.90" font-size="5.5" text-anchor="start" font-weight="normal" fill="#222" stroke="#222" stroke-width="0.18" >57.0</text>
<text x="371.70" y="462.00" font-size="5.5" text-anchor="end" font-weight="normal" fill="#222" stroke="#222" stroke-width="0.18" >Q21</text>
<text x="371.70" y="468.90" font-size="5.5" text-anchor="end" font-weight="normal" fill="#222" stroke="#222" stroke-width="0.18" >7.16</text>
<line x1="282.60" y1="388.20" x2="285.60" y2="388.20" stroke="#222" stroke-width="0.9" />
<text x="275.70" y="390.40" font-size="6" text-anchor="end" fill="#222">10</text>
<text x="275.80" y="387.60" font-size="3.9" text-anchor="start" fill="#222">5</text>
<line x1="282.60" y1="410.80" x2="285.60" y2="410.80" stroke="#222" stroke-width="0.9" />
<text x="275.70" y="413.00" font-size="6" text-anchor="end" fill="#222">10</text>
<text x="275.80" y="410.20" font-size="3.9" text-anchor="start" fill="#222">4</text>
<line x1="282.60" y1="435.40" x2="285.60" y2="435.40" stroke="#222" stroke-width="0.9" />
<text x="275.70" y="437.60" font-size="6" text-anchor="end" fill="#222">10</text>
<text x="275.80" y="434.80" font-size="3.9" text-anchor="start" fill="#222">3</text>
<line x1="282.60" y1="450.60" x2="285.60" y2="450.60" stroke="#222" stroke-width="0.9" />
<text x="280.10" y="452.80" font-size="6" text-anchor="end" fill="#222">0</text>
<line x1="282.60" y1="467.20" x2="285.60" y2="467.20" stroke="#222" stroke-width="0.9" />
<text x="275.70" y="469.40" font-size="6" text-anchor="end" fill="#222">-10</text>
<text x="275.80" y="466.60" font-size="3.9" text-anchor="start" fill="#222">3</text>
<line x1="291.10" y1="471.90" x2="291.10" y2="474.10" stroke="#222" stroke-width="0.9" />
<text x="286.70" y="482.9" font-size="6" fill="#222">-10<tspan font-size="3.9" dy="-3">3</tspan></text>
<line x1="306.40" y1="471.90" x2="306.40" y2="474.10" stroke="#222" stroke-width="0.9" />
<text x="308.20" y="482.9" font-size="6" text-anchor="middle" fill="#222">0</text>
<line x1="321.90" y1="471.90" x2="321.90" y2="474.10" stroke="#222" stroke-width="0.9" />
<text x="320.00" y="482.9" font-size="6" fill="#222">10<tspan font-size="3.9" dy="-3">3</tspan></text>
<line x1="348.00" y1="471.90" x2="348.00" y2="474.10" stroke="#222" stroke-width="0.9" />
<text x="346.10" y="482.9" font-size="6" fill="#222">10<tspan font-size="3.9" dy="-3">4</tspan></text>
<line x1="371.60" y1="471.90" x2="371.60" y2="474.10" stroke="#222" stroke-width="0.9" />
<text x="369.70" y="482.9" font-size="6" fill="#222">10<tspan font-size="3.9" dy="-3">5</tspan></text>
<rect x="305.10" y="471.60" width="3.6" height="1.6" fill="#111"/>
<rect x="284.00" y="449.2" width="1.6" height="3.2" fill="#111"/>
<clipPath id="cp2"><rect x="406.0" y="378.8" width="93.69999999999999" height="93.09999999999997"/></clipPath>
<path clip-path="url(#cp2)" fill="#000" fill-opacity="0.85" d="M429.3 448.9h1.0v1.0h-1.0zM426.2 453.9h1.0v1.0h-1.0zM425.8 451.9h1.0v1.0h-1.0zM427.7 452.1h1.0v1.0h-1.0zM431.9 451.5h1.0v1.0h-1.0zM427.6 454.5h1.0v1.0h-1.0zM428.4 452.5h1.0v1.0h-1.0zM427.5 449.4h1.0v1.0h-1.0zM424.6 452.3h1.0v1.0h-1.0zM434.0 452.9h1.0v1.0h-1.0zM421.3 449.3h1.0v1.0h-1.0zM426.9 450.0h1.0v1.0h-1.0zM430.9 450.1h1.0v1.0h-1.0zM424.5 449.6h1.0v1.0h-1.0zM431.1 452.0h1.0v1.0h-1.0zM433.2 453.6h1.0v1.0h-1.0zM426.2 455.8h1.0v1.0h-1.0zM429.8 454.1h1.0v1.0h-1.0zM425.4 453.7h1.0v1.0h-1.0zM430.7 454.0h1.0v1.0h-1.0zM429.4 454.4h1.0v1.0h-1.0zM429.8 450.2h1.0v1.0h-1.0zM433.6 452.8h1.0v1.0h-1.0zM430.6 451.9h1.0v1.0h-1.0zM433.5 450.8h1.0v1.0h-1.0zM431.2 450.0h1.0v1.0h-1.0zM425.1 449.8h1.0v1.0h-1.0zM429.9 450.4h1.0v1.0h-1.0zM430.7 448.0h1.0v1.0h-1.0zM424.3 452.4h1.0v1.0h-1.0zM433.5 451.0h1.0v1.0h-1.0zM429.3 451.4h1.0v1.0h-1.0zM430.3 451.9h1.0v1.0h-1.0zM426.1 452.9h1.0v1.0h-1.0zM429.3 449.6h1.0v1.0h-1.0zM430.1 450.8h1.0v1.0h-1.0zM428.0 447.1h1.0v1.0h-1.0zM429.3 445.6h1.0v1.0h-1.0zM422.1 446.2h1.0v1.0h-1.0zM433.6 454.9h1.0v1.0h-1.0zM425.4 446.5h1.0v1.0h-1.0zM421.9 452.3h1.0v1.0h-1.0zM425.9 454.8h1.0v1.0h-1.0zM426.3 450.0h1.0v1.0h-1.0zM430.9 455.2h1.0v1.0h-1.0zM426.0 455.7h1.0v1.0h-1.0zM430.0 453.5h1.0v1.0h-1.0zM425.9 457.0h1.0v1.0h-1.0zM436.3 452.7h1.0v1.0h-1.0zM430.9 449.3h1.0v1.0h-1.0zM435.5 452.4h1.0v1.0h-1.0zM425.7 450.0h1.0v1.0h-1.0zM431.3 447.9h1.0v1.0h-1.0zM425.9 447.9h1.0v1.0h-1.0zM431.0 456.9h1.0v1.0h-1.0zM431.3 449.8h1.0v1.0h-1.0zM423.8 451.1h1.0v1.0h-1.0zM425.3 449.5h1.0v1.0h-1.0zM425.2 451.5h1.0v1.0h-1.0zM424.1 450.5h1.0v1.0h-1.0zM426.6 450.1h1.0v1.0h-1.0zM425.9 448.1h1.0v1.0h-1.0zM424.3 447.6h1.0v1.0h-1.0zM429.4 449.3h1.0v1.0h-1.0zM430.9 451.9h1.0v1.0h-1.0zM424.7 456.3h1.0v1.0h-1.0zM427.2 453.8h1.0v1.0h-1.0zM429.1 455.7h1.0v1.0h-1.0zM428.3 452.3h1.0v1.0h-1.0zM426.7 450.9h1.0v1.0h-1.0zM431.7 447.8h1.0v1.0h-1.0zM431.8 451.1h1.0v1.0h-1.0zM431.3 445.8h1.0v1.0h-1.0zM428.4 450.4h1.0v1.0h-1.0zM435.6 455.2h1.0v1.0h-1.0zM434.8 452.0h1.0v1.0h-1.0zM427.7 454.0h1.0v1.0h-1.0zM428.6 450.2h1.0v1.0h-1.0zM433.0 447.7h1.0v1.0h-1.0zM426.4 450.0h1.0v1.0h-1.0zM430.4 450.2h1.0v1.0h-1.0zM429.2 454.2h1.0v1.0h-1.0zM426.7 456.1h1.0v1.0h-1.0zM428.3 449.3h1.0v1.0h-1.0zM423.8 450.3h1.0v1.0h-1.0zM427.2 450.8h1.0v1.0h-1.0zM422.4 450.3h1.0v1.0h-1.0zM436.6 448.0h1.0v1.0h-1.0zM434.0 451.4h1.0v1.0h-1.0zM433.1 452.1h1.0v1.0h-1.0zM430.0 452.1h1.0v1.0h-1.0zM432.3 448.1h1.0v1.0h-1.0zM433.2 450.9h1.0v1.0h-1.0zM432.4 446.8h1.0v1.0h-1.0zM432.1 453.4h1.0v1.0h-1.0zM426.0 448.6h1.0v1.0h-1.0zM430.4 450.5h1.0v1.0h-1.0zM427.3 450.0h1.0v1.0h-1.0zM425.1 449.7h1.0v1.0h-1.0zM425.3 448.5h1.0v1.0h-1.0zM430.4 446.8h1.0v1.0h-1.0zM432.5 455.5h1.0v1.0h-1.0zM424.5 451.8h1.0v1.0h-1.0zM434.8 451.8h1.0v1.0h-1.0zM433.9 456.4h1.0v1.0h-1.0zM427.8 450.9h1.0v1.0h-1.0zM427.5 452.6h1.0v1.0h-1.0zM428.8 451.2h1.0v1.0h-1.0zM432.3 454.1h1.0v1.0h-1.0zM427.7 452.4h1.0v1.0h-1.0zM425.4 452.0h1.0v1.0h-1.0zM430.1 450.5h1.0v1.0h-1.0zM422.2 451.9h1.0v1.0h-1.0zM429.5 454.1h1.0v1.0h-1.0zM432.8 446.0h1.0v1.0h-1.0zM430.0 450.9h1.0v1.0h-1.0zM431.6 450.1h1.0v1.0h-1.0zM430.6 450.4h1.0v1.0h-1.0zM431.4 446.2h1.0v1.0h-1.0zM429.5 453.0h1.0v1.0h-1.0zM426.3 449.1h1.0v1.0h-1.0zM428.3 450.6h1.0v1.0h-1.0zM428.8 449.9h1.0v1.0h-1.0zM433.2 447.0h1.0v1.0h-1.0zM434.4 450.1h1.0v1.0h-1.0zM430.4 446.6h1.0v1.0h-1.0zM426.5 448.8h1.0v1.0h-1.0zM426.6 450.4h1.0v1.0h-1.0zM428.4 451.2h1.0v1.0h-1.0zM433.6 451.3h1.0v1.0h-1.0zM430.1 450.8h1.0v1.0h-1.0zM428.8 456.5h1.0v1.0h-1.0zM426.5 452.3h1.0v1.0h-1.0zM431.9 448.1h1.0v1.0h-1.0zM430.0 449.7h1.0v1.0h-1.0zM428.8 449.5h1.0v1.0h-1.0zM429.3 450.7h1.0v1.0h-1.0zM434.6 449.7h1.0v1.0h-1.0zM428.5 449.0h1.0v1.0h-1.0zM434.6 455.3h1.0v1.0h-1.0zM433.1 451.3h1.0v1.0h-1.0zM429.2 450.3h1.0v1.0h-1.0zM431.9 450.6h1.0v1.0h-1.0zM428.6 450.6h1.0v1.0h-1.0zM426.3 454.7h1.0v1.0h-1.0zM428.1 452.4h1.0v1.0h-1.0zM426.0 454.0h1.0v1.0h-1.0zM430.7 443.4h1.0v1.0h-1.0zM429.0 452.0h1.0v1.0h-1.0zM430.9 453.8h1.0v1.0h-1.0zM431.7 456.1h1.0v1.0h-1.0zM418.7 451.3h1.0v1.0h-1.0zM430.0 446.9h1.0v1.0h-1.0zM423.1 452.7h1.0v1.0h-1.0zM429.5 449.7h1.0v1.0h-1.0zM426.1 446.7h1.0v1.0h-1.0zM429.3 449.6h1.0v1.0h-1.0zM433.5 453.8h1.0v1.0h-1.0zM423.4 454.2h1.0v1.0h-1.0zM429.6 453.0h1.0v1.0h-1.0zM428.7 448.6h1.0v1.0h-1.0zM422.8 457.5h1.0v1.0h-1.0zM431.1 448.3h1.0v1.0h-1.0zM429.1 451.0h1.0v1.0h-1.0zM427.3 447.6h1.0v1.0h-1.0zM426.6 454.5h1.0v1.0h-1.0zM439.6 452.3h1.0v1.0h-1.0zM427.7 453.4h1.0v1.0h-1.0zM423.1 451.4h1.0v1.0h-1.0zM425.9 451.0h1.0v1.0h-1.0zM427.8 451.6h1.0v1.0h-1.0zM427.7 446.5h1.0v1.0h-1.0zM428.7 453.7h1.0v1.0h-1.0zM425.5 453.5h1.0v1.0h-1.0zM430.8 450.2h1.0v1.0h-1.0zM427.4 451.2h1.0v1.0h-1.0zM424.5 451.9h1.0v1.0h-1.0zM426.3 455.1h1.0v1.0h-1.0zM427.7 452.3h1.0v1.0h-1.0zM431.8 451.3h1.0v1.0h-1.0zM430.6 449.9h1.0v1.0h-1.0zM427.9 447.4h1.0v1.0h-1.0zM429.1 449.7h1.0v1.0h-1.0zM429.7 451.4h1.0v1.0h-1.0zM435.7 450.6h1.0v1.0h-1.0zM427.0 451.4h1.0v1.0h-1.0zM430.5 453.1h1.0v1.0h-1.0zM431.4 452.3h1.0v1.0h-1.0zM425.9 451.9h1.0v1.0h-1.0zM429.6 452.9h1.0v1.0h-1.0zM429.5 451.7h1.0v1.0h-1.0zM427.4 451.1h1.0v1.0h-1.0zM430.9 452.4h1.0v1.0h-1.0zM432.4 446.9h1.0v1.0h-1.0zM432.7 454.3h1.0v1.0h-1.0zM428.4 448.0h1.0v1.0h-1.0zM429.6 453.3h1.0v1.0h-1.0zM436.8 451.2h1.0v1.0h-1.0zM425.4 454.0h1.0v1.0h-1.0zM429.7 451.3h1.0v1.0h-1.0zM431.9 448.9h1.0v1.0h-1.0zM429.5 453.9h1.0v1.0h-1.0zM431.2 451.7h1.0v1.0h-1.0zM429.6 451.5h1.0v1.0h-1.0zM431.5 451.4h1.0v1.0h-1.0zM433.2 453.7h1.0v1.0h-1.0zM428.3 453.3h1.0v1.0h-1.0zM429.7 451.8h1.0v1.0h-1.0zM428.8 447.3h1.0v1.0h-1.0zM427.7 450.2h1.0v1.0h-1.0zM428.9 451.5h1.0v1.0h-1.0zM425.3 455.7h1.0v1.0h-1.0zM431.5 452.2h1.0v1.0h-1.0zM434.6 451.0h1.0v1.0h-1.0zM434.6 454.2h1.0v1.0h-1.0zM433.2 451.0h1.0v1.0h-1.0zM425.8 451.2h1.0v1.0h-1.0zM434.0 451.6h1.0v1.0h-1.0zM426.6 447.5h1.0v1.0h-1.0zM428.8 453.6h1.0v1.0h-1.0zM435.1 452.3h1.0v1.0h-1.0zM425.5 450.5h1.0v1.0h-1.0zM431.8 448.4h1.0v1.0h-1.0zM429.9 451.8h1.0v1.0h-1.0zM428.5 454.7h1.0v1.0h-1.0zM426.1 449.6h1.0v1.0h-1.0zM430.4 448.6h1.0v1.0h-1.0zM427.5 452.3h1.0v1.0h-1.0zM432.4 447.2h1.0v1.0h-1.0zM433.0 445.7h1.0v1.0h-1.0zM424.4 450.1h1.0v1.0h-1.0zM427.3 449.5h1.0v1.0h-1.0zM427.9 450.5h1.0v1.0h-1.0zM425.1 449.9h1.0v1.0h-1.0zM425.3 452.1h1.0v1.0h-1.0zM429.3 450.7h1.0v1.0h-1.0zM428.3 449.7h1.0v1.0h-1.0zM423.5 450.1h1.0v1.0h-1.0zM427.2 452.8h1.0v1.0h-1.0zM430.7 453.6h1.0v1.0h-1.0zM425.0 453.5h1.0v1.0h-1.0zM426.0 453.0h1.0v1.0h-1.0zM434.2 443.0h1.0v1.0h-1.0zM433.3 448.7h1.0v1.0h-1.0zM423.7 450.5h1.0v1.0h-1.0zM424.5 451.8h1.0v1.0h-1.0zM430.2 447.2h1.0v1.0h-1.0zM425.1 454.8h1.0v1.0h-1.0zM428.2 452.0h1.0v1.0h-1.0zM427.5 449.7h1.0v1.0h-1.0zM430.8 451.7h1.0v1.0h-1.0zM420.7 450.4h1.0v1.0h-1.0zM421.7 449.3h1.0v1.0h-1.0zM425.0 452.5h1.0v1.0h-1.0zM432.3 450.1h1.0v1.0h-1.0zM428.5 447.7h1.0v1.0h-1.0zM423.4 449.7h1.0v1.0h-1.0zM430.6 451.0h1.0v1.0h-1.0zM431.3 448.6h1.0v1.0h-1.0zM428.2 454.4h1.0v1.0h-1.0zM427.9 448.5h1.0v1.0h-1.0zM430.4 455.6h1.0v1.0h-1.0zM433.0 453.5h1.0v1.0h-1.0zM429.5 448.9h1.0v1.0h-1.0zM430.8 451.6h1.0v1.0h-1.0zM428.8 454.2h1.0v1.0h-1.0zM427.7 450.8h1.0v1.0h-1.0zM426.0 448.3h1.0v1.0h-1.0zM429.8 451.5h1.0v1.0h-1.0zM428.0 456.2h1.0v1.0h-1.0zM428.2 447.5h1.0v1.0h-1.0zM432.1 452.6h1.0v1.0h-1.0zM430.6 451.3h1.0v1.0h-1.0zM431.9 451.0h1.0v1.0h-1.0zM423.8 450.3h1.0v1.0h-1.0zM430.8 450.5h1.0v1.0h-1.0zM427.1 453.9h1.0v1.0h-1.0zM426.3 452.8h1.0v1.0h-1.0zM426.2 448.8h1.0v1.0h-1.0zM433.0 455.2h1.0v1.0h-1.0zM431.7 448.0h1.0v1.0h-1.0zM426.6 452.9h1.0v1.0h-1.0zM425.2 451.7h1.0v1.0h-1.0zM429.0 454.3h1.0v1.0h-1.0zM427.5 452.2h1.0v1.0h-1.0zM434.5 453.9h1.0v1.0h-1.0zM424.2 451.2h1.0v1.0h-1.0zM423.0 453.7h1.0v1.0h-1.0zM428.2 452.1h1.0v1.0h-1.0zM429.0 456.6h1.0v1.0h-1.0zM429.4 449.5h1.0v1.0h-1.0zM431.5 454.3h1.0v1.0h-1.0zM435.8 452.4h1.0v1.0h-1.0zM427.9 451.7h1.0v1.0h-1.0zM427.2 449.9h1.0v1.0h-1.0zM423.2 452.4h1.0v1.0h-1.0zM429.8 447.6h1.0v1.0h-1.0zM431.8 447.9h1.0v1.0h-1.0zM428.1 453.1h1.0v1.0h-1.0zM432.9 447.4h1.0v1.0h-1.0zM429.1 454.9h1.0v1.0h-1.0zM434.0 450.6h1.0v1.0h-1.0zM430.1 451.9h1.0v1.0h-1.0zM425.5 451.5h1.0v1.0h-1.0zM426.9 452.3h1.0v1.0h-1.0zM423.9 450.6h1.0v1.0h-1.0zM423.3 450.4h1.0v1.0h-1.0zM429.9 451.0h1.0v1.0h-1.0zM431.9 453.9h1.0v1.0h-1.0zM435.4 454.1h1.0v1.0h-1.0zM428.8 454.5h1.0v1.0h-1.0zM428.2 452.2h1.0v1.0h-1.0zM425.3 450.8h1.0v1.0h-1.0zM432.3 447.1h1.0v1.0h-1.0zM430.3 452.9h1.0v1.0h-1.0zM427.0 453.4h1.0v1.0h-1.0zM431.3 450.3h1.0v1.0h-1.0zM430.9 453.3h1.0v1.0h-1.0zM422.8 454.5h1.0v1.0h-1.0zM431.5 451.5h1.0v1.0h-1.0zM429.4 453.9h1.0v1.0h-1.0zM427.7 452.1h1.0v1.0h-1.0zM427.6 447.0h1.0v1.0h-1.0zM434.8 450.1h1.0v1.0h-1.0zM434.1 450.3h1.0v1.0h-1.0zM435.0 452.6h1.0v1.0h-1.0zM425.2 449.1h1.0v1.0h-1.0zM426.8 450.2h1.0v1.0h-1.0zM432.0 448.9h1.0v1.0h-1.0zM425.0 451.2h1.0v1.0h-1.0zM426.6 451.5h1.0v1.0h-1.0zM423.0 453.7h1.0v1.0h-1.0zM435.1 453.3h1.0v1.0h-1.0zM432.5 451.7h1.0v1.0h-1.0zM430.5 451.9h1.0v1.0h-1.0zM429.7 451.6h1.0v1.0h-1.0zM427.6 451.6h1.0v1.0h-1.0zM427.7 455.2h1.0v1.0h-1.0zM431.0 445.1h1.0v1.0h-1.0zM426.7 450.9h1.0v1.0h-1.0zM433.1 452.1h1.0v1.0h-1.0zM427.4 454.1h1.0v1.0h-1.0zM426.1 448.6h1.0v1.0h-1.0zM433.3 452.2h1.0v1.0h-1.0zM428.5 453.4h1.0v1.0h-1.0zM430.8 450.2h1.0v1.0h-1.0zM427.6 446.5h1.0v1.0h-1.0zM421.6 450.4h1.0v1.0h-1.0zM430.8 448.3h1.0v1.0h-1.0zM424.6 452.9h1.0v1.0h-1.0zM432.6 449.2h1.0v1.0h-1.0zM423.9 455.7h1.0v1.0h-1.0zM422.8 451.6h1.0v1.0h-1.0zM430.0 449.3h1.0v1.0h-1.0zM430.4 450.0h1.0v1.0h-1.0zM429.4 448.6h1.0v1.0h-1.0zM425.0 452.3h1.0v1.0h-1.0zM431.9 455.0h1.0v1.0h-1.0zM424.2 450.8h1.0v1.0h-1.0zM427.5 453.6h1.0v1.0h-1.0zM426.4 448.9h1.0v1.0h-1.0zM427.8 452.1h1.0v1.0h-1.0zM431.8 457.1h1.0v1.0h-1.0zM426.9 447.8h1.0v1.0h-1.0zM430.9 454.4h1.0v1.0h-1.0zM431.3 454.2h1.0v1.0h-1.0zM423.4 446.6h1.0v1.0h-1.0zM425.2 447.7h1.0v1.0h-1.0zM427.7 448.9h1.0v1.0h-1.0zM427.0 453.7h1.0v1.0h-1.0zM430.0 450.2h1.0v1.0h-1.0zM422.6 450.9h1.0v1.0h-1.0zM431.4 453.1h1.0v1.0h-1.0zM431.5 451.6h1.0v1.0h-1.0zM428.4 451.9h1.0v1.0h-1.0zM424.4 450.5h1.0v1.0h-1.0zM429.0 454.1h1.0v1.0h-1.0zM427.2 449.3h1.0v1.0h-1.0zM430.9 455.5h1.0v1.0h-1.0zM428.7 450.4h1.0v1.0h-1.0zM431.4 449.3h1.0v1.0h-1.0zM427.6 452.9h1.0v1.0h-1.0zM433.8 452.4h1.0v1.0h-1.0zM421.4 446.3h1.0v1.0h-1.0zM425.6 451.8h1.0v1.0h-1.0zM430.6 447.9h1.0v1.0h-1.0zM424.0 449.2h1.0v1.0h-1.0zM431.4 453.3h1.0v1.0h-1.0zM425.0 449.1h1.0v1.0h-1.0zM429.3 452.2h1.0v1.0h-1.0zM426.0 450.3h1.0v1.0h-1.0zM427.5 456.1h1.0v1.0h-1.0zM429.6 451.0h1.0v1.0h-1.0zM428.7 448.3h1.0v1.0h-1.0zM427.7 448.5h1.0v1.0h-1.0zM436.1 449.0h1.0v1.0h-1.0zM429.0 451.6h1.0v1.0h-1.0zM425.8 451.3h1.0v1.0h-1.0zM432.1 453.7h1.0v1.0h-1.0zM431.7 451.7h1.0v1.0h-1.0zM433.0 451.6h1.0v1.0h-1.0zM434.9 452.1h1.0v1.0h-1.0zM425.9 450.9h1.0v1.0h-1.0zM432.5 452.0h1.0v1.0h-1.0zM432.8 453.2h1.0v1.0h-1.0zM429.0 453.2h1.0v1.0h-1.0zM429.8 449.9h1.0v1.0h-1.0zM419.1 446.8h1.0v1.0h-1.0zM427.1 449.2h1.0v1.0h-1.0zM434.9 452.0h1.0v1.0h-1.0zM423.1 445.0h1.0v1.0h-1.0zM427.2 450.1h1.0v1.0h-1.0zM430.0 452.4h1.0v1.0h-1.0zM430.9 449.8h1.0v1.0h-1.0zM434.4 448.5h1.0v1.0h-1.0zM423.2 455.6h1.0v1.0h-1.0zM429.1 454.7h1.0v1.0h-1.0zM431.8 450.6h1.0v1.0h-1.0zM424.7 454.6h1.0v1.0h-1.0zM428.9 454.5h1.0v1.0h-1.0zM435.2 448.4h1.0v1.0h-1.0zM433.3 458.0h1.0v1.0h-1.0zM430.8 448.9h1.0v1.0h-1.0zM420.4 450.6h1.0v1.0h-1.0zM428.6 448.5h1.0v1.0h-1.0zM430.3 451.4h1.0v1.0h-1.0zM428.0 448.0h1.0v1.0h-1.0zM428.8 451.2h1.0v1.0h-1.0zM439.2 453.9h1.0v1.0h-1.0zM428.3 451.8h1.0v1.0h-1.0zM425.8 450.6h1.0v1.0h-1.0zM429.8 455.1h1.0v1.0h-1.0zM428.0 449.0h1.0v1.0h-1.0zM428.0 453.7h1.0v1.0h-1.0zM428.7 450.5h1.0v1.0h-1.0zM431.6 451.8h1.0v1.0h-1.0zM429.8 451.3h1.0v1.0h-1.0zM425.0 451.6h1.0v1.0h-1.0zM428.6 451.1h1.0v1.0h-1.0zM430.6 449.3h1.0v1.0h-1.0zM427.5 449.8h1.0v1.0h-1.0zM432.8 452.3h1.0v1.0h-1.0zM431.6 451.0h1.0v1.0h-1.0zM425.7 448.3h1.0v1.0h-1.0zM430.1 449.5h1.0v1.0h-1.0zM435.5 449.5h1.0v1.0h-1.0zM434.1 451.1h1.0v1.0h-1.0zM428.8 451.7h1.0v1.0h-1.0zM432.0 451.4h1.0v1.0h-1.0zM426.8 449.6h1.0v1.0h-1.0zM424.2 451.3h1.0v1.0h-1.0zM430.8 447.8h1.0v1.0h-1.0zM429.8 444.0h1.0v1.0h-1.0zM430.7 451.1h1.0v1.0h-1.0zM428.9 447.1h1.0v1.0h-1.0zM430.1 448.8h1.0v1.0h-1.0zM427.3 448.2h1.0v1.0h-1.0zM430.6 452.8h1.0v1.0h-1.0zM431.7 448.2h1.0v1.0h-1.0zM428.8 451.9h1.0v1.0h-1.0zM431.7 450.0h1.0v1.0h-1.0zM423.2 448.1h1.0v1.0h-1.0zM426.4 447.2h1.0v1.0h-1.0zM433.8 452.3h1.0v1.0h-1.0zM434.8 452.1h1.0v1.0h-1.0zM429.8 453.1h1.0v1.0h-1.0zM428.7 455.7h1.0v1.0h-1.0zM424.8 451.8h1.0v1.0h-1.0zM430.2 451.9h1.0v1.0h-1.0zM431.6 450.9h1.0v1.0h-1.0zM424.1 451.4h1.0v1.0h-1.0zM430.8 450.3h1.0v1.0h-1.0zM430.6 448.9h1.0v1.0h-1.0zM430.5 456.1h1.0v1.0h-1.0zM425.3 446.5h1.0v1.0h-1.0zM430.8 451.8h1.0v1.0h-1.0zM424.1 452.2h1.0v1.0h-1.0zM433.9 451.5h1.0v1.0h-1.0zM429.4 448.7h1.0v1.0h-1.0zM425.2 450.7h1.0v1.0h-1.0zM433.4 450.0h1.0v1.0h-1.0zM432.8 448.4h1.0v1.0h-1.0zM426.9 451.0h1.0v1.0h-1.0zM436.3 450.1h1.0v1.0h-1.0zM425.7 449.7h1.0v1.0h-1.0zM430.0 452.8h1.0v1.0h-1.0zM432.9 448.5h1.0v1.0h-1.0zM421.5 452.2h1.0v1.0h-1.0zM432.3 449.6h1.0v1.0h-1.0zM428.8 452.2h1.0v1.0h-1.0zM428.9 451.3h1.0v1.0h-1.0zM425.4 451.7h1.0v1.0h-1.0zM430.1 448.7h1.0v1.0h-1.0zM425.3 449.2h1.0v1.0h-1.0zM425.8 449.0h1.0v1.0h-1.0zM427.5 451.5h1.0v1.0h-1.0zM424.9 453.0h1.0v1.0h-1.0zM434.2 453.8h1.0v1.0h-1.0zM424.6 449.8h1.0v1.0h-1.0zM426.5 451.3h1.0v1.0h-1.0zM428.0 447.0h1.0v1.0h-1.0zM429.0 445.6h1.0v1.0h-1.0zM431.6 448.9h1.0v1.0h-1.0zM431.7 449.4h1.0v1.0h-1.0zM428.0 447.2h1.0v1.0h-1.0zM427.7 446.6h1.0v1.0h-1.0zM429.1 452.4h1.0v1.0h-1.0zM431.7 449.1h1.0v1.0h-1.0zM431.3 446.9h1.0v1.0h-1.0zM427.3 456.9h1.0v1.0h-1.0zM422.2 451.5h1.0v1.0h-1.0zM436.1 450.3h1.0v1.0h-1.0zM432.1 452.8h1.0v1.0h-1.0zM429.9 449.2h1.0v1.0h-1.0zM430.1 455.0h1.0v1.0h-1.0zM427.3 447.2h1.0v1.0h-1.0zM425.7 447.8h1.0v1.0h-1.0zM427.9 450.7h1.0v1.0h-1.0zM428.3 449.1h1.0v1.0h-1.0zM426.9 454.6h1.0v1.0h-1.0zM424.2 447.0h1.0v1.0h-1.0zM428.0 449.2h1.0v1.0h-1.0zM430.9 451.6h1.0v1.0h-1.0zM427.4 452.4h1.0v1.0h-1.0zM429.1 453.5h1.0v1.0h-1.0zM422.2 451.9h1.0v1.0h-1.0zM428.3 456.5h1.0v1.0h-1.0zM428.6 449.8h1.0v1.0h-1.0zM425.0 451.5h1.0v1.0h-1.0zM423.3 453.2h1.0v1.0h-1.0zM430.4 450.2h1.0v1.0h-1.0zM426.3 450.3h1.0v1.0h-1.0zM430.6 449.9h1.0v1.0h-1.0zM427.6 449.4h1.0v1.0h-1.0zM431.1 448.2h1.0v1.0h-1.0zM427.9 449.6h1.0v1.0h-1.0zM424.0 447.2h1.0v1.0h-1.0zM428.7 452.0h1.0v1.0h-1.0zM427.9 447.0h1.0v1.0h-1.0zM431.2 456.1h1.0v1.0h-1.0zM427.5 455.2h1.0v1.0h-1.0zM427.7 453.8h1.0v1.0h-1.0zM431.8 450.5h1.0v1.0h-1.0zM432.8 449.5h1.0v1.0h-1.0zM431.5 454.0h1.0v1.0h-1.0zM432.4 451.4h1.0v1.0h-1.0zM430.5 452.4h1.0v1.0h-1.0zM431.5 449.2h1.0v1.0h-1.0zM431.9 453.6h1.0v1.0h-1.0zM430.3 449.0h1.0v1.0h-1.0zM429.2 451.3h1.0v1.0h-1.0zM429.5 446.7h1.0v1.0h-1.0zM436.9 449.4h1.0v1.0h-1.0zM429.0 452.2h1.0v1.0h-1.0zM428.2 449.9h1.0v1.0h-1.0zM427.8 449.9h1.0v1.0h-1.0zM428.9 452.9h1.0v1.0h-1.0zM429.8 450.8h1.0v1.0h-1.0zM425.3 454.1h1.0v1.0h-1.0zM422.5 445.0h1.0v1.0h-1.0zM430.0 452.4h1.0v1.0h-1.0zM423.7 452.2h1.0v1.0h-1.0zM429.9 447.1h1.0v1.0h-1.0zM429.5 447.7h1.0v1.0h-1.0zM432.8 453.2h1.0v1.0h-1.0zM434.5 448.3h1.0v1.0h-1.0zM430.2 449.4h1.0v1.0h-1.0zM427.2 452.5h1.0v1.0h-1.0zM425.1 450.1h1.0v1.0h-1.0zM426.4 452.2h1.0v1.0h-1.0zM429.1 448.8h1.0v1.0h-1.0zM422.2 451.7h1.0v1.0h-1.0zM429.2 453.7h1.0v1.0h-1.0zM429.0 451.8h1.0v1.0h-1.0zM431.1 445.5h1.0v1.0h-1.0zM427.9 452.6h1.0v1.0h-1.0zM429.3 451.1h1.0v1.0h-1.0zM426.6 448.7h1.0v1.0h-1.0zM427.5 454.4h1.0v1.0h-1.0zM423.1 446.6h1.0v1.0h-1.0zM429.4 455.6h1.0v1.0h-1.0zM434.1 449.4h1.0v1.0h-1.0zM429.5 454.9h1.0v1.0h-1.0zM430.2 450.9h1.0v1.0h-1.0zM425.8 447.7h1.0v1.0h-1.0zM433.7 451.2h1.0v1.0h-1.0zM426.5 451.8h1.0v1.0h-1.0zM431.6 452.3h1.0v1.0h-1.0zM429.4 453.6h1.0v1.0h-1.0zM425.8 448.7h1.0v1.0h-1.0zM432.4 452.2h1.0v1.0h-1.0zM429.1 452.8h1.0v1.0h-1.0zM429.6 450.3h1.0v1.0h-1.0zM430.5 448.6h1.0v1.0h-1.0zM428.9 448.6h1.0v1.0h-1.0zM427.8 452.8h1.0v1.0h-1.0zM430.5 453.0h1.0v1.0h-1.0zM427.7 448.9h1.0v1.0h-1.0zM429.2 447.6h1.0v1.0h-1.0zM426.8 454.0h1.0v1.0h-1.0zM424.1 447.1h1.0v1.0h-1.0zM426.8 451.4h1.0v1.0h-1.0zM427.4 449.0h1.0v1.0h-1.0zM429.0 446.6h1.0v1.0h-1.0zM432.9 451.3h1.0v1.0h-1.0zM423.4 450.5h1.0v1.0h-1.0zM429.4 454.5h1.0v1.0h-1.0zM421.7 456.6h1.0v1.0h-1.0zM425.5 450.5h1.0v1.0h-1.0zM427.3 453.5h1.0v1.0h-1.0zM421.6 453.6h1.0v1.0h-1.0zM422.9 449.7h1.0v1.0h-1.0zM429.5 448.8h1.0v1.0h-1.0zM429.3 455.0h1.0v1.0h-1.0zM428.6 450.1h1.0v1.0h-1.0zM426.3 450.9h1.0v1.0h-1.0zM436.1 450.2h1.0v1.0h-1.0zM428.5 450.6h1.0v1.0h-1.0zM426.2 449.5h1.0v1.0h-1.0zM434.5 452.8h1.0v1.0h-1.0zM431.0 454.1h1.0v1.0h-1.0zM427.8 450.0h1.0v1.0h-1.0zM432.9 447.5h1.0v1.0h-1.0zM429.5 451.1h1.0v1.0h-1.0zM431.1 447.3h1.0v1.0h-1.0zM429.8 449.4h1.0v1.0h-1.0zM425.6 454.0h1.0v1.0h-1.0zM432.2 456.7h1.0v1.0h-1.0zM429.5 451.9h1.0v1.0h-1.0zM425.7 448.3h1.0v1.0h-1.0zM426.5 452.9h1.0v1.0h-1.0zM432.2 445.4h1.0v1.0h-1.0zM427.8 449.2h1.0v1.0h-1.0zM429.2 454.7h1.0v1.0h-1.0zM431.2 452.8h1.0v1.0h-1.0zM429.4 447.5h1.0v1.0h-1.0zM424.0 446.8h1.0v1.0h-1.0zM431.1 453.1h1.0v1.0h-1.0zM432.1 450.8h1.0v1.0h-1.0zM431.9 449.5h1.0v1.0h-1.0zM434.3 452.0h1.0v1.0h-1.0zM430.2 449.5h1.0v1.0h-1.0zM431.6 446.2h1.0v1.0h-1.0zM434.2 453.0h1.0v1.0h-1.0zM428.0 449.3h1.0v1.0h-1.0zM434.7 448.5h1.0v1.0h-1.0zM434.7 447.6h1.0v1.0h-1.0zM431.6 451.6h1.0v1.0h-1.0zM435.1 449.0h1.0v1.0h-1.0zM431.8 452.5h1.0v1.0h-1.0z"/>
<path clip-path="url(#cp2)" fill="#000" fill-opacity="0.6" d="M426.8 443.7h1.0v1.0h-1.0zM434.6 443.6h1.0v1.0h-1.0zM426.1 450.7h1.0v1.0h-1.0zM424.6 452.7h1.0v1.0h-1.0zM417.0 449.7h1.0v1.0h-1.0zM422.0 442.1h1.0v1.0h-1.0zM432.5 451.7h1.0v1.0h-1.0zM446.0 446.1h1.0v1.0h-1.0zM421.2 454.4h1.0v1.0h-1.0zM422.4 451.2h1.0v1.0h-1.0zM430.3 452.7h1.0v1.0h-1.0zM431.1 454.3h1.0v1.0h-1.0zM424.5 449.5h1.0v1.0h-1.0zM428.8 455.1h1.0v1.0h-1.0zM419.1 456.8h1.0v1.0h-1.0zM426.7 453.3h1.0v1.0h-1.0zM433.6 457.2h1.0v1.0h-1.0zM437.8 449.0h1.0v1.0h-1.0zM427.4 455.5h1.0v1.0h-1.0zM426.9 452.8h1.0v1.0h-1.0zM431.0 447.5h1.0v1.0h-1.0zM434.8 451.3h1.0v1.0h-1.0zM431.2 449.4h1.0v1.0h-1.0zM424.0 449.4h1.0v1.0h-1.0zM430.4 452.0h1.0v1.0h-1.0zM434.0 456.1h1.0v1.0h-1.0zM424.3 450.3h1.0v1.0h-1.0zM420.7 452.2h1.0v1.0h-1.0zM431.3 445.5h1.0v1.0h-1.0zM430.5 452.1h1.0v1.0h-1.0zM434.0 456.4h1.0v1.0h-1.0zM428.9 455.0h1.0v1.0h-1.0zM424.7 453.6h1.0v1.0h-1.0zM425.9 449.5h1.0v1.0h-1.0zM422.5 447.6h1.0v1.0h-1.0zM422.9 451.3h1.0v1.0h-1.0zM425.2 446.1h1.0v1.0h-1.0zM425.6 446.5h1.0v1.0h-1.0zM434.8 455.6h1.0v1.0h-1.0zM421.3 447.8h1.0v1.0h-1.0zM428.1 459.1h1.0v1.0h-1.0zM425.0 445.7h1.0v1.0h-1.0zM437.0 453.4h1.0v1.0h-1.0zM429.9 446.8h1.0v1.0h-1.0zM426.3 452.4h1.0v1.0h-1.0zM433.1 447.3h1.0v1.0h-1.0zM428.8 451.8h1.0v1.0h-1.0zM425.7 451.0h1.0v1.0h-1.0zM437.3 449.8h1.0v1.0h-1.0zM432.5 453.8h1.0v1.0h-1.0zM438.4 457.9h1.0v1.0h-1.0zM435.1 449.2h1.0v1.0h-1.0zM432.9 455.3h1.0v1.0h-1.0zM429.2 452.0h1.0v1.0h-1.0zM422.2 451.5h1.0v1.0h-1.0zM432.5 460.8h1.0v1.0h-1.0zM428.8 442.6h1.0v1.0h-1.0zM432.3 448.8h1.0v1.0h-1.0zM428.4 444.1h1.0v1.0h-1.0zM424.5 450.3h1.0v1.0h-1.0zM422.6 450.7h1.0v1.0h-1.0zM432.5 467.5h1.0v1.0h-1.0zM435.9 453.1h1.0v1.0h-1.0zM426.8 459.1h1.0v1.0h-1.0zM431.1 457.1h1.0v1.0h-1.0zM436.4 449.8h1.0v1.0h-1.0zM423.6 453.6h1.0v1.0h-1.0zM426.5 458.6h1.0v1.0h-1.0zM422.0 452.4h1.0v1.0h-1.0zM435.2 452.5h1.0v1.0h-1.0zM430.0 453.7h1.0v1.0h-1.0zM425.8 445.4h1.0v1.0h-1.0zM418.9 448.3h1.0v1.0h-1.0zM427.4 453.1h1.0v1.0h-1.0zM434.2 453.9h1.0v1.0h-1.0zM426.8 447.8h1.0v1.0h-1.0zM426.0 450.3h1.0v1.0h-1.0zM432.2 451.1h1.0v1.0h-1.0zM421.4 451.0h1.0v1.0h-1.0zM428.8 454.5h1.0v1.0h-1.0zM431.9 452.1h1.0v1.0h-1.0zM424.0 452.3h1.0v1.0h-1.0zM423.7 445.8h1.0v1.0h-1.0zM429.9 447.3h1.0v1.0h-1.0zM427.9 453.0h1.0v1.0h-1.0zM427.1 445.0h1.0v1.0h-1.0zM429.7 452.8h1.0v1.0h-1.0zM429.8 448.9h1.0v1.0h-1.0zM423.1 448.3h1.0v1.0h-1.0zM424.6 454.3h1.0v1.0h-1.0zM431.1 448.8h1.0v1.0h-1.0zM434.9 448.1h1.0v1.0h-1.0zM436.3 448.8h1.0v1.0h-1.0zM423.6 451.9h1.0v1.0h-1.0zM434.8 463.1h1.0v1.0h-1.0zM432.9 442.8h1.0v1.0h-1.0zM428.3 451.5h1.0v1.0h-1.0zM431.3 450.6h1.0v1.0h-1.0zM433.3 455.6h1.0v1.0h-1.0zM438.8 450.1h1.0v1.0h-1.0zM422.4 441.3h1.0v1.0h-1.0zM432.0 457.1h1.0v1.0h-1.0zM427.7 447.1h1.0v1.0h-1.0zM427.3 451.4h1.0v1.0h-1.0zM435.1 445.9h1.0v1.0h-1.0zM433.2 447.0h1.0v1.0h-1.0zM422.7 449.5h1.0v1.0h-1.0zM426.9 455.2h1.0v1.0h-1.0zM429.8 455.1h1.0v1.0h-1.0zM420.4 449.1h1.0v1.0h-1.0zM433.5 453.7h1.0v1.0h-1.0zM428.1 450.1h1.0v1.0h-1.0zM429.4 452.1h1.0v1.0h-1.0zM430.4 452.2h1.0v1.0h-1.0zM438.9 454.2h1.0v1.0h-1.0zM428.7 449.0h1.0v1.0h-1.0zM426.5 451.0h1.0v1.0h-1.0zM438.5 452.5h1.0v1.0h-1.0zM425.6 452.0h1.0v1.0h-1.0zM425.5 448.3h1.0v1.0h-1.0zM420.6 458.8h1.0v1.0h-1.0zM434.7 449.7h1.0v1.0h-1.0zM430.1 454.7h1.0v1.0h-1.0zM431.2 452.4h1.0v1.0h-1.0zM429.5 456.7h1.0v1.0h-1.0zM427.7 442.5h1.0v1.0h-1.0zM424.0 460.1h1.0v1.0h-1.0zM424.0 450.7h1.0v1.0h-1.0zM431.0 446.4h1.0v1.0h-1.0zM429.2 452.1h1.0v1.0h-1.0zM437.9 461.0h1.0v1.0h-1.0zM424.2 453.7h1.0v1.0h-1.0zM425.7 446.4h1.0v1.0h-1.0zM422.7 449.6h1.0v1.0h-1.0zM436.4 457.2h1.0v1.0h-1.0zM421.5 445.7h1.0v1.0h-1.0zM433.0 450.8h1.0v1.0h-1.0zM436.8 450.3h1.0v1.0h-1.0zM427.7 460.6h1.0v1.0h-1.0zM432.7 450.4h1.0v1.0h-1.0zM416.3 457.1h1.0v1.0h-1.0zM426.3 448.7h1.0v1.0h-1.0zM419.0 448.2h1.0v1.0h-1.0zM429.5 455.8h1.0v1.0h-1.0zM428.6 454.2h1.0v1.0h-1.0zM424.1 444.4h1.0v1.0h-1.0zM434.0 454.2h1.0v1.0h-1.0zM430.6 454.3h1.0v1.0h-1.0zM425.5 449.0h1.0v1.0h-1.0zM425.6 452.5h1.0v1.0h-1.0zM420.1 452.7h1.0v1.0h-1.0zM427.5 449.5h1.0v1.0h-1.0zM440.7 449.1h1.0v1.0h-1.0zM424.5 448.8h1.0v1.0h-1.0zM431.0 450.4h1.0v1.0h-1.0zM425.4 446.0h1.0v1.0h-1.0zM433.2 451.4h1.0v1.0h-1.0zM431.1 445.3h1.0v1.0h-1.0zM427.2 451.9h1.0v1.0h-1.0zM418.3 451.2h1.0v1.0h-1.0zM425.6 447.2h1.0v1.0h-1.0zM435.4 455.1h1.0v1.0h-1.0zM427.2 459.6h1.0v1.0h-1.0zM432.2 457.1h1.0v1.0h-1.0zM425.8 445.9h1.0v1.0h-1.0zM417.9 456.9h1.0v1.0h-1.0zM431.0 452.5h1.0v1.0h-1.0zM430.4 451.3h1.0v1.0h-1.0zM425.2 449.1h1.0v1.0h-1.0zM426.4 451.5h1.0v1.0h-1.0zM430.2 457.3h1.0v1.0h-1.0zM425.2 453.8h1.0v1.0h-1.0zM430.5 449.8h1.0v1.0h-1.0zM427.4 448.8h1.0v1.0h-1.0zM415.0 449.8h1.0v1.0h-1.0zM427.7 454.0h1.0v1.0h-1.0zM425.1 459.3h1.0v1.0h-1.0zM423.8 447.1h1.0v1.0h-1.0zM430.9 451.5h1.0v1.0h-1.0zM425.8 450.0h1.0v1.0h-1.0zM431.7 448.4h1.0v1.0h-1.0zM434.8 453.2h1.0v1.0h-1.0zM429.4 453.9h1.0v1.0h-1.0zM419.7 445.7h1.0v1.0h-1.0zM424.4 447.2h1.0v1.0h-1.0zM433.8 456.5h1.0v1.0h-1.0zM427.1 452.9h1.0v1.0h-1.0zM423.9 453.7h1.0v1.0h-1.0zM428.1 449.5h1.0v1.0h-1.0zM431.5 450.0h1.0v1.0h-1.0zM430.1 453.5h1.0v1.0h-1.0zM432.3 449.5h1.0v1.0h-1.0zM423.8 446.9h1.0v1.0h-1.0zM427.0 451.6h1.0v1.0h-1.0zM427.1 455.3h1.0v1.0h-1.0zM428.5 447.3h1.0v1.0h-1.0zM416.6 456.0h1.0v1.0h-1.0zM427.2 454.5h1.0v1.0h-1.0zM420.9 448.0h1.0v1.0h-1.0zM436.5 451.6h1.0v1.0h-1.0zM437.5 451.4h1.0v1.0h-1.0zM438.2 454.2h1.0v1.0h-1.0zM433.2 454.3h1.0v1.0h-1.0zM425.8 446.1h1.0v1.0h-1.0zM434.1 445.9h1.0v1.0h-1.0zM427.4 455.8h1.0v1.0h-1.0zM432.1 452.0h1.0v1.0h-1.0zM423.4 453.3h1.0v1.0h-1.0zM425.2 452.9h1.0v1.0h-1.0zM431.3 457.9h1.0v1.0h-1.0zM438.8 446.5h1.0v1.0h-1.0zM428.5 456.1h1.0v1.0h-1.0zM441.5 448.2h1.0v1.0h-1.0zM444.4 454.6h1.0v1.0h-1.0zM421.2 457.1h1.0v1.0h-1.0zM428.4 445.8h1.0v1.0h-1.0zM423.1 453.2h1.0v1.0h-1.0zM427.8 450.4h1.0v1.0h-1.0zM425.5 450.3h1.0v1.0h-1.0zM428.2 451.7h1.0v1.0h-1.0zM434.1 447.2h1.0v1.0h-1.0zM434.0 447.6h1.0v1.0h-1.0zM430.1 454.3h1.0v1.0h-1.0zM428.6 455.1h1.0v1.0h-1.0zM429.3 449.2h1.0v1.0h-1.0zM429.3 445.5h1.0v1.0h-1.0zM431.9 461.2h1.0v1.0h-1.0zM428.6 456.1h1.0v1.0h-1.0zM431.5 453.1h1.0v1.0h-1.0zM421.1 447.3h1.0v1.0h-1.0zM433.2 449.1h1.0v1.0h-1.0zM438.6 452.6h1.0v1.0h-1.0zM429.7 447.6h1.0v1.0h-1.0zM420.5 458.2h1.0v1.0h-1.0zM436.4 452.1h1.0v1.0h-1.0zM426.7 453.2h1.0v1.0h-1.0zM411.5 447.3h1.0v1.0h-1.0zM427.4 447.8h1.0v1.0h-1.0zM432.1 448.3h1.0v1.0h-1.0zM430.8 452.7h1.0v1.0h-1.0zM435.7 450.5h1.0v1.0h-1.0zM432.2 450.4h1.0v1.0h-1.0zM429.3 452.9h1.0v1.0h-1.0zM417.3 452.5h1.0v1.0h-1.0zM422.2 457.7h1.0v1.0h-1.0zM429.7 450.7h1.0v1.0h-1.0zM432.5 447.4h1.0v1.0h-1.0zM422.7 451.5h1.0v1.0h-1.0zM425.1 457.6h1.0v1.0h-1.0zM431.3 449.3h1.0v1.0h-1.0z"/>
<path clip-path="url(#cp2)" fill="#000" fill-opacity="0.6" d="M428.8 427.6h1.0v1.0h-1.0zM427.3 414.7h1.0v1.0h-1.0zM430.0 416.8h1.0v1.0h-1.0zM429.5 445.8h1.0v1.0h-1.0zM425.7 428.6h1.0v1.0h-1.0zM427.8 407.8h1.0v1.0h-1.0zM431.9 423.7h1.0v1.0h-1.0zM432.5 421.5h1.0v1.0h-1.0zM431.8 419.2h1.0v1.0h-1.0zM431.6 405.5h1.0v1.0h-1.0zM427.4 440.7h1.0v1.0h-1.0zM427.3 420.7h1.0v1.0h-1.0zM431.9 445.7h1.0v1.0h-1.0zM424.4 400.6h1.0v1.0h-1.0zM428.4 408.8h1.0v1.0h-1.0zM422.0 425.9h1.0v1.0h-1.0zM427.2 421.9h1.0v1.0h-1.0zM426.1 406.2h1.0v1.0h-1.0zM424.3 418.5h1.0v1.0h-1.0zM430.6 429.4h1.0v1.0h-1.0zM426.0 421.9h1.0v1.0h-1.0zM427.3 421.1h1.0v1.0h-1.0zM427.7 427.7h1.0v1.0h-1.0zM426.0 425.0h1.0v1.0h-1.0zM433.6 415.3h1.0v1.0h-1.0zM426.8 429.9h1.0v1.0h-1.0zM429.3 421.6h1.0v1.0h-1.0zM424.0 404.7h1.0v1.0h-1.0zM426.9 411.9h1.0v1.0h-1.0zM427.4 421.1h1.0v1.0h-1.0zM427.5 413.8h1.0v1.0h-1.0zM426.5 401.8h1.0v1.0h-1.0zM429.1 424.7h1.0v1.0h-1.0zM434.1 440.2h1.0v1.0h-1.0zM428.1 415.6h1.0v1.0h-1.0zM428.1 417.6h1.0v1.0h-1.0zM427.2 436.4h1.0v1.0h-1.0zM437.6 428.4h1.0v1.0h-1.0zM434.3 422.6h1.0v1.0h-1.0zM430.6 412.3h1.0v1.0h-1.0zM431.1 431.0h1.0v1.0h-1.0zM426.1 400.8h1.0v1.0h-1.0zM428.0 403.1h1.0v1.0h-1.0zM429.3 433.5h1.0v1.0h-1.0zM429.0 421.9h1.0v1.0h-1.0zM425.6 410.7h1.0v1.0h-1.0zM425.8 417.5h1.0v1.0h-1.0zM430.4 437.6h1.0v1.0h-1.0zM429.7 400.0h1.0v1.0h-1.0zM421.1 405.1h1.0v1.0h-1.0zM428.9 421.6h1.0v1.0h-1.0zM433.1 424.4h1.0v1.0h-1.0zM426.3 409.6h1.0v1.0h-1.0zM429.4 433.1h1.0v1.0h-1.0zM423.5 427.1h1.0v1.0h-1.0zM431.5 410.4h1.0v1.0h-1.0zM424.7 413.0h1.0v1.0h-1.0zM424.2 430.4h1.0v1.0h-1.0zM427.5 439.3h1.0v1.0h-1.0zM437.0 433.8h1.0v1.0h-1.0zM426.4 413.6h1.0v1.0h-1.0zM424.1 404.7h1.0v1.0h-1.0zM430.2 417.6h1.0v1.0h-1.0zM429.4 415.1h1.0v1.0h-1.0zM434.4 441.4h1.0v1.0h-1.0zM424.1 443.2h1.0v1.0h-1.0zM423.0 425.2h1.0v1.0h-1.0zM427.5 445.1h1.0v1.0h-1.0zM429.9 434.0h1.0v1.0h-1.0zM429.9 420.1h1.0v1.0h-1.0zM432.4 413.9h1.0v1.0h-1.0zM423.3 412.0h1.0v1.0h-1.0zM425.7 440.6h1.0v1.0h-1.0zM428.1 418.0h1.0v1.0h-1.0zM431.6 403.7h1.0v1.0h-1.0zM430.3 409.3h1.0v1.0h-1.0zM427.1 425.4h1.0v1.0h-1.0zM425.0 429.5h1.0v1.0h-1.0zM431.7 412.5h1.0v1.0h-1.0zM431.9 421.3h1.0v1.0h-1.0zM438.2 434.5h1.0v1.0h-1.0zM428.0 406.4h1.0v1.0h-1.0zM434.3 430.2h1.0v1.0h-1.0zM424.3 407.6h1.0v1.0h-1.0zM426.7 405.1h1.0v1.0h-1.0zM426.2 438.0h1.0v1.0h-1.0zM427.0 440.6h1.0v1.0h-1.0zM425.5 398.9h1.0v1.0h-1.0zM426.7 399.8h1.0v1.0h-1.0zM428.4 408.3h1.0v1.0h-1.0zM427.0 440.5h1.0v1.0h-1.0zM430.9 422.4h1.0v1.0h-1.0zM428.3 406.0h1.0v1.0h-1.0zM428.6 402.2h1.0v1.0h-1.0zM433.8 421.4h1.0v1.0h-1.0zM429.7 439.2h1.0v1.0h-1.0zM429.1 416.7h1.0v1.0h-1.0zM428.5 436.7h1.0v1.0h-1.0zM428.8 437.5h1.0v1.0h-1.0zM430.6 433.3h1.0v1.0h-1.0zM425.8 415.4h1.0v1.0h-1.0zM432.6 422.0h1.0v1.0h-1.0zM434.1 412.0h1.0v1.0h-1.0zM432.7 420.7h1.0v1.0h-1.0zM426.9 430.1h1.0v1.0h-1.0zM423.0 438.4h1.0v1.0h-1.0zM427.1 418.9h1.0v1.0h-1.0zM429.1 426.1h1.0v1.0h-1.0zM431.5 434.7h1.0v1.0h-1.0zM428.0 437.3h1.0v1.0h-1.0zM427.5 401.0h1.0v1.0h-1.0zM434.0 396.8h1.0v1.0h-1.0zM426.2 423.3h1.0v1.0h-1.0zM432.4 408.4h1.0v1.0h-1.0zM431.8 407.0h1.0v1.0h-1.0zM423.9 396.9h1.0v1.0h-1.0zM429.6 432.6h1.0v1.0h-1.0zM426.6 438.7h1.0v1.0h-1.0zM425.3 408.1h1.0v1.0h-1.0zM422.1 421.2h1.0v1.0h-1.0zM423.1 406.2h1.0v1.0h-1.0zM430.1 442.6h1.0v1.0h-1.0zM427.2 432.8h1.0v1.0h-1.0zM429.6 428.6h1.0v1.0h-1.0zM424.8 409.1h1.0v1.0h-1.0zM427.5 413.2h1.0v1.0h-1.0zM427.6 417.0h1.0v1.0h-1.0zM423.1 420.0h1.0v1.0h-1.0zM422.7 407.5h1.0v1.0h-1.0zM430.1 408.1h1.0v1.0h-1.0zM429.1 441.1h1.0v1.0h-1.0zM425.3 423.3h1.0v1.0h-1.0zM428.2 428.1h1.0v1.0h-1.0zM430.9 411.7h1.0v1.0h-1.0zM435.1 441.0h1.0v1.0h-1.0zM425.5 419.7h1.0v1.0h-1.0zM430.8 412.6h1.0v1.0h-1.0zM436.1 428.1h1.0v1.0h-1.0zM428.8 423.5h1.0v1.0h-1.0zM433.8 399.6h1.0v1.0h-1.0zM419.5 425.4h1.0v1.0h-1.0zM433.7 421.0h1.0v1.0h-1.0zM428.6 424.8h1.0v1.0h-1.0zM422.0 403.7h1.0v1.0h-1.0zM431.3 421.6h1.0v1.0h-1.0zM432.3 423.3h1.0v1.0h-1.0zM432.9 441.1h1.0v1.0h-1.0zM432.8 395.6h1.0v1.0h-1.0zM428.5 424.1h1.0v1.0h-1.0zM426.0 420.2h1.0v1.0h-1.0zM427.0 425.3h1.0v1.0h-1.0zM428.5 421.5h1.0v1.0h-1.0zM430.0 404.0h1.0v1.0h-1.0zM426.9 440.7h1.0v1.0h-1.0zM428.8 445.1h1.0v1.0h-1.0zM431.7 414.8h1.0v1.0h-1.0zM429.7 422.4h1.0v1.0h-1.0zM436.7 408.0h1.0v1.0h-1.0zM436.2 439.6h1.0v1.0h-1.0zM424.5 436.8h1.0v1.0h-1.0zM426.6 420.4h1.0v1.0h-1.0zM424.0 405.8h1.0v1.0h-1.0zM424.5 423.0h1.0v1.0h-1.0zM430.5 441.2h1.0v1.0h-1.0zM425.1 402.4h1.0v1.0h-1.0zM424.9 412.0h1.0v1.0h-1.0zM427.6 426.1h1.0v1.0h-1.0zM431.4 403.4h1.0v1.0h-1.0zM427.3 426.2h1.0v1.0h-1.0zM427.3 421.4h1.0v1.0h-1.0zM431.8 426.4h1.0v1.0h-1.0zM430.3 394.3h1.0v1.0h-1.0zM430.2 417.0h1.0v1.0h-1.0zM431.9 436.9h1.0v1.0h-1.0zM425.0 412.8h1.0v1.0h-1.0zM429.4 426.3h1.0v1.0h-1.0zM426.4 412.8h1.0v1.0h-1.0zM432.2 437.2h1.0v1.0h-1.0zM431.5 415.1h1.0v1.0h-1.0zM424.9 403.1h1.0v1.0h-1.0zM433.3 433.7h1.0v1.0h-1.0zM424.5 432.3h1.0v1.0h-1.0zM432.7 423.5h1.0v1.0h-1.0zM429.3 418.2h1.0v1.0h-1.0zM425.5 404.6h1.0v1.0h-1.0zM424.6 429.8h1.0v1.0h-1.0zM427.5 417.7h1.0v1.0h-1.0zM428.5 424.8h1.0v1.0h-1.0zM426.1 408.8h1.0v1.0h-1.0zM430.6 426.7h1.0v1.0h-1.0zM423.6 426.5h1.0v1.0h-1.0zM428.6 398.0h1.0v1.0h-1.0zM428.6 415.0h1.0v1.0h-1.0zM422.0 393.9h1.0v1.0h-1.0zM429.7 408.5h1.0v1.0h-1.0zM424.1 417.7h1.0v1.0h-1.0zM419.7 445.5h1.0v1.0h-1.0zM426.4 395.5h1.0v1.0h-1.0zM427.8 420.7h1.0v1.0h-1.0zM431.8 419.7h1.0v1.0h-1.0zM426.9 434.0h1.0v1.0h-1.0zM433.8 436.2h1.0v1.0h-1.0zM433.7 400.2h1.0v1.0h-1.0zM432.5 429.8h1.0v1.0h-1.0zM433.3 418.3h1.0v1.0h-1.0zM429.8 437.3h1.0v1.0h-1.0zM426.6 406.8h1.0v1.0h-1.0zM430.9 428.0h1.0v1.0h-1.0zM432.0 416.5h1.0v1.0h-1.0zM429.4 438.8h1.0v1.0h-1.0zM427.7 392.2h1.0v1.0h-1.0zM423.0 420.4h1.0v1.0h-1.0zM431.0 430.4h1.0v1.0h-1.0zM429.8 424.2h1.0v1.0h-1.0zM424.0 397.9h1.0v1.0h-1.0zM428.9 416.0h1.0v1.0h-1.0zM431.2 439.9h1.0v1.0h-1.0zM428.2 445.4h1.0v1.0h-1.0zM431.4 397.1h1.0v1.0h-1.0zM431.3 436.9h1.0v1.0h-1.0zM423.3 432.4h1.0v1.0h-1.0zM427.5 438.9h1.0v1.0h-1.0zM430.3 401.2h1.0v1.0h-1.0zM431.8 440.9h1.0v1.0h-1.0zM433.6 430.2h1.0v1.0h-1.0zM421.8 420.8h1.0v1.0h-1.0zM428.4 424.2h1.0v1.0h-1.0zM431.1 433.3h1.0v1.0h-1.0zM432.9 396.4h1.0v1.0h-1.0zM434.6 445.4h1.0v1.0h-1.0zM425.3 444.0h1.0v1.0h-1.0zM427.3 432.8h1.0v1.0h-1.0zM424.8 405.9h1.0v1.0h-1.0zM431.5 400.4h1.0v1.0h-1.0zM423.9 416.3h1.0v1.0h-1.0zM432.8 413.3h1.0v1.0h-1.0zM431.9 399.2h1.0v1.0h-1.0zM430.3 421.8h1.0v1.0h-1.0zM420.9 420.5h1.0v1.0h-1.0zM426.2 424.6h1.0v1.0h-1.0zM431.3 414.9h1.0v1.0h-1.0zM423.6 427.8h1.0v1.0h-1.0zM427.7 414.9h1.0v1.0h-1.0zM428.2 425.1h1.0v1.0h-1.0zM431.8 435.0h1.0v1.0h-1.0zM429.6 430.3h1.0v1.0h-1.0zM429.6 409.9h1.0v1.0h-1.0zM427.0 410.8h1.0v1.0h-1.0zM428.6 418.4h1.0v1.0h-1.0zM428.1 429.0h1.0v1.0h-1.0zM431.2 438.0h1.0v1.0h-1.0zM428.0 416.5h1.0v1.0h-1.0zM432.3 440.6h1.0v1.0h-1.0zM422.5 407.8h1.0v1.0h-1.0zM432.9 417.6h1.0v1.0h-1.0zM428.0 442.7h1.0v1.0h-1.0zM432.6 435.4h1.0v1.0h-1.0zM428.9 441.4h1.0v1.0h-1.0zM431.6 402.6h1.0v1.0h-1.0zM433.9 440.2h1.0v1.0h-1.0zM426.6 426.6h1.0v1.0h-1.0zM428.9 426.5h1.0v1.0h-1.0zM428.0 399.2h1.0v1.0h-1.0zM429.3 433.1h1.0v1.0h-1.0zM422.8 401.6h1.0v1.0h-1.0zM428.0 439.2h1.0v1.0h-1.0zM427.7 407.3h1.0v1.0h-1.0zM425.8 428.7h1.0v1.0h-1.0zM427.9 426.2h1.0v1.0h-1.0zM423.1 444.2h1.0v1.0h-1.0zM433.6 420.9h1.0v1.0h-1.0zM430.2 433.2h1.0v1.0h-1.0zM435.3 416.6h1.0v1.0h-1.0zM425.5 395.1h1.0v1.0h-1.0zM424.4 427.6h1.0v1.0h-1.0zM429.6 422.2h1.0v1.0h-1.0zM422.6 424.7h1.0v1.0h-1.0zM429.4 420.5h1.0v1.0h-1.0zM426.1 424.3h1.0v1.0h-1.0zM427.4 439.5h1.0v1.0h-1.0zM429.5 421.8h1.0v1.0h-1.0zM428.7 402.9h1.0v1.0h-1.0zM435.2 415.9h1.0v1.0h-1.0zM430.8 413.6h1.0v1.0h-1.0zM424.0 425.2h1.0v1.0h-1.0zM432.1 438.5h1.0v1.0h-1.0zM423.8 401.6h1.0v1.0h-1.0zM428.9 410.9h1.0v1.0h-1.0zM424.1 444.8h1.0v1.0h-1.0zM425.6 429.1h1.0v1.0h-1.0zM433.2 424.8h1.0v1.0h-1.0zM426.6 440.0h1.0v1.0h-1.0zM426.3 401.5h1.0v1.0h-1.0zM426.6 445.3h1.0v1.0h-1.0zM427.5 436.9h1.0v1.0h-1.0zM433.7 441.8h1.0v1.0h-1.0zM424.4 418.8h1.0v1.0h-1.0zM424.2 439.4h1.0v1.0h-1.0zM430.6 436.2h1.0v1.0h-1.0zM422.9 412.7h1.0v1.0h-1.0zM427.3 417.9h1.0v1.0h-1.0zM432.6 419.0h1.0v1.0h-1.0zM428.6 419.1h1.0v1.0h-1.0zM426.9 426.5h1.0v1.0h-1.0zM426.0 421.2h1.0v1.0h-1.0zM425.3 417.3h1.0v1.0h-1.0zM426.5 424.4h1.0v1.0h-1.0zM429.0 406.8h1.0v1.0h-1.0zM433.0 403.7h1.0v1.0h-1.0zM432.0 413.5h1.0v1.0h-1.0zM426.5 424.6h1.0v1.0h-1.0zM425.9 394.6h1.0v1.0h-1.0zM431.0 415.4h1.0v1.0h-1.0zM422.1 430.8h1.0v1.0h-1.0zM427.0 408.2h1.0v1.0h-1.0zM427.4 404.9h1.0v1.0h-1.0zM424.6 430.1h1.0v1.0h-1.0zM425.0 410.9h1.0v1.0h-1.0zM429.8 402.5h1.0v1.0h-1.0zM422.6 413.2h1.0v1.0h-1.0zM425.3 438.5h1.0v1.0h-1.0zM426.2 420.9h1.0v1.0h-1.0zM428.8 415.6h1.0v1.0h-1.0zM423.6 426.8h1.0v1.0h-1.0zM432.4 396.6h1.0v1.0h-1.0zM427.4 425.2h1.0v1.0h-1.0zM427.6 394.0h1.0v1.0h-1.0zM427.2 421.6h1.0v1.0h-1.0zM426.1 393.2h1.0v1.0h-1.0zM425.0 422.3h1.0v1.0h-1.0zM432.6 407.4h1.0v1.0h-1.0zM429.2 431.3h1.0v1.0h-1.0zM428.1 406.6h1.0v1.0h-1.0zM432.0 418.4h1.0v1.0h-1.0zM426.0 413.4h1.0v1.0h-1.0zM430.7 436.1h1.0v1.0h-1.0zM428.6 406.7h1.0v1.0h-1.0zM425.3 406.6h1.0v1.0h-1.0zM431.2 434.7h1.0v1.0h-1.0zM423.2 396.7h1.0v1.0h-1.0zM430.8 422.5h1.0v1.0h-1.0zM425.3 406.6h1.0v1.0h-1.0zM429.9 400.3h1.0v1.0h-1.0zM433.4 407.8h1.0v1.0h-1.0zM430.5 425.3h1.0v1.0h-1.0zM426.3 405.9h1.0v1.0h-1.0zM428.3 399.9h1.0v1.0h-1.0zM427.1 397.0h1.0v1.0h-1.0zM424.3 401.7h1.0v1.0h-1.0zM424.5 407.3h1.0v1.0h-1.0zM428.6 422.7h1.0v1.0h-1.0zM430.3 443.2h1.0v1.0h-1.0zM422.2 429.9h1.0v1.0h-1.0zM428.2 420.9h1.0v1.0h-1.0zM430.2 397.7h1.0v1.0h-1.0zM428.8 421.7h1.0v1.0h-1.0zM424.9 406.4h1.0v1.0h-1.0zM432.1 423.0h1.0v1.0h-1.0zM424.1 399.3h1.0v1.0h-1.0zM430.7 439.9h1.0v1.0h-1.0zM434.1 429.6h1.0v1.0h-1.0zM421.2 418.2h1.0v1.0h-1.0zM429.3 417.9h1.0v1.0h-1.0zM429.5 417.9h1.0v1.0h-1.0zM429.2 417.8h1.0v1.0h-1.0zM425.7 444.2h1.0v1.0h-1.0zM427.3 442.7h1.0v1.0h-1.0zM423.4 428.8h1.0v1.0h-1.0zM428.9 410.2h1.0v1.0h-1.0zM430.3 408.1h1.0v1.0h-1.0zM426.0 427.8h1.0v1.0h-1.0zM425.1 400.2h1.0v1.0h-1.0zM426.7 432.6h1.0v1.0h-1.0zM428.3 437.0h1.0v1.0h-1.0zM428.6 410.0h1.0v1.0h-1.0zM428.0 408.2h1.0v1.0h-1.0zM428.6 426.0h1.0v1.0h-1.0zM423.7 412.9h1.0v1.0h-1.0zM418.7 428.5h1.0v1.0h-1.0zM430.5 405.8h1.0v1.0h-1.0zM433.4 427.2h1.0v1.0h-1.0zM423.4 407.8h1.0v1.0h-1.0zM426.0 414.4h1.0v1.0h-1.0zM429.4 410.1h1.0v1.0h-1.0zM431.7 423.7h1.0v1.0h-1.0zM430.6 428.7h1.0v1.0h-1.0zM432.9 427.6h1.0v1.0h-1.0zM428.2 426.2h1.0v1.0h-1.0zM429.8 432.3h1.0v1.0h-1.0zM429.8 437.8h1.0v1.0h-1.0zM426.8 424.0h1.0v1.0h-1.0zM432.6 411.7h1.0v1.0h-1.0zM430.6 432.2h1.0v1.0h-1.0zM431.8 429.1h1.0v1.0h-1.0zM427.0 418.5h1.0v1.0h-1.0zM432.0 417.3h1.0v1.0h-1.0zM424.6 419.0h1.0v1.0h-1.0zM429.7 398.3h1.0v1.0h-1.0zM419.1 404.5h1.0v1.0h-1.0zM424.8 432.5h1.0v1.0h-1.0zM430.9 434.2h1.0v1.0h-1.0zM426.8 412.9h1.0v1.0h-1.0zM429.0 403.5h1.0v1.0h-1.0zM422.6 407.5h1.0v1.0h-1.0zM433.8 418.5h1.0v1.0h-1.0zM430.4 439.3h1.0v1.0h-1.0zM428.3 416.4h1.0v1.0h-1.0zM429.8 434.0h1.0v1.0h-1.0zM429.5 403.3h1.0v1.0h-1.0zM433.3 413.0h1.0v1.0h-1.0zM429.1 420.3h1.0v1.0h-1.0zM423.2 423.0h1.0v1.0h-1.0zM427.4 437.8h1.0v1.0h-1.0zM432.9 443.2h1.0v1.0h-1.0zM430.3 405.6h1.0v1.0h-1.0zM426.9 417.7h1.0v1.0h-1.0zM430.5 421.8h1.0v1.0h-1.0zM428.8 433.8h1.0v1.0h-1.0zM430.5 430.4h1.0v1.0h-1.0zM422.8 400.4h1.0v1.0h-1.0zM425.2 400.3h1.0v1.0h-1.0zM430.7 439.8h1.0v1.0h-1.0zM427.6 420.7h1.0v1.0h-1.0zM429.6 408.7h1.0v1.0h-1.0zM435.2 416.7h1.0v1.0h-1.0zM427.2 424.2h1.0v1.0h-1.0zM429.2 430.7h1.0v1.0h-1.0zM426.4 413.2h1.0v1.0h-1.0zM426.1 406.1h1.0v1.0h-1.0zM428.1 420.8h1.0v1.0h-1.0zM423.2 395.5h1.0v1.0h-1.0zM420.9 437.5h1.0v1.0h-1.0zM433.1 408.4h1.0v1.0h-1.0zM428.0 438.4h1.0v1.0h-1.0zM432.3 400.0h1.0v1.0h-1.0zM428.8 428.4h1.0v1.0h-1.0zM428.9 418.4h1.0v1.0h-1.0zM430.7 401.8h1.0v1.0h-1.0zM430.9 420.6h1.0v1.0h-1.0zM424.1 436.1h1.0v1.0h-1.0zM432.6 416.7h1.0v1.0h-1.0zM424.9 419.0h1.0v1.0h-1.0zM429.1 428.8h1.0v1.0h-1.0zM437.3 440.5h1.0v1.0h-1.0zM428.6 412.3h1.0v1.0h-1.0zM434.2 424.8h1.0v1.0h-1.0zM427.1 439.7h1.0v1.0h-1.0zM430.5 418.6h1.0v1.0h-1.0zM428.5 426.0h1.0v1.0h-1.0zM429.8 431.5h1.0v1.0h-1.0zM425.3 401.9h1.0v1.0h-1.0zM425.1 442.5h1.0v1.0h-1.0zM429.5 407.7h1.0v1.0h-1.0zM422.8 418.9h1.0v1.0h-1.0zM425.4 429.6h1.0v1.0h-1.0zM430.6 403.7h1.0v1.0h-1.0zM426.2 406.0h1.0v1.0h-1.0zM425.2 424.9h1.0v1.0h-1.0zM424.4 434.2h1.0v1.0h-1.0zM428.9 430.6h1.0v1.0h-1.0zM427.1 430.9h1.0v1.0h-1.0zM428.9 422.7h1.0v1.0h-1.0zM427.7 409.6h1.0v1.0h-1.0zM434.9 408.3h1.0v1.0h-1.0zM426.8 403.5h1.0v1.0h-1.0zM421.5 443.4h1.0v1.0h-1.0zM428.8 434.3h1.0v1.0h-1.0zM428.4 427.7h1.0v1.0h-1.0zM428.9 420.8h1.0v1.0h-1.0zM422.7 434.8h1.0v1.0h-1.0zM432.3 402.5h1.0v1.0h-1.0zM428.2 408.5h1.0v1.0h-1.0zM428.2 408.0h1.0v1.0h-1.0zM422.8 435.1h1.0v1.0h-1.0zM430.0 412.4h1.0v1.0h-1.0zM428.1 425.8h1.0v1.0h-1.0zM433.1 421.4h1.0v1.0h-1.0zM426.9 408.5h1.0v1.0h-1.0zM424.0 419.7h1.0v1.0h-1.0zM428.8 394.6h1.0v1.0h-1.0z"/>
<path clip-path="url(#cp2)" fill="#000" fill-opacity="0.32" d="M441.6 435.3h1.0v1.0h-1.0zM443.1 428.2h1.0v1.0h-1.0zM447.2 402.9h1.0v1.0h-1.0zM444.8 430.2h1.0v1.0h-1.0zM441.7 414.4h1.0v1.0h-1.0zM446.3 429.8h1.0v1.0h-1.0zM439.4 436.2h1.0v1.0h-1.0zM439.0 399.3h1.0v1.0h-1.0zM448.2 396.9h1.0v1.0h-1.0zM442.5 403.3h1.0v1.0h-1.0zM457.8 405.1h1.0v1.0h-1.0zM437.9 424.3h1.0v1.0h-1.0zM443.3 401.0h1.0v1.0h-1.0zM446.6 403.8h1.0v1.0h-1.0zM452.6 398.9h1.0v1.0h-1.0zM443.9 419.7h1.0v1.0h-1.0zM437.5 421.4h1.0v1.0h-1.0zM438.8 432.4h1.0v1.0h-1.0zM442.5 403.7h1.0v1.0h-1.0zM439.3 421.7h1.0v1.0h-1.0zM446.3 406.4h1.0v1.0h-1.0zM438.1 393.1h1.0v1.0h-1.0zM447.8 397.5h1.0v1.0h-1.0zM438.9 425.2h1.0v1.0h-1.0zM446.8 438.0h1.0v1.0h-1.0zM443.1 401.6h1.0v1.0h-1.0zM443.0 422.1h1.0v1.0h-1.0zM450.6 424.6h1.0v1.0h-1.0zM442.4 401.5h1.0v1.0h-1.0zM438.8 419.7h1.0v1.0h-1.0zM457.4 403.7h1.0v1.0h-1.0zM437.2 389.2h1.0v1.0h-1.0zM441.3 435.7h1.0v1.0h-1.0zM441.5 407.7h1.0v1.0h-1.0zM445.5 431.9h1.0v1.0h-1.0zM451.5 414.0h1.0v1.0h-1.0zM442.0 420.7h1.0v1.0h-1.0zM437.2 419.2h1.0v1.0h-1.0zM439.4 430.2h1.0v1.0h-1.0zM441.2 403.8h1.0v1.0h-1.0zM443.4 436.5h1.0v1.0h-1.0zM453.4 436.5h1.0v1.0h-1.0zM437.6 395.4h1.0v1.0h-1.0zM439.3 400.2h1.0v1.0h-1.0zM445.2 420.1h1.0v1.0h-1.0zM443.5 402.2h1.0v1.0h-1.0zM440.9 423.5h1.0v1.0h-1.0zM441.2 412.5h1.0v1.0h-1.0zM449.8 410.3h1.0v1.0h-1.0zM443.9 424.1h1.0v1.0h-1.0zM448.7 389.4h1.0v1.0h-1.0zM446.6 406.7h1.0v1.0h-1.0zM437.2 402.4h1.0v1.0h-1.0zM454.0 420.0h1.0v1.0h-1.0zM442.1 390.8h1.0v1.0h-1.0zM446.0 411.9h1.0v1.0h-1.0zM443.2 422.4h1.0v1.0h-1.0zM438.0 424.7h1.0v1.0h-1.0zM439.3 425.1h1.0v1.0h-1.0zM448.0 416.2h1.0v1.0h-1.0zM452.3 417.0h1.0v1.0h-1.0zM451.9 413.5h1.0v1.0h-1.0zM449.0 421.0h1.0v1.0h-1.0zM438.3 403.7h1.0v1.0h-1.0zM448.2 403.6h1.0v1.0h-1.0zM450.1 430.4h1.0v1.0h-1.0zM444.3 440.3h1.0v1.0h-1.0zM440.8 421.5h1.0v1.0h-1.0zM446.8 397.5h1.0v1.0h-1.0zM438.7 426.4h1.0v1.0h-1.0zM456.5 416.7h1.0v1.0h-1.0zM440.9 426.2h1.0v1.0h-1.0zM444.0 405.6h1.0v1.0h-1.0zM456.5 425.9h1.0v1.0h-1.0zM448.8 401.3h1.0v1.0h-1.0zM441.0 423.1h1.0v1.0h-1.0zM443.9 414.5h1.0v1.0h-1.0zM445.6 412.0h1.0v1.0h-1.0zM450.0 427.7h1.0v1.0h-1.0zM439.0 431.1h1.0v1.0h-1.0zM451.8 425.1h1.0v1.0h-1.0zM452.1 419.0h1.0v1.0h-1.0zM440.2 404.0h1.0v1.0h-1.0zM439.9 390.8h1.0v1.0h-1.0zM448.7 417.2h1.0v1.0h-1.0zM440.1 409.8h1.0v1.0h-1.0zM445.2 390.3h1.0v1.0h-1.0zM447.5 405.9h1.0v1.0h-1.0zM448.2 436.8h1.0v1.0h-1.0zM448.7 415.1h1.0v1.0h-1.0zM441.5 406.8h1.0v1.0h-1.0zM451.8 392.8h1.0v1.0h-1.0zM437.9 425.0h1.0v1.0h-1.0zM437.8 389.6h1.0v1.0h-1.0zM444.0 402.0h1.0v1.0h-1.0zM449.4 417.0h1.0v1.0h-1.0zM441.7 410.5h1.0v1.0h-1.0zM452.6 407.3h1.0v1.0h-1.0zM443.6 403.5h1.0v1.0h-1.0zM445.4 422.9h1.0v1.0h-1.0zM437.5 428.9h1.0v1.0h-1.0zM439.9 405.9h1.0v1.0h-1.0zM444.4 437.2h1.0v1.0h-1.0zM439.0 436.3h1.0v1.0h-1.0zM447.8 421.9h1.0v1.0h-1.0zM439.5 421.5h1.0v1.0h-1.0zM450.8 395.9h1.0v1.0h-1.0zM441.6 403.8h1.0v1.0h-1.0zM445.1 409.6h1.0v1.0h-1.0zM447.2 432.4h1.0v1.0h-1.0zM443.7 399.3h1.0v1.0h-1.0zM445.1 401.3h1.0v1.0h-1.0zM445.1 408.2h1.0v1.0h-1.0zM446.1 402.2h1.0v1.0h-1.0zM437.7 435.5h1.0v1.0h-1.0zM438.5 432.5h1.0v1.0h-1.0zM447.3 402.9h1.0v1.0h-1.0zM456.2 403.0h1.0v1.0h-1.0zM441.0 430.8h1.0v1.0h-1.0zM449.3 414.6h1.0v1.0h-1.0zM438.6 414.9h1.0v1.0h-1.0zM437.8 438.3h1.0v1.0h-1.0zM457.1 403.6h1.0v1.0h-1.0zM439.3 396.7h1.0v1.0h-1.0zM452.5 422.3h1.0v1.0h-1.0zM441.3 424.3h1.0v1.0h-1.0zM439.5 417.6h1.0v1.0h-1.0zM441.5 426.9h1.0v1.0h-1.0zM443.1 399.9h1.0v1.0h-1.0zM445.0 390.7h1.0v1.0h-1.0zM445.0 430.5h1.0v1.0h-1.0zM437.3 425.4h1.0v1.0h-1.0zM449.7 395.9h1.0v1.0h-1.0zM455.1 415.9h1.0v1.0h-1.0zM440.3 428.9h1.0v1.0h-1.0zM439.9 422.6h1.0v1.0h-1.0zM442.4 433.7h1.0v1.0h-1.0zM454.3 405.0h1.0v1.0h-1.0zM443.5 440.2h1.0v1.0h-1.0zM443.6 409.8h1.0v1.0h-1.0zM453.1 403.3h1.0v1.0h-1.0zM449.0 401.6h1.0v1.0h-1.0zM458.6 425.2h1.0v1.0h-1.0zM444.8 419.0h1.0v1.0h-1.0zM450.4 433.5h1.0v1.0h-1.0zM438.1 422.0h1.0v1.0h-1.0zM449.1 412.4h1.0v1.0h-1.0zM443.6 390.5h1.0v1.0h-1.0zM441.4 414.1h1.0v1.0h-1.0zM449.6 441.2h1.0v1.0h-1.0zM444.4 413.7h1.0v1.0h-1.0zM442.7 425.5h1.0v1.0h-1.0zM450.4 429.5h1.0v1.0h-1.0zM455.3 436.5h1.0v1.0h-1.0zM441.9 397.7h1.0v1.0h-1.0zM448.7 421.8h1.0v1.0h-1.0zM442.2 418.0h1.0v1.0h-1.0zM444.7 413.3h1.0v1.0h-1.0zM450.1 404.0h1.0v1.0h-1.0zM454.4 403.3h1.0v1.0h-1.0zM442.0 432.7h1.0v1.0h-1.0zM443.4 432.4h1.0v1.0h-1.0zM441.0 402.1h1.0v1.0h-1.0zM446.0 403.0h1.0v1.0h-1.0zM456.2 430.8h1.0v1.0h-1.0zM444.5 408.1h1.0v1.0h-1.0zM450.5 396.9h1.0v1.0h-1.0zM455.7 412.2h1.0v1.0h-1.0zM449.3 399.1h1.0v1.0h-1.0zM453.1 414.0h1.0v1.0h-1.0z"/>
<path clip-path="url(#cp2)" fill="#000" fill-opacity="0.5" d="M439.0 451.8h1.0v1.0h-1.0zM447.9 446.1h1.0v1.0h-1.0zM437.4 445.3h1.0v1.0h-1.0zM444.0 457.3h1.0v1.0h-1.0zM442.4 455.3h1.0v1.0h-1.0zM445.6 454.5h1.0v1.0h-1.0zM447.9 446.0h1.0v1.0h-1.0zM441.5 451.7h1.0v1.0h-1.0zM436.4 452.3h1.0v1.0h-1.0zM435.4 451.3h1.0v1.0h-1.0zM456.0 451.9h1.0v1.0h-1.0zM437.6 448.3h1.0v1.0h-1.0zM452.0 450.6h1.0v1.0h-1.0zM438.7 447.6h1.0v1.0h-1.0zM445.3 450.0h1.0v1.0h-1.0zM442.3 452.2h1.0v1.0h-1.0zM441.9 448.7h1.0v1.0h-1.0zM436.4 450.2h1.0v1.0h-1.0zM444.6 449.7h1.0v1.0h-1.0zM449.1 451.1h1.0v1.0h-1.0zM447.0 453.8h1.0v1.0h-1.0zM444.4 451.7h1.0v1.0h-1.0zM436.9 452.2h1.0v1.0h-1.0zM442.2 446.7h1.0v1.0h-1.0zM446.4 449.9h1.0v1.0h-1.0zM441.6 453.5h1.0v1.0h-1.0zM448.4 448.5h1.0v1.0h-1.0zM446.9 449.7h1.0v1.0h-1.0zM446.6 448.1h1.0v1.0h-1.0zM457.0 455.0h1.0v1.0h-1.0zM437.6 449.7h1.0v1.0h-1.0zM443.7 448.8h1.0v1.0h-1.0zM441.8 452.9h1.0v1.0h-1.0zM443.8 454.3h1.0v1.0h-1.0zM457.2 452.5h1.0v1.0h-1.0zM449.3 454.0h1.0v1.0h-1.0zM440.7 451.7h1.0v1.0h-1.0zM438.4 450.6h1.0v1.0h-1.0zM440.9 449.7h1.0v1.0h-1.0zM450.7 449.5h1.0v1.0h-1.0zM436.8 449.2h1.0v1.0h-1.0zM440.9 452.1h1.0v1.0h-1.0zM441.2 450.7h1.0v1.0h-1.0zM443.9 451.3h1.0v1.0h-1.0zM448.7 452.8h1.0v1.0h-1.0zM455.4 450.9h1.0v1.0h-1.0zM438.2 446.9h1.0v1.0h-1.0zM452.5 448.7h1.0v1.0h-1.0zM442.9 447.7h1.0v1.0h-1.0zM455.4 445.3h1.0v1.0h-1.0zM456.2 451.3h1.0v1.0h-1.0zM454.0 447.4h1.0v1.0h-1.0zM437.6 447.2h1.0v1.0h-1.0zM439.4 447.8h1.0v1.0h-1.0zM450.6 453.6h1.0v1.0h-1.0zM435.5 450.1h1.0v1.0h-1.0zM452.6 454.0h1.0v1.0h-1.0zM444.2 450.8h1.0v1.0h-1.0zM437.7 449.7h1.0v1.0h-1.0zM443.6 452.7h1.0v1.0h-1.0zM451.3 452.8h1.0v1.0h-1.0zM445.3 451.4h1.0v1.0h-1.0zM436.3 447.9h1.0v1.0h-1.0zM456.4 449.6h1.0v1.0h-1.0zM457.8 447.5h1.0v1.0h-1.0zM438.2 450.2h1.0v1.0h-1.0zM440.9 451.3h1.0v1.0h-1.0zM444.2 455.5h1.0v1.0h-1.0zM437.9 455.2h1.0v1.0h-1.0zM437.1 453.0h1.0v1.0h-1.0zM456.3 453.9h1.0v1.0h-1.0zM444.0 451.7h1.0v1.0h-1.0zM437.5 459.3h1.0v1.0h-1.0zM438.9 455.6h1.0v1.0h-1.0zM450.9 458.9h1.0v1.0h-1.0zM450.9 452.2h1.0v1.0h-1.0zM436.4 452.2h1.0v1.0h-1.0zM439.0 454.2h1.0v1.0h-1.0zM433.8 451.6h1.0v1.0h-1.0zM440.9 451.9h1.0v1.0h-1.0zM456.0 448.0h1.0v1.0h-1.0zM434.8 453.8h1.0v1.0h-1.0zM435.1 451.4h1.0v1.0h-1.0zM452.0 453.4h1.0v1.0h-1.0zM453.2 450.3h1.0v1.0h-1.0zM438.0 445.7h1.0v1.0h-1.0zM447.8 452.5h1.0v1.0h-1.0zM453.8 454.5h1.0v1.0h-1.0zM441.6 447.2h1.0v1.0h-1.0zM444.7 448.1h1.0v1.0h-1.0zM450.0 450.1h1.0v1.0h-1.0zM455.0 450.3h1.0v1.0h-1.0zM448.7 445.9h1.0v1.0h-1.0zM445.3 456.3h1.0v1.0h-1.0zM445.1 454.0h1.0v1.0h-1.0zM444.0 449.2h1.0v1.0h-1.0zM450.2 445.6h1.0v1.0h-1.0zM455.7 452.1h1.0v1.0h-1.0zM446.7 457.0h1.0v1.0h-1.0zM440.1 453.5h1.0v1.0h-1.0zM459.6 454.5h1.0v1.0h-1.0zM439.5 448.2h1.0v1.0h-1.0zM440.0 451.7h1.0v1.0h-1.0zM449.3 446.5h1.0v1.0h-1.0zM442.9 456.9h1.0v1.0h-1.0zM445.5 452.7h1.0v1.0h-1.0zM435.2 444.7h1.0v1.0h-1.0zM447.2 445.5h1.0v1.0h-1.0zM442.1 452.4h1.0v1.0h-1.0zM458.2 451.4h1.0v1.0h-1.0zM445.8 450.1h1.0v1.0h-1.0zM447.5 452.8h1.0v1.0h-1.0zM448.1 457.0h1.0v1.0h-1.0zM450.6 452.1h1.0v1.0h-1.0zM456.3 445.6h1.0v1.0h-1.0zM449.9 450.5h1.0v1.0h-1.0zM441.7 447.1h1.0v1.0h-1.0zM450.3 448.6h1.0v1.0h-1.0zM437.3 452.0h1.0v1.0h-1.0zM444.0 450.5h1.0v1.0h-1.0zM445.0 447.8h1.0v1.0h-1.0zM454.4 450.9h1.0v1.0h-1.0zM451.3 448.5h1.0v1.0h-1.0zM446.1 452.6h1.0v1.0h-1.0zM450.3 450.3h1.0v1.0h-1.0zM438.3 452.2h1.0v1.0h-1.0zM441.8 450.2h1.0v1.0h-1.0zM451.3 453.2h1.0v1.0h-1.0zM445.9 450.6h1.0v1.0h-1.0zM437.4 450.9h1.0v1.0h-1.0zM434.5 449.3h1.0v1.0h-1.0zM441.6 451.4h1.0v1.0h-1.0zM439.5 445.7h1.0v1.0h-1.0zM435.4 459.0h1.0v1.0h-1.0zM438.2 448.9h1.0v1.0h-1.0zM435.6 451.3h1.0v1.0h-1.0zM452.3 449.5h1.0v1.0h-1.0zM442.7 449.5h1.0v1.0h-1.0zM439.9 452.2h1.0v1.0h-1.0zM435.1 449.4h1.0v1.0h-1.0zM454.9 449.7h1.0v1.0h-1.0zM435.5 446.8h1.0v1.0h-1.0zM443.7 448.2h1.0v1.0h-1.0zM435.3 447.5h1.0v1.0h-1.0zM448.4 456.4h1.0v1.0h-1.0zM457.0 447.0h1.0v1.0h-1.0zM447.5 447.7h1.0v1.0h-1.0zM456.3 451.5h1.0v1.0h-1.0zM447.3 455.2h1.0v1.0h-1.0zM434.9 445.9h1.0v1.0h-1.0zM449.7 446.3h1.0v1.0h-1.0zM441.4 451.3h1.0v1.0h-1.0zM441.1 452.0h1.0v1.0h-1.0zM451.6 446.7h1.0v1.0h-1.0zM452.0 445.6h1.0v1.0h-1.0zM436.6 448.1h1.0v1.0h-1.0zM444.6 453.2h1.0v1.0h-1.0zM445.1 450.8h1.0v1.0h-1.0zM444.3 453.2h1.0v1.0h-1.0zM439.6 450.6h1.0v1.0h-1.0zM438.6 450.9h1.0v1.0h-1.0zM443.7 452.8h1.0v1.0h-1.0zM453.8 450.6h1.0v1.0h-1.0zM440.3 451.7h1.0v1.0h-1.0zM446.9 448.2h1.0v1.0h-1.0zM437.4 449.1h1.0v1.0h-1.0zM454.0 452.4h1.0v1.0h-1.0zM437.8 450.2h1.0v1.0h-1.0zM444.2 448.7h1.0v1.0h-1.0zM444.6 452.9h1.0v1.0h-1.0zM438.2 452.6h1.0v1.0h-1.0zM449.1 450.9h1.0v1.0h-1.0zM447.4 448.7h1.0v1.0h-1.0zM442.1 453.6h1.0v1.0h-1.0zM440.7 458.4h1.0v1.0h-1.0zM434.9 448.5h1.0v1.0h-1.0zM448.6 446.3h1.0v1.0h-1.0zM445.4 448.6h1.0v1.0h-1.0zM449.1 448.1h1.0v1.0h-1.0zM452.4 447.1h1.0v1.0h-1.0zM444.9 447.4h1.0v1.0h-1.0zM450.2 453.5h1.0v1.0h-1.0zM445.9 453.5h1.0v1.0h-1.0zM447.6 455.4h1.0v1.0h-1.0zM444.2 453.2h1.0v1.0h-1.0zM441.4 449.5h1.0v1.0h-1.0zM434.6 454.2h1.0v1.0h-1.0zM454.9 449.1h1.0v1.0h-1.0zM446.3 449.9h1.0v1.0h-1.0zM442.2 447.4h1.0v1.0h-1.0z"/>
<rect x="406.0" y="378.8" width="93.69999999999999" height="93.09999999999997" fill="none" stroke="#222" stroke-width="1"/>
<line x1="437.40" y1="378.80" x2="437.40" y2="471.90" stroke="#222" stroke-width="1" />
<line x1="406.00" y1="444.00" x2="499.70" y2="444.00" stroke="#222" stroke-width="1" />
<text x="408.40" y="387.00" font-size="5.5" text-anchor="start" font-weight="normal" fill="#222" stroke="#222" stroke-width="0.18" >Q23</text>
<text x="408.40" y="393.80" font-size="5.5" text-anchor="start" font-weight="normal" fill="#222" stroke="#222" stroke-width="0.18" >20.4</text>
<text x="492.40" y="387.00" font-size="5.5" text-anchor="end" font-weight="normal" fill="#222" stroke="#222" stroke-width="0.18" >Q22</text>
<text x="492.40" y="393.80" font-size="5.5" text-anchor="end" font-weight="normal" fill="#222" stroke="#222" stroke-width="0.18" >3.33</text>
<text x="408.40" y="462.00" font-size="5.5" text-anchor="start" font-weight="normal" fill="#222" stroke="#222" stroke-width="0.18" >Q24</text>
<text x="408.40" y="468.90" font-size="5.5" text-anchor="start" font-weight="normal" fill="#222" stroke="#222" stroke-width="0.18" >67.9</text>
<text x="492.40" y="462.00" font-size="5.5" text-anchor="end" font-weight="normal" fill="#222" stroke="#222" stroke-width="0.18" >Q21</text>
<text x="492.40" y="468.90" font-size="5.5" text-anchor="end" font-weight="normal" fill="#222" stroke="#222" stroke-width="0.18" >8.35</text>
<line x1="403.00" y1="388.20" x2="406.00" y2="388.20" stroke="#222" stroke-width="0.9" />
<text x="396.10" y="390.40" font-size="6" text-anchor="end" fill="#222">10</text>
<text x="396.20" y="387.60" font-size="3.9" text-anchor="start" fill="#222">5</text>
<line x1="403.00" y1="410.80" x2="406.00" y2="410.80" stroke="#222" stroke-width="0.9" />
<text x="396.10" y="413.00" font-size="6" text-anchor="end" fill="#222">10</text>
<text x="396.20" y="410.20" font-size="3.9" text-anchor="start" fill="#222">4</text>
<line x1="403.00" y1="435.40" x2="406.00" y2="435.40" stroke="#222" stroke-width="0.9" />
<text x="396.10" y="437.60" font-size="6" text-anchor="end" fill="#222">10</text>
<text x="396.20" y="434.80" font-size="3.9" text-anchor="start" fill="#222">3</text>
<line x1="403.00" y1="450.60" x2="406.00" y2="450.60" stroke="#222" stroke-width="0.9" />
<text x="400.50" y="452.80" font-size="6" text-anchor="end" fill="#222">0</text>
<line x1="403.00" y1="467.20" x2="406.00" y2="467.20" stroke="#222" stroke-width="0.9" />
<text x="396.10" y="469.40" font-size="6" text-anchor="end" fill="#222">-10</text>
<text x="396.20" y="466.60" font-size="3.9" text-anchor="start" fill="#222">3</text>
<line x1="411.50" y1="471.90" x2="411.50" y2="474.10" stroke="#222" stroke-width="0.9" />
<text x="407.10" y="482.9" font-size="6" fill="#222">-10<tspan font-size="3.9" dy="-3">3</tspan></text>
<line x1="426.80" y1="471.90" x2="426.80" y2="474.10" stroke="#222" stroke-width="0.9" />
<text x="428.60" y="482.9" font-size="6" text-anchor="middle" fill="#222">0</text>
<line x1="442.30" y1="471.90" x2="442.30" y2="474.10" stroke="#222" stroke-width="0.9" />
<text x="440.40" y="482.9" font-size="6" fill="#222">10<tspan font-size="3.9" dy="-3">3</tspan></text>
<line x1="468.40" y1="471.90" x2="468.40" y2="474.10" stroke="#222" stroke-width="0.9" />
<text x="466.50" y="482.9" font-size="6" fill="#222">10<tspan font-size="3.9" dy="-3">4</tspan></text>
<line x1="492.00" y1="471.90" x2="492.00" y2="474.10" stroke="#222" stroke-width="0.9" />
<text x="490.10" y="482.9" font-size="6" fill="#222">10<tspan font-size="3.9" dy="-3">5</tspan></text>
<rect x="425.50" y="471.60" width="3.6" height="1.6" fill="#111"/>
<rect x="404.40" y="449.2" width="1.6" height="3.2" fill="#111"/>
<line x1="262.80" y1="471.70" x2="262.80" y2="387.00" stroke="#111" stroke-width="1.6" />
<path d="M262.8 381.4L266.0 389.0L262.8 387.6L259.6 389.0Z" fill="#111"/>
<text x="252.90" y="421.00" font-size="8.4" text-anchor="middle" fill="#111" stroke="#111" stroke-width="0.25" transform="rotate(-90 252.90 421.00)" textLength="69" lengthAdjust="spacingAndGlyphs">% CD57 positives cells</text>
<line x1="289.20" y1="494.30" x2="340.50" y2="494.30" stroke="#111" stroke-width="1.6" />
<text x="344.60" y="496.80" font-size="9.8" text-anchor="start" font-weight="normal" fill="#111"  textLength="109" lengthAdjust="spacingAndGlyphs" stroke="#111" stroke-width="0.2">% NKG2C positives cells</text>
<line x1="458.00" y1="494.30" x2="492.00" y2="494.30" stroke="#111" stroke-width="1.6" />
<path d="M497.6 494.3L488.6 490.9L490.2 494.3L488.6 497.7Z" fill="#111"/>
<line x1="50.60" y1="532.60" x2="50.60" y2="625.60" stroke="#111" stroke-width="1.7" />
<line x1="47.80" y1="625.00" x2="50.60" y2="625.00" stroke="#111" stroke-width="1.1" />
<text x="44.70" y="627.30" font-size="6.4" text-anchor="end" font-weight="normal" fill="#222" stroke="#222" stroke-width="0.18" >0</text>
<line x1="47.80" y1="602.50" x2="50.60" y2="602.50" stroke="#111" stroke-width="1.1" />
<text x="44.70" y="604.80" font-size="6.4" text-anchor="end" font-weight="normal" fill="#222" stroke="#222" stroke-width="0.18" >10</text>
<line x1="47.80" y1="580.00" x2="50.60" y2="580.00" stroke="#111" stroke-width="1.1" />
<text x="44.70" y="582.30" font-size="6.4" text-anchor="end" font-weight="normal" fill="#222" stroke="#222" stroke-width="0.18" >20</text>
<line x1="47.80" y1="557.50" x2="50.60" y2="557.50" stroke="#111" stroke-width="1.1" />
<text x="44.70" y="559.80" font-size="6.4" text-anchor="end" font-weight="normal" fill="#222" stroke="#222" stroke-width="0.18" >30</text>
<line x1="47.80" y1="535.00" x2="50.60" y2="535.00" stroke="#111" stroke-width="1.1" />
<text x="44.70" y="537.30" font-size="6.4" text-anchor="end" font-weight="normal" fill="#222" stroke="#222" stroke-width="0.18" >40</text>
<line x1="49.90" y1="625.00" x2="111.80" y2="625.00" stroke="#111" stroke-width="1.6" />
<line x1="68.40" y1="625.00" x2="68.40" y2="627.60" stroke="#111" stroke-width="1.1" />
<line x1="94.40" y1="625.00" x2="94.40" y2="627.60" stroke="#111" stroke-width="1.1" />
<text x="82.10" y="527.00" font-size="9.8" text-anchor="middle" font-weight="normal" fill="#111" stroke="#111" stroke-width="0.18" >Nandi</text>
<text x="30.40" y="580.00" font-size="8.2" text-anchor="middle" fill="#111" stroke="#111" stroke-width="0.25" transform="rotate(-90 30.40 580.00)" textLength="73.8" lengthAdjust="spacingAndGlyphs">% CD57+NKG2C+ cells</text>
<line x1="67.60" y1="540.00" x2="97.70" y2="540.00" stroke="#2a2a2a" stroke-width="1.5" />
<text x="82.65" y="539.90" font-size="6.3" text-anchor="middle" font-weight="normal" fill="#1a1a1a"  stroke="#1a1a1a" stroke-width="0.3">*</text>
<line x1="68.40" y1="546.02" x2="94.40" y2="619.15" stroke="#151515" stroke-width="1.45" />
<line x1="68.40" y1="564.02" x2="94.40" y2="569.65" stroke="#151515" stroke-width="1.45" />
<line x1="68.40" y1="586.08" x2="94.40" y2="596.42" stroke="#151515" stroke-width="1.45" />
<line x1="68.40" y1="590.58" x2="94.40" y2="609.25" stroke="#151515" stroke-width="1.45" />
<line x1="68.40" y1="595.98" x2="94.40" y2="615.10" stroke="#151515" stroke-width="1.45" />
<line x1="68.40" y1="621.62" x2="94.40" y2="625.00" stroke="#151515" stroke-width="1.45" />
<line x1="68.40" y1="623.20" x2="94.40" y2="625.00" stroke="#151515" stroke-width="1.45" />
<circle cx="68.40" cy="546.02" r="1.8" fill="#545664"/>
<circle cx="94.40" cy="619.15" r="1.8" fill="#545664"/>
<circle cx="68.40" cy="564.02" r="1.8" fill="#545664"/>
<circle cx="94.40" cy="569.65" r="1.8" fill="#545664"/>
<circle cx="68.40" cy="586.08" r="1.8" fill="#545664"/>
<circle cx="94.40" cy="596.42" r="1.8" fill="#545664"/>
<circle cx="68.40" cy="590.58" r="1.8" fill="#545664"/>
<circle cx="94.40" cy="609.25" r="1.8" fill="#545664"/>
<circle cx="68.40" cy="595.98" r="1.8" fill="#545664"/>
<circle cx="94.40" cy="615.10" r="1.8" fill="#545664"/>
<circle cx="68.40" cy="621.62" r="1.8" fill="#545664"/>
<circle cx="94.40" cy="625.00" r="1.8" fill="#545664"/>
<circle cx="68.40" cy="623.20" r="1.8" fill="#545664"/>
<circle cx="94.40" cy="625.00" r="1.8" fill="#545664"/>
<text x="56.20" y="636.8" font-size="6.6" fill="#222">CD56<tspan font-size="4.4" dy="-2.8">dim</tspan></text>
<text x="56.20" y="644.2" font-size="6.6" fill="#222">CD16<tspan font-size="4.4" dy="-2.8">pos</tspan></text>
<text x="87.00" y="636.8" font-size="6.6" fill="#222">CD56<tspan font-size="4.4" dy="-2.8">neg</tspan></text>
<text x="87.00" y="644.2" font-size="6.6" fill="#222">CD16<tspan font-size="4.4" dy="-2.8">pos</tspan></text>
<line x1="170.80" y1="532.60" x2="170.80" y2="625.60" stroke="#111" stroke-width="1.7" />
<line x1="168.00" y1="625.00" x2="170.80" y2="625.00" stroke="#111" stroke-width="1.1" />
<text x="164.90" y="627.30" font-size="6.4" text-anchor="end" font-weight="normal" fill="#222" stroke="#222" stroke-width="0.18" >0</text>
<line x1="168.00" y1="602.50" x2="170.80" y2="602.50" stroke="#111" stroke-width="1.1" />
<text x="164.90" y="604.80" font-size="6.4" text-anchor="end" font-weight="normal" fill="#222" stroke="#222" stroke-width="0.18" >10</text>
<line x1="168.00" y1="580.00" x2="170.80" y2="580.00" stroke="#111" stroke-width="1.1" />
<text x="164.90" y="582.30" font-size="6.4" text-anchor="end" font-weight="normal" fill="#222" stroke="#222" stroke-width="0.18" >20</text>
<line x1="168.00" y1="557.50" x2="170.80" y2="557.50" stroke="#111" stroke-width="1.1" />
<text x="164.90" y="559.80" font-size="6.4" text-anchor="end" font-weight="normal" fill="#222" stroke="#222" stroke-width="0.18" >30</text>
<line x1="168.00" y1="535.00" x2="170.80" y2="535.00" stroke="#111" stroke-width="1.1" />
<text x="164.90" y="537.30" font-size="6.4" text-anchor="end" font-weight="normal" fill="#222" stroke="#222" stroke-width="0.18" >40</text>
<line x1="170.10" y1="625.00" x2="232.00" y2="625.00" stroke="#111" stroke-width="1.6" />
<line x1="188.60" y1="625.00" x2="188.60" y2="627.60" stroke="#111" stroke-width="1.1" />
<line x1="214.60" y1="625.00" x2="214.60" y2="627.60" stroke="#111" stroke-width="1.1" />
<text x="202.30" y="527.00" font-size="9.8" text-anchor="middle" font-weight="normal" fill="#111" stroke="#111" stroke-width="0.18" >Kisumu</text>
<text x="150.60" y="580.00" font-size="8.2" text-anchor="middle" fill="#111" stroke="#111" stroke-width="0.25" transform="rotate(-90 150.60 580.00)" textLength="73.8" lengthAdjust="spacingAndGlyphs">% CD57+NKG2C+ cells</text>
<line x1="188.60" y1="553.45" x2="214.60" y2="564.25" stroke="#151515" stroke-width="1.45" />
<line x1="188.60" y1="553.45" x2="214.60" y2="566.50" stroke="#151515" stroke-width="1.45" />
<line x1="188.60" y1="604.75" x2="214.60" y2="620.50" stroke="#151515" stroke-width="1.45" />
<line x1="188.60" y1="611.50" x2="214.60" y2="621.85" stroke="#151515" stroke-width="1.45" />
<line x1="188.60" y1="622.08" x2="214.60" y2="622.08" stroke="#151515" stroke-width="1.45" />
<circle cx="188.60" cy="553.45" r="1.8" fill="#545664"/>
<circle cx="214.60" cy="564.25" r="1.8" fill="#545664"/>
<circle cx="188.60" cy="553.45" r="1.8" fill="#545664"/>
<circle cx="214.60" cy="566.50" r="1.8" fill="#545664"/>
<circle cx="188.60" cy="604.75" r="1.8" fill="#545664"/>
<circle cx="214.60" cy="620.50" r="1.8" fill="#545664"/>
<circle cx="188.60" cy="611.50" r="1.8" fill="#545664"/>
<circle cx="214.60" cy="621.85" r="1.8" fill="#545664"/>
<circle cx="188.60" cy="622.08" r="1.8" fill="#545664"/>
<circle cx="214.60" cy="622.08" r="1.8" fill="#545664"/>
<text x="176.40" y="636.8" font-size="6.6" fill="#222">CD56<tspan font-size="4.4" dy="-2.8">dim</tspan></text>
<text x="176.40" y="644.2" font-size="6.6" fill="#222">CD16<tspan font-size="4.4" dy="-2.8">pos</tspan></text>
<text x="207.20" y="636.8" font-size="6.6" fill="#222">CD56<tspan font-size="4.4" dy="-2.8">neg</tspan></text>
<text x="207.20" y="644.2" font-size="6.6" fill="#222">CD16<tspan font-size="4.4" dy="-2.8">pos</tspan></text>
<line x1="292.40" y1="532.60" x2="292.40" y2="625.60" stroke="#111" stroke-width="1.7" />
<line x1="289.60" y1="625.00" x2="292.40" y2="625.00" stroke="#111" stroke-width="1.1" />
<text x="286.50" y="627.30" font-size="6.4" text-anchor="end" font-weight="normal" fill="#222" stroke="#222" stroke-width="0.18" >0</text>
<line x1="289.60" y1="602.50" x2="292.40" y2="602.50" stroke="#111" stroke-width="1.1" />
<text x="286.50" y="604.80" font-size="6.4" text-anchor="end" font-weight="normal" fill="#222" stroke="#222" stroke-width="0.18" >10</text>
<line x1="289.60" y1="580.00" x2="292.40" y2="580.00" stroke="#111" stroke-width="1.1" />
<text x="286.50" y="582.30" font-size="6.4" text-anchor="end" font-weight="normal" fill="#222" stroke="#222" stroke-width="0.18" >20</text>
<line x1="289.60" y1="557.50" x2="292.40" y2="557.50" stroke="#111" stroke-width="1.1" />
<text x="286.50" y="559.80" font-size="6.4" text-anchor="end" font-weight="normal" fill="#222" stroke="#222" stroke-width="0.18" >30</text>
<line x1="289.60" y1="535.00" x2="292.40" y2="535.00" stroke="#111" stroke-width="1.1" />
<text x="286.50" y="537.30" font-size="6.4" text-anchor="end" font-weight="normal" fill="#222" stroke="#222" stroke-width="0.18" >40</text>
<line x1="291.70" y1="625.00" x2="353.60" y2="625.00" stroke="#111" stroke-width="1.6" />
<line x1="310.20" y1="625.00" x2="310.20" y2="627.60" stroke="#111" stroke-width="1.1" />
<line x1="336.20" y1="625.00" x2="336.20" y2="627.60" stroke="#111" stroke-width="1.1" />
<text x="323.90" y="527.00" font-size="9.8" text-anchor="middle" font-weight="normal" fill="#111" stroke="#111" stroke-width="0.18" >BL Low EBV</text>
<text x="272.20" y="580.00" font-size="8.2" text-anchor="middle" fill="#111" stroke="#111" stroke-width="0.25" transform="rotate(-90 272.20 580.00)" textLength="73.8" lengthAdjust="spacingAndGlyphs">% CD57+NKG2C+ cells</text>
<line x1="309.40" y1="540.00" x2="339.50" y2="540.00" stroke="#2a2a2a" stroke-width="1.5" />
<text x="324.45" y="539.90" font-size="6.3" text-anchor="middle" font-weight="normal" fill="#1a1a1a"  stroke="#1a1a1a" stroke-width="0.3">*</text>
<line x1="310.20" y1="549.17" x2="336.20" y2="593.73" stroke="#151515" stroke-width="1.45" />
<line x1="310.20" y1="562.00" x2="336.20" y2="613.75" stroke="#151515" stroke-width="1.45" />
<line x1="310.20" y1="566.05" x2="336.20" y2="557.27" stroke="#151515" stroke-width="1.45" />
<line x1="310.20" y1="582.92" x2="336.20" y2="615.55" stroke="#151515" stroke-width="1.45" />
<line x1="310.20" y1="595.08" x2="336.20" y2="618.48" stroke="#151515" stroke-width="1.45" />
<line x1="310.20" y1="610.60" x2="336.20" y2="621.40" stroke="#151515" stroke-width="1.45" />
<line x1="310.20" y1="612.40" x2="336.20" y2="624.10" stroke="#151515" stroke-width="1.45" />
<circle cx="310.20" cy="549.17" r="1.8" fill="#545664"/>
<circle cx="336.20" cy="593.73" r="1.8" fill="#545664"/>
<circle cx="310.20" cy="562.00" r="1.8" fill="#545664"/>
<circle cx="336.20" cy="613.75" r="1.8" fill="#545664"/>
<circle cx="310.20" cy="566.05" r="1.8" fill="#545664"/>
<circle cx="336.20" cy="557.27" r="1.8" fill="#545664"/>
<circle cx="310.20" cy="582.92" r="1.8" fill="#545664"/>
<circle cx="336.20" cy="615.55" r="1.8" fill="#545664"/>
<circle cx="310.20" cy="595.08" r="1.8" fill="#545664"/>
<circle cx="336.20" cy="618.48" r="1.8" fill="#545664"/>
<circle cx="310.20" cy="610.60" r="1.8" fill="#545664"/>
<circle cx="336.20" cy="621.40" r="1.8" fill="#545664"/>
<circle cx="310.20" cy="612.40" r="1.8" fill="#545664"/>
<circle cx="336.20" cy="624.10" r="1.8" fill="#545664"/>
<text x="298.00" y="636.8" font-size="6.6" fill="#222">CD56<tspan font-size="4.4" dy="-2.8">dim</tspan></text>
<text x="298.00" y="644.2" font-size="6.6" fill="#222">CD16<tspan font-size="4.4" dy="-2.8">pos</tspan></text>
<text x="328.80" y="636.8" font-size="6.6" fill="#222">CD56<tspan font-size="4.4" dy="-2.8">neg</tspan></text>
<text x="328.80" y="644.2" font-size="6.6" fill="#222">CD16<tspan font-size="4.4" dy="-2.8">pos</tspan></text>
<line x1="412.80" y1="532.60" x2="412.80" y2="625.60" stroke="#111" stroke-width="1.7" />
<line x1="410.00" y1="625.00" x2="412.80" y2="625.00" stroke="#111" stroke-width="1.1" />
<text x="406.90" y="627.30" font-size="6.4" text-anchor="end" font-weight="normal" fill="#222" stroke="#222" stroke-width="0.18" >0</text>
<line x1="410.00" y1="602.50" x2="412.80" y2="602.50" stroke="#111" stroke-width="1.1" />
<text x="406.90" y="604.80" font-size="6.4" text-anchor="end" font-weight="normal" fill="#222" stroke="#222" stroke-width="0.18" >10</text>
<line x1="410.00" y1="580.00" x2="412.80" y2="580.00" stroke="#111" stroke-width="1.1" />
<text x="406.90" y="582.30" font-size="6.4" text-anchor="end" font-weight="normal" fill="#222" stroke="#222" stroke-width="0.18" >20</text>
<line x1="410.00" y1="557.50" x2="412.80" y2="557.50" stroke="#111" stroke-width="1.1" />
<text x="406.90" y="559.80" font-size="6.4" text-anchor="end" font-weight="normal" fill="#222" stroke="#222" stroke-width="0.18" >30</text>
<line x1="410.00" y1="535.00" x2="412.80" y2="535.00" stroke="#111" stroke-width="1.1" />
<text x="406.90" y="537.30" font-size="6.4" text-anchor="end" font-weight="normal" fill="#222" stroke="#222" stroke-width="0.18" >40</text>
<line x1="412.10" y1="625.00" x2="474.00" y2="625.00" stroke="#111" stroke-width="1.6" />
<line x1="430.60" y1="625.00" x2="430.60" y2="627.60" stroke="#111" stroke-width="1.1" />
<line x1="456.60" y1="625.00" x2="456.60" y2="627.60" stroke="#111" stroke-width="1.1" />
<text x="444.30" y="527.00" font-size="9.8" text-anchor="middle" font-weight="normal" fill="#111" stroke="#111" stroke-width="0.18" >BL High EBV</text>
<text x="392.60" y="580.00" font-size="8.2" text-anchor="middle" fill="#111" stroke="#111" stroke-width="0.25" transform="rotate(-90 392.60 580.00)" textLength="73.8" lengthAdjust="spacingAndGlyphs">% CD57+NKG2C+ cells</text>
<line x1="430.60" y1="602.27" x2="456.60" y2="618.25" stroke="#151515" stroke-width="1.45" />
<line x1="430.60" y1="622.75" x2="456.60" y2="625.00" stroke="#151515" stroke-width="1.45" />
<line x1="430.60" y1="623.88" x2="456.60" y2="625.00" stroke="#151515" stroke-width="1.45" />
<circle cx="430.60" cy="602.27" r="1.8" fill="#545664"/>
<circle cx="456.60" cy="618.25" r="1.8" fill="#545664"/>
<circle cx="430.60" cy="622.75" r="1.8" fill="#545664"/>
<circle cx="456.60" cy="625.00" r="1.8" fill="#545664"/>
<circle cx="430.60" cy="623.88" r="1.8" fill="#545664"/>
<circle cx="456.60" cy="625.00" r="1.8" fill="#545664"/>
<text x="418.40" y="636.8" font-size="6.6" fill="#222">CD56<tspan font-size="4.4" dy="-2.8">dim</tspan></text>
<text x="418.40" y="644.2" font-size="6.6" fill="#222">CD16<tspan font-size="4.4" dy="-2.8">pos</tspan></text>
<text x="449.20" y="636.8" font-size="6.6" fill="#222">CD56<tspan font-size="4.4" dy="-2.8">neg</tspan></text>
<text x="449.20" y="644.2" font-size="6.6" fill="#222">CD16<tspan font-size="4.4" dy="-2.8">pos</tspan></text>
<rect x="0.75" y="0.75" width="518.5" height="651.5" fill="none" stroke="#000" stroke-width="1.5"/>
</svg>
</body></html>
